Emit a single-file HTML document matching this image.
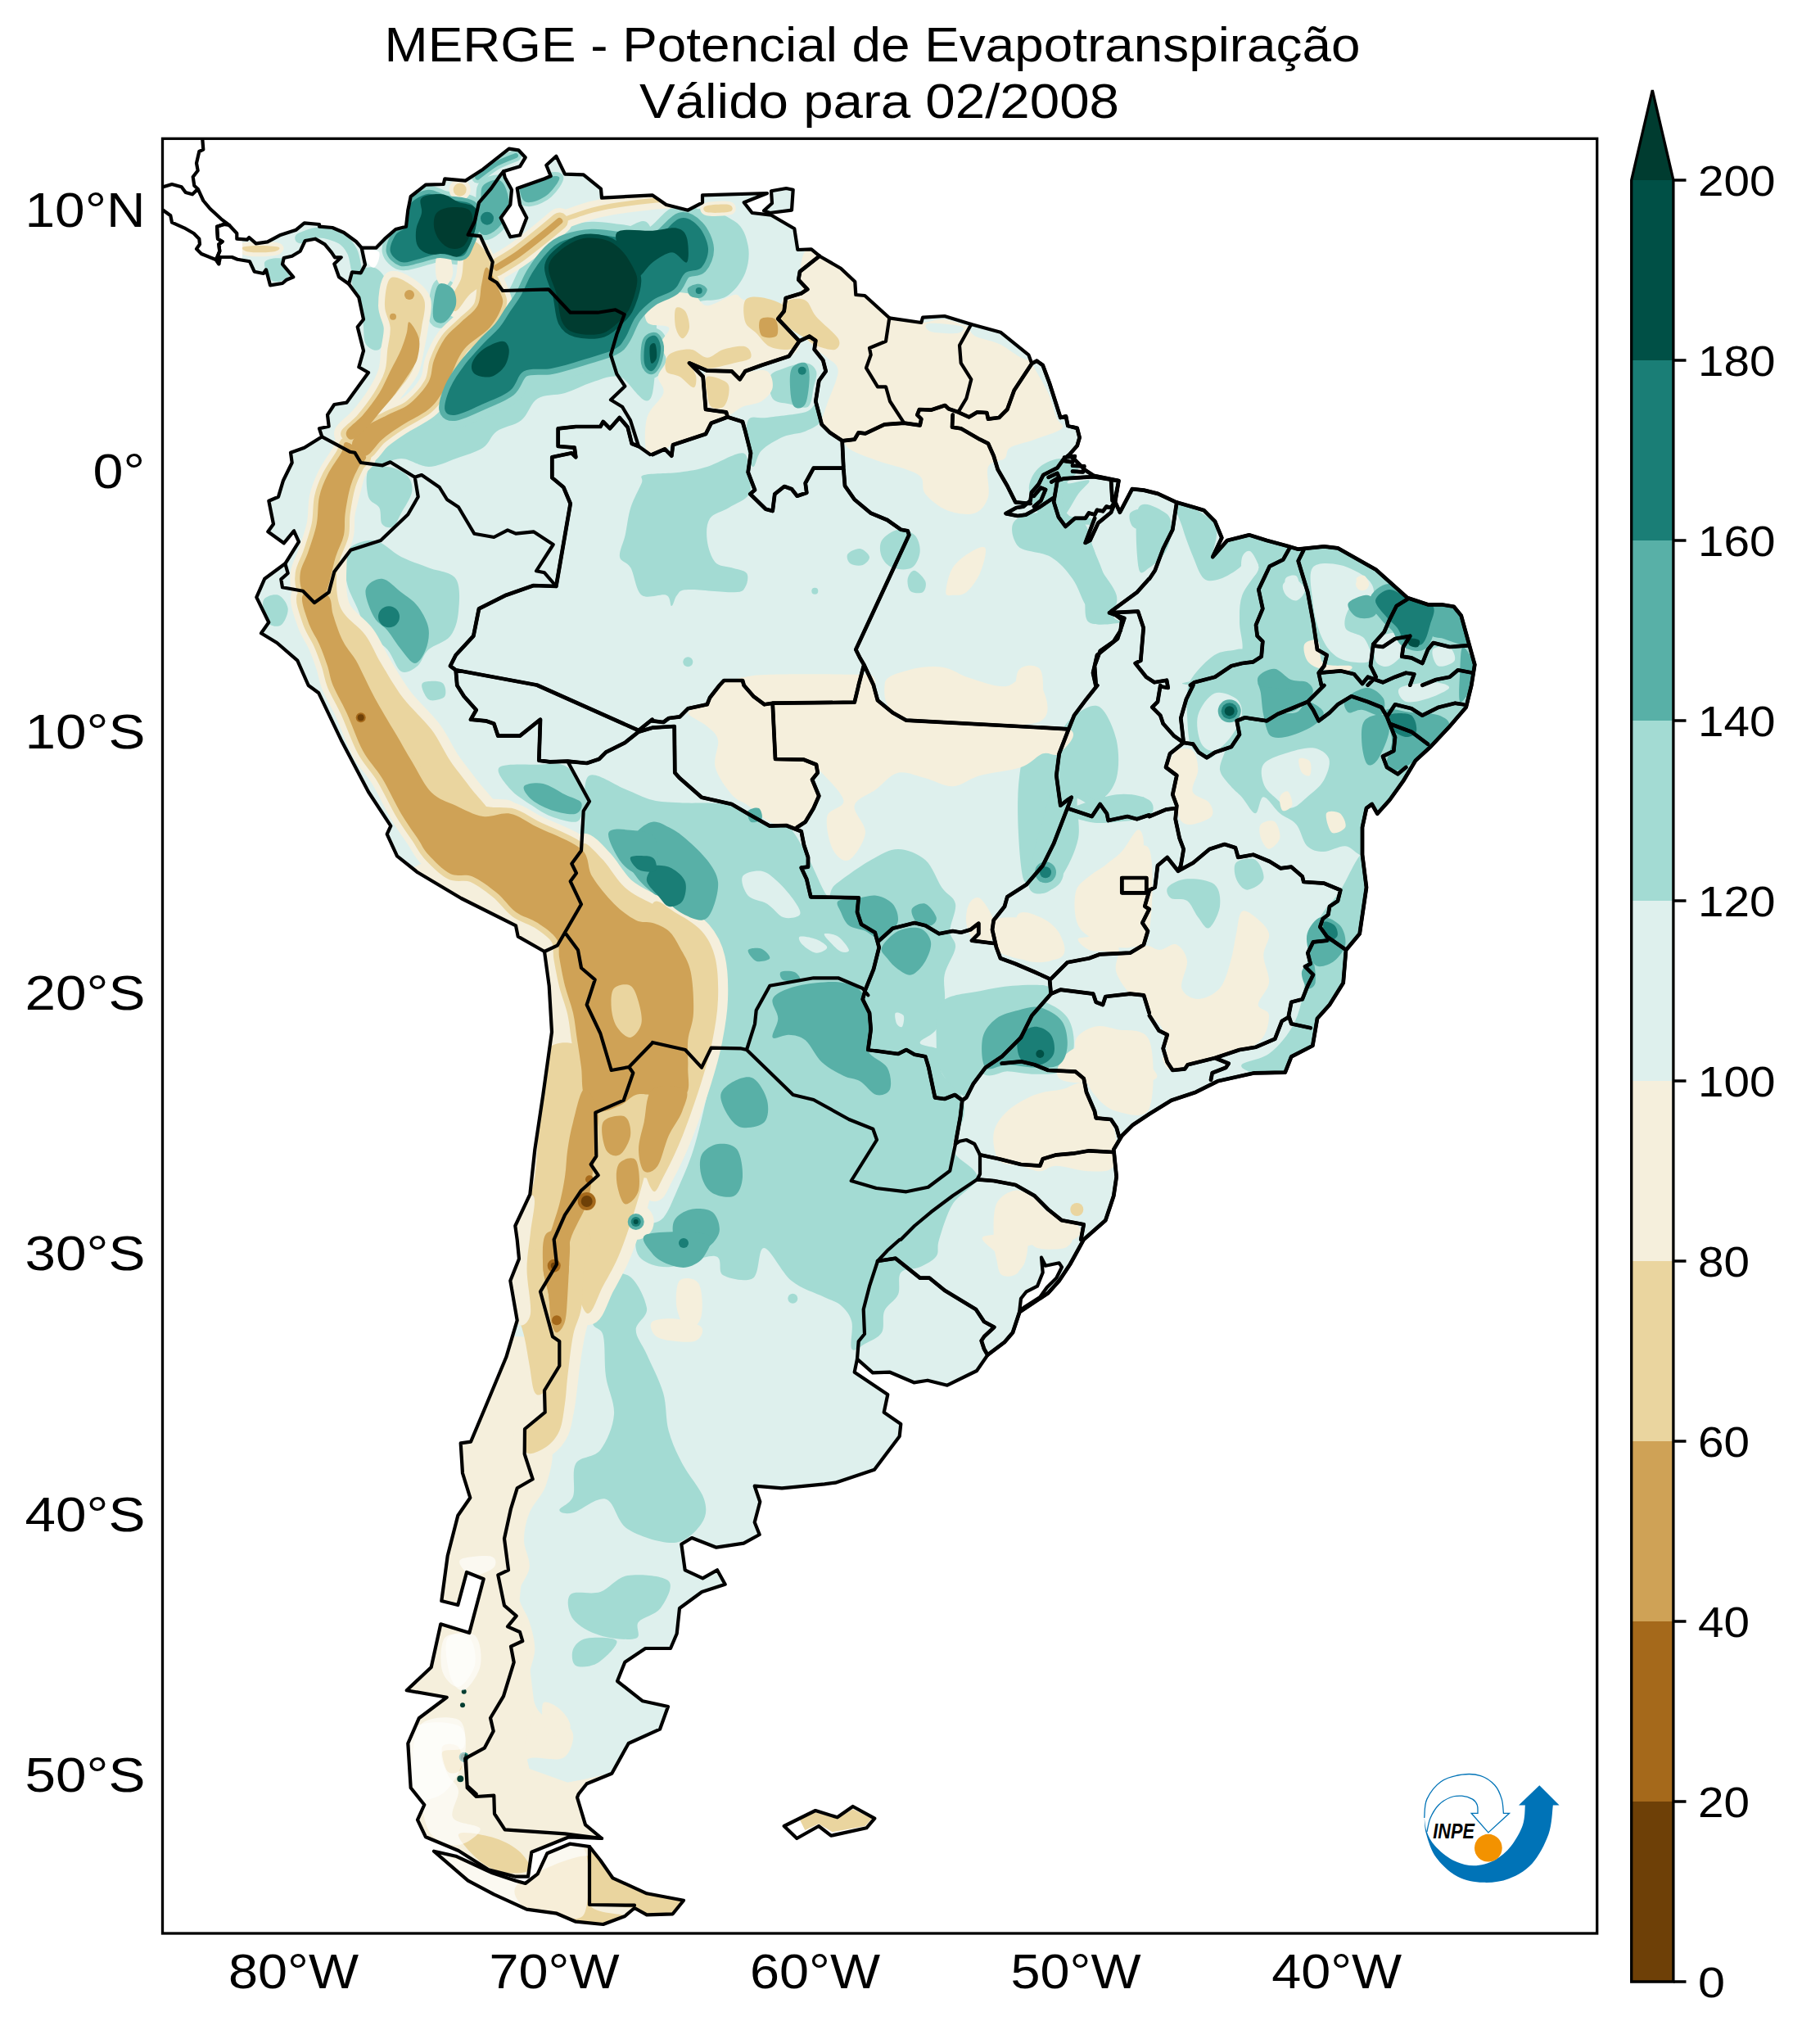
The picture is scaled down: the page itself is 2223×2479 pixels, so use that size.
<!DOCTYPE html><html><head><meta charset="utf-8"><title>MERGE</title><style>html,body{margin:0;padding:0;background:#fff}svg{display:block}text{font-family:"Liberation Sans",sans-serif;fill:#000}</style></head><body>
<svg width="2223" height="2479" viewBox="0 0 2223 2479">
<rect width="2223" height="2479" fill="#fff"/>
<defs>
<clipPath id="land"><path d="M273.3,274.0 L280.0,275.0 L289.3,285.0 L289.3,291.7 L301.7,292.7 L304.3,290.0 L312.7,297.3 L326.7,295.3 L341.7,287.3 L361.7,280.7 L371.7,272.3 L390.0,274.0 L390.0,276.7 L406.0,278.0 L420.0,284.0 L435.0,295.0 L441.7,302.7 L459.3,302.7 L470.0,291.7 L483.3,280.0 L496.0,276.7 L498.3,256.7 L501.7,240.0 L520.0,225.7 L541.7,225.0 L543.3,218.3 L568.3,220.7 L590.0,206.7 L621.7,181.7 L633.3,183.3 L641.7,192.3 L635.0,203.3 L615.0,209.3 L616.7,216.7 L625.0,231.7 L623.3,250.0 L611.7,266.0 L623.3,289.3 L635.0,287.3 L643.3,266.0 L635.0,250.0 L631.7,230.0 L665.0,218.3 L672.7,215.0 L667.3,201.7 L679.3,190.7 L690.0,212.7 L712.7,213.3 L734.0,230.7 L735.0,241.7 L796.7,238.3 L813.7,250.0 L840.3,256.7 L858.0,247.3 L858.0,238.3 L937.0,236.0 L908.7,247.3 L918.7,260.0 L942.0,262.7 L970.3,279.3 L974.3,305.0 L991.0,304.3 L1001.0,312.7 L1027.0,327.7 L1044.3,344.0 L1045.3,360.0 L1056.3,361.0 L1086.3,388.3 L1125.3,394.0 L1127.0,387.7 L1153.7,386.0 L1186.3,396.0 L1222.0,405.7 L1256.3,433.3 L1260.3,444.0 L1266.3,440.7 L1273.7,446.0 L1282.0,468.3 L1295.3,510.0 L1302.0,508.3 L1304.3,520.0 L1315.7,522.9 L1318.6,534.3 L1315.7,544.3 L1305.7,555.7 L1314.3,562.9 L1325.7,574.3 L1335.7,580.7 L1366.4,587.1 L1362.1,612.9 L1367.9,625.7 L1382.9,597.1 L1397.1,598.6 L1414.3,602.9 L1435.7,612.9 L1460.0,620.0 L1470.7,623.3 L1484.0,636.7 L1492.3,656.7 L1481.3,680.0 L1499.0,660.0 L1525.7,653.3 L1547.3,660.0 L1572.3,666.7 L1585.7,670.7 L1617.3,667.3 L1634.0,669.3 L1680.7,695.7 L1719.0,730.0 L1744.0,738.3 L1760.7,738.3 L1775.7,740.7 L1784.7,751.7 L1801.3,811.7 L1797.3,836.7 L1790.7,863.7 L1770.7,887.0 L1747.3,912.0 L1729.0,928.7 L1714.0,953.7 L1697.3,977.0 L1682.3,993.7 L1675.7,982.0 L1669.0,987.0 L1664.0,1010.3 L1664.0,1043.7 L1669.0,1083.7 L1660.7,1140.3 L1644.0,1160.3 L1640.7,1200.3 L1624.0,1227.0 L1609.0,1243.7 L1603.3,1277.0 L1577.3,1290.3 L1569.7,1309.7 L1532.3,1310.3 L1487.3,1320.3 L1460.7,1333.7 L1430.7,1343.7 L1404.0,1360.3 L1383.7,1373.7 L1370.3,1387.0 L1360.3,1403.7 L1363.7,1437.0 L1360.3,1460.3 L1357.0,1470.3 L1350.3,1490.3 L1323.7,1513.7 L1307.0,1544.0 L1293.7,1564.0 L1280.3,1579.0 L1245.3,1602.3 L1237.0,1627.3 L1227.0,1639.0 L1206.3,1654.7 L1193.0,1674.0 L1157.0,1691.7 L1133.0,1685.7 L1116.3,1688.3 L1087.0,1675.7 L1066.0,1676.3 L1047.0,1659.7 L1043.7,1675.7 L1084.3,1703.0 L1079.7,1724.7 L1100.3,1739.0 L1098.7,1754.0 L1068.0,1794.7 L1020.3,1810.7 L1007.0,1812.3 L955.0,1817.3 L921.7,1814.7 L928.3,1834.0 L921.7,1859.0 L927.7,1874.0 L908.3,1884.7 L875.0,1889.7 L845.0,1878.0 L832.3,1885.7 L836.7,1917.3 L858.3,1927.3 L876.0,1917.3 L885.7,1934.7 L857.3,1944.0 L830.0,1964.0 L826.7,1995.0 L819.0,2013.0 L788.3,2013.0 L763.3,2029.7 L754.0,2053.0 L785.0,2077.3 L816.0,2084.0 L806.0,2111.7 L767.7,2129.0 L747.3,2165.7 L716.7,2178.3 L706.7,2190.7 L705.0,2195.0 L715.0,2228.3 L735.0,2245.0 L695.0,2243.3 L649.3,2261.7 L645.0,2291.7 L630.0,2291.7 L596.7,2283.3 L560.0,2260.0 L520.0,2243.3 L510.0,2222.3 L518.3,2204.0 L501.7,2183.3 L498.3,2129.0 L511.7,2098.3 L545.7,2072.7 L496.7,2064.3 L526.7,2036.0 L538.3,1983.3 L573.3,1994.0 L590.7,1928.3 L570.0,1920.0 L559.3,1960.0 L539.3,1955.0 L546.7,1900.0 L559.3,1850.7 L574.3,1829.0 L565.0,1799.0 L562.7,1762.3 L575.0,1760.7 L593.3,1717.3 L618.3,1657.3 L631.7,1612.3 L623.3,1564.0 L634.0,1537.3 L631.7,1514.0 L629.3,1497.0 L647.3,1458.7 L653.3,1403.7 L663.3,1337.0 L674.0,1260.3 L670.7,1203.7 L665.0,1162.0 L632.7,1143.7 L630.0,1130.3 L563.3,1097.0 L510.0,1065.3 L485.0,1045.3 L472.7,1018.7 L477.3,1008.7 L450.0,967.0 L416.7,903.7 L389.3,846.3 L376.7,837.0 L363.3,806.7 L338.3,785.0 L319.0,773.3 L328.3,760.0 L313.3,729.3 L323.3,706.7 L348.3,688.3 L365.0,661.7 L359.0,648.3 L346.7,663.3 L327.3,649.3 L334.0,640.0 L328.3,611.7 L340.0,606.7 L346.0,586.7 L356.7,565.0 L355.0,552.7 L371.7,546.7 L393.3,533.3 L390.0,523.3 L401.7,520.7 L400.0,506.7 L408.3,494.0 L423.3,491.7 L450.0,455.0 L438.3,448.3 L444.0,428.3 L436.7,399.3 L444.0,390.0 L438.3,363.3 L426.0,346.7 L414.0,338.3 L408.3,322.3 L416.7,314.3 L409.0,314.3 L405.0,308.3 L396.7,298.3 L385.0,291.7 L372.7,294.0 L366.7,306.7 L356.7,312.7 L346.7,315.0 L345.0,322.7 L358.3,338.3 L350.0,341.7 L345.0,346.0 L330.0,348.3 L325.0,329.3 L321.7,334.0 L310.7,331.7 L305.0,319.3 L290.0,316.7 L283.3,314.0 L269.0,314.0 L267.3,322.3 L264.0,317.3 L268.3,306.7 L267.3,298.3 L271.7,295.0 L266.0,291.7 L265.0,276.7Z M942.0,233.3 L960.3,230.0 L968.7,231.7 L967.0,256.7 L940.3,260.0 L933.0,257.3 L943.0,248.3Z M530.0,2260.7 L556.7,2266.7 L600.0,2286.7 L630.0,2296.7 L641.7,2300.0 L656.7,2288.3 L668.3,2263.3 L696.0,2251.7 L720.0,2255.0 L733.3,2271.7 L748.3,2293.3 L790.0,2312.3 L835.0,2320.7 L821.7,2337.3 L790.0,2338.3 L775.0,2330.0 L763.3,2340.0 L736.7,2350.0 L703.3,2346.7 L680.0,2336.7 L643.3,2331.7 L603.3,2313.3 L571.7,2296.7Z M957.7,2230.0 L996.0,2211.0 L1022.7,2219.3 L1041.7,2206.0 L1068.3,2220.7 L1058.3,2232.3 L1015.0,2241.7 L1000.0,2230.0 L973.3,2245.0Z" clip-rule="nonzero"/></clipPath>
<clipPath id="data"><rect x="296" y="169.3" width="1654.7" height="2191.7"/></clipPath>
<clipPath id="frame"><rect x="198.5" y="169.3" width="1752.2" height="2191.7"/></clipPath>
</defs>
<g clip-path="url(#data)"><g clip-path="url(#land)">
<rect x="198.5" y="169.3" width="1752.2" height="2191.7" fill="#def0ed"/>
<path d="M450.0,560.0 C455.6,552.2 475.0,535.0 490.0,523.3 C505.0,511.6 528.9,500.6 540.0,490.0 C551.1,479.4 548.4,472.8 556.7,460.0 C565.0,447.2 578.9,427.8 590.0,413.3 C601.1,398.9 613.3,387.7 623.3,373.3 C633.3,358.9 638.9,341.1 650.0,326.7 C661.1,312.3 672.2,294.5 690.0,286.7 C707.8,278.9 738.9,280.0 756.7,280.0 C774.5,280.0 790.3,253.4 797.0,286.7 C803.7,320.0 803.7,451.1 797.0,480.0 C790.3,508.9 769.0,462.2 756.7,460.0 C744.4,457.8 734.4,463.4 723.3,466.7 C712.2,470.0 701.1,476.7 690.0,480.0 C678.9,483.3 665.6,481.1 656.7,486.7 C647.8,492.2 645.0,506.6 636.7,513.3 C628.4,520.0 614.5,521.1 606.7,526.7 C598.9,532.3 598.3,541.2 590.0,546.7 C581.7,552.2 567.8,556.1 556.7,560.0 C545.6,563.9 534.4,570.0 523.3,570.0 C512.2,570.0 501.1,560.0 490.0,560.0 C478.9,560.0 463.4,570.0 456.7,570.0 C450.0,570.0 444.4,567.8 450.0,560.0Z" fill="#a3dbd3"/>
<path d="M650.0,333.3 C655.5,324.4 663.3,313.4 670.0,306.7 C676.7,300.0 681.1,296.6 690.0,293.3 C698.9,290.0 712.2,287.2 723.3,286.7 C734.4,286.1 744.4,288.9 756.7,290.0 C769.0,291.1 784.7,297.2 797.0,293.3 C809.3,289.4 820.9,269.5 830.3,266.7 C839.7,263.9 847.5,270.6 853.3,276.7 C859.1,282.8 864.4,295.0 865.0,303.3 C865.6,311.6 861.4,321.7 856.7,326.7 C852.0,331.7 842.5,328.9 837.0,333.3 C831.5,337.7 830.4,347.7 823.7,353.3 C817.0,358.9 804.8,361.1 797.0,366.7 C789.2,372.3 782.3,378.9 776.7,386.7 C771.1,394.5 767.8,406.6 763.3,413.3 C758.8,420.0 758.9,422.2 750.0,426.7 C741.1,431.1 722.8,436.1 710.0,440.0 C697.2,443.9 685.0,447.8 673.3,450.0 C661.6,452.2 648.3,448.9 640.0,453.3 C631.7,457.8 631.6,470.0 623.3,476.7 C615.0,483.4 601.1,488.3 590.0,493.3 C578.9,498.3 564.5,505.6 556.7,506.7 C548.9,507.8 544.4,505.6 543.3,500.0 C542.2,494.4 546.1,482.2 550.0,473.3 C553.9,464.4 560.0,455.6 566.7,446.7 C573.4,437.8 582.8,427.8 590.0,420.0 C597.2,412.2 604.5,406.7 610.0,400.0 C615.5,393.3 618.8,386.7 623.3,380.0 C627.8,373.3 632.2,367.8 636.7,360.0 C641.2,352.2 644.5,342.2 650.0,333.3Z" fill="#a3dbd3" stroke="#a3dbd3" stroke-width="32" stroke-linejoin="round"/>
<path d="M650.0,333.3 C655.5,324.4 663.3,313.4 670.0,306.7 C676.7,300.0 681.1,296.6 690.0,293.3 C698.9,290.0 712.2,287.2 723.3,286.7 C734.4,286.1 744.4,288.9 756.7,290.0 C769.0,291.1 784.7,297.2 797.0,293.3 C809.3,289.4 820.9,269.5 830.3,266.7 C839.7,263.9 847.5,270.6 853.3,276.7 C859.1,282.8 864.4,295.0 865.0,303.3 C865.6,311.6 861.4,321.7 856.7,326.7 C852.0,331.7 842.5,328.9 837.0,333.3 C831.5,337.7 830.4,347.7 823.7,353.3 C817.0,358.9 804.8,361.1 797.0,366.7 C789.2,372.3 782.3,378.9 776.7,386.7 C771.1,394.5 767.8,406.6 763.3,413.3 C758.8,420.0 758.9,422.2 750.0,426.7 C741.1,431.1 722.8,436.1 710.0,440.0 C697.2,443.9 685.0,447.8 673.3,450.0 C661.6,452.2 648.3,448.9 640.0,453.3 C631.7,457.8 631.6,470.0 623.3,476.7 C615.0,483.4 601.1,488.3 590.0,493.3 C578.9,498.3 564.5,505.6 556.7,506.7 C548.9,507.8 544.4,505.6 543.3,500.0 C542.2,494.4 546.1,482.2 550.0,473.3 C553.9,464.4 560.0,455.6 566.7,446.7 C573.4,437.8 582.8,427.8 590.0,420.0 C597.2,412.2 604.5,406.7 610.0,400.0 C615.5,393.3 618.8,386.7 623.3,380.0 C627.8,373.3 632.2,367.8 636.7,360.0 C641.2,352.2 644.5,342.2 650.0,333.3Z" fill="#a3dbd3"/>
<path d="M503.3,246.7 C507.2,242.8 516.6,237.3 523.3,236.7 C530.0,236.1 534.4,241.1 543.3,243.3 C552.2,245.5 570.3,245.0 576.7,250.0 C583.1,255.0 582.3,265.0 581.7,273.3 C581.1,281.6 576.4,293.3 573.3,300.0 C570.2,306.7 569.4,311.6 563.3,313.3 C557.2,315.0 545.6,309.4 536.7,310.0 C527.8,310.6 517.8,315.0 510.0,316.7 C502.2,318.4 495.6,321.7 490.0,320.0 C484.4,318.3 477.8,312.2 476.7,306.7 C475.6,301.1 480.0,291.7 483.3,286.7 C486.6,281.7 493.9,281.1 496.7,276.7 C499.5,272.2 498.9,265.0 500.0,260.0 C501.1,255.0 499.4,250.6 503.3,246.7Z" fill="#a3dbd3" stroke="#a3dbd3" stroke-width="20" stroke-linejoin="round"/>
<path d="M503.3,246.7 C507.2,242.8 516.6,237.3 523.3,236.7 C530.0,236.1 534.4,241.1 543.3,243.3 C552.2,245.5 570.3,245.0 576.7,250.0 C583.1,255.0 582.3,265.0 581.7,273.3 C581.1,281.6 576.4,293.3 573.3,300.0 C570.2,306.7 569.4,311.6 563.3,313.3 C557.2,315.0 545.6,309.4 536.7,310.0 C527.8,310.6 517.8,315.0 510.0,316.7 C502.2,318.4 495.6,321.7 490.0,320.0 C484.4,318.3 477.8,312.2 476.7,306.7 C475.6,301.1 480.0,291.7 483.3,286.7 C486.6,281.7 493.9,281.1 496.7,276.7 C499.5,272.2 498.9,265.0 500.0,260.0 C501.1,255.0 499.4,250.6 503.3,246.7Z" fill="#a3dbd3"/>
<path d="M590.0,226.7 C593.9,222.2 605.0,218.3 610.0,220.0 C615.0,221.7 618.3,230.0 620.0,236.7 C621.7,243.4 622.2,252.8 620.0,260.0 C617.8,267.2 611.7,275.6 606.7,280.0 C601.7,284.4 594.5,288.4 590.0,286.7 C585.5,285.0 580.5,276.7 580.0,270.0 C579.5,263.3 585.0,253.9 586.7,246.7 C588.4,239.5 586.1,231.1 590.0,226.7Z" fill="#a3dbd3" stroke="#a3dbd3" stroke-width="12" stroke-linejoin="round"/>
<path d="M590.0,226.7 C593.9,222.2 605.0,218.3 610.0,220.0 C615.0,221.7 618.3,230.0 620.0,236.7 C621.7,243.4 622.2,252.8 620.0,260.0 C617.8,267.2 611.7,275.6 606.7,280.0 C601.7,284.4 594.5,288.4 590.0,286.7 C585.5,285.0 580.5,276.7 580.0,270.0 C579.5,263.3 585.0,253.9 586.7,246.7 C588.4,239.5 586.1,231.1 590.0,226.7Z" fill="#a3dbd3"/>
<path d="M583.3,216.7 C587.2,213.9 598.9,204.4 606.7,200.0 C614.5,195.6 626.1,191.7 630.0,190.0" fill="none" stroke="#a3dbd3" stroke-width="14" stroke-linejoin="round" stroke-linecap="round"/>
<path d="M636.7,223.3 C640.9,218.9 655.5,217.8 663.3,216.7 C671.1,215.6 682.2,213.4 683.3,216.7 C684.4,220.0 675.5,231.7 670.0,236.7 C664.5,241.7 655.3,245.6 650.0,246.7 C644.7,247.8 640.5,247.2 638.3,243.3 C636.1,239.4 632.5,227.7 636.7,223.3Z" fill="#a3dbd3" stroke="#a3dbd3" stroke-width="10" stroke-linejoin="round"/>
<path d="M636.7,223.3 C640.9,218.9 655.5,217.8 663.3,216.7 C671.1,215.6 682.2,213.4 683.3,216.7 C684.4,220.0 675.5,231.7 670.0,236.7 C664.5,241.7 655.3,245.6 650.0,246.7 C644.7,247.8 640.5,247.2 638.3,243.3 C636.1,239.4 632.5,227.7 636.7,223.3Z" fill="#a3dbd3"/>
<path d="M536.7,346.7 C540.6,344.5 550.0,348.9 553.3,353.3 C556.6,357.7 558.4,366.6 556.7,373.3 C555.0,380.0 547.8,390.5 543.3,393.3 C538.8,396.1 532.2,394.4 530.0,390.0 C527.8,385.6 528.9,373.9 530.0,366.7 C531.1,359.5 532.8,348.9 536.7,346.7Z" fill="#a3dbd3" stroke="#a3dbd3" stroke-width="12" stroke-linejoin="round"/>
<path d="M536.7,346.7 C540.6,344.5 550.0,348.9 553.3,353.3 C556.6,357.7 558.4,366.6 556.7,373.3 C555.0,380.0 547.8,390.5 543.3,393.3 C538.8,396.1 532.2,394.4 530.0,390.0 C527.8,385.6 528.9,373.9 530.0,366.7 C531.1,359.5 532.8,348.9 536.7,346.7Z" fill="#a3dbd3"/>
<path d="M430.0,336.7 C433.3,330.0 449.5,325.0 456.7,326.7 C463.9,328.4 471.6,338.9 473.3,346.7 C475.0,354.5 466.7,364.4 466.7,373.3 C466.7,382.2 473.9,391.1 473.3,400.0 C472.7,408.9 467.7,423.4 463.3,426.7 C458.9,430.0 450.0,425.6 446.7,420.0 C443.4,414.4 445.0,402.2 443.3,393.3 C441.6,384.4 438.9,376.1 436.7,366.7 C434.5,357.3 426.7,343.4 430.0,336.7Z" fill="#a3dbd3"/>
<path d="M366.7,290.7 C370.6,289.6 381.7,283.8 390.0,284.0 C398.3,284.2 410.0,287.9 416.7,291.7 C423.4,295.5 426.9,300.9 430.0,306.7 C433.1,312.5 434.2,323.4 435.0,326.7" fill="none" stroke="#a3dbd3" stroke-width="13" stroke-linejoin="round" stroke-linecap="round"/>
<path d="M323.3,320.0 C325.5,315.6 341.7,313.9 346.7,316.7 C351.7,319.5 355.5,332.3 353.3,336.7 C351.1,341.1 338.3,346.1 333.3,343.3 C328.3,340.5 321.1,324.4 323.3,320.0Z" fill="#a3dbd3"/>
<path d="M450.0,573.3 C453.9,567.2 465.5,568.9 473.3,570.0 C481.1,571.1 491.7,575.0 496.7,580.0 C501.7,585.0 504.4,592.2 503.3,600.0 C502.2,607.8 493.9,619.5 490.0,626.7 C486.1,633.9 483.9,641.1 480.0,643.3 C476.1,645.5 469.5,643.9 466.7,640.0 C463.9,636.1 466.1,625.5 463.3,620.0 C460.5,614.5 452.2,614.5 450.0,606.7 C447.8,598.9 446.1,579.4 450.0,573.3Z" fill="#a3dbd3"/>
<path d="M423.3,673.3 C428.9,665.0 445.6,658.9 456.7,660.0 C467.8,661.1 478.9,674.5 490.0,680.0 C501.1,685.5 512.2,688.8 523.3,693.3 C534.4,697.8 550.6,697.8 556.7,706.7 C562.8,715.6 561.1,735.0 560.0,746.7 C558.9,758.4 556.1,768.9 550.0,776.7 C543.9,784.5 530.0,787.2 523.3,793.3 C516.6,799.4 515.5,808.8 510.0,813.3 C504.4,817.8 496.1,823.3 490.0,820.0 C483.9,816.7 480.0,801.1 473.3,793.3 C466.6,785.5 456.1,781.6 450.0,773.3 C443.9,765.0 441.1,753.8 436.7,743.3 C432.2,732.8 425.5,721.7 423.3,710.0 C421.1,698.3 417.7,681.6 423.3,673.3Z" fill="#a3dbd3"/>
<path d="M321.7,733.3 C323.9,727.8 335.0,725.0 340.0,726.7 C345.0,728.4 351.1,737.2 351.7,743.3 C352.2,749.4 347.5,760.5 343.3,763.3 C339.1,766.1 330.3,765.0 326.7,760.0 C323.1,755.0 319.5,738.8 321.7,733.3Z" fill="#a3dbd3"/>
<path d="M787.0,580.0 C794.8,577.8 817.5,578.4 830.3,576.7 C843.1,575.0 850.9,573.9 863.7,570.0 C876.5,566.1 898.7,552.2 907.0,553.3 C915.3,554.4 912.3,568.4 913.7,576.7 C915.1,585.0 919.2,596.1 915.3,603.3 C911.4,610.5 898.3,615.0 890.3,620.0 C882.2,625.0 871.4,626.6 867.0,633.3 C862.6,640.0 862.6,651.1 863.7,660.0 C864.8,668.9 868.7,681.2 873.7,686.7 C878.7,692.2 887.3,691.1 893.7,693.3 C900.1,695.5 909.2,696.1 912.0,700.0 C914.8,703.9 912.8,712.8 910.3,716.7 C907.8,720.6 908.7,722.8 897.0,723.3 C885.3,723.8 852.0,719.4 840.3,720.0 C828.6,720.6 830.3,723.4 827.0,726.7 C823.7,730.0 822.5,740.0 820.3,740.0 C818.1,740.0 819.8,728.9 813.7,726.7 C807.6,724.5 790.9,732.3 783.7,726.7 C776.5,721.1 774.8,701.1 770.3,693.3 C765.8,685.5 758.1,686.7 757.0,680.0 C755.9,673.3 761.5,663.3 763.7,653.3 C765.9,643.3 767.0,630.5 770.3,620.0 C773.6,609.5 780.9,596.7 783.7,590.0 C786.5,583.3 779.2,582.2 787.0,580.0Z" fill="#a3dbd3"/>
<path d="M940.3,460.0 C942.5,453.9 949.8,452.8 957.0,450.0 C964.2,447.2 977.0,442.8 983.7,443.3 C990.4,443.9 995.3,448.3 997.0,453.3 C998.7,458.3 995.4,466.1 993.7,473.3 C992.0,480.5 992.0,493.4 987.0,496.7 C982.0,500.0 970.9,495.0 963.7,493.3 C956.5,491.6 947.6,492.2 943.7,486.7 C939.8,481.1 938.1,466.1 940.3,460.0Z" fill="#a3dbd3"/>
<path d="M913.7,513.3 C917.6,506.1 925.3,511.7 937.0,510.0 C948.7,508.3 973.7,506.1 983.7,503.3 C993.7,500.5 993.7,491.6 997.0,493.3 C1000.3,495.0 1005.9,507.7 1003.7,513.3 C1001.5,518.9 991.5,523.4 983.7,526.7 C975.9,530.0 965.9,529.4 957.0,533.3 C948.1,537.2 936.4,543.9 930.3,550.0 C924.2,556.1 923.1,569.5 920.3,570.0 C917.5,570.5 914.8,562.8 913.7,553.3 C912.6,543.8 909.8,520.5 913.7,513.3Z" fill="#a3dbd3"/>
<path d="M1077.0,660.0 C1080.3,654.5 1090.3,647.8 1097.0,646.7 C1103.7,645.6 1112.5,648.9 1117.0,653.3 C1121.5,657.7 1124.2,666.6 1123.7,673.3 C1123.2,680.0 1119.3,690.0 1113.7,693.3 C1108.1,696.6 1096.4,695.5 1090.3,693.3 C1084.2,691.1 1079.2,685.5 1077.0,680.0 C1074.8,674.5 1073.7,665.5 1077.0,660.0Z" fill="#a3dbd3"/>
<path d="M1035.3,676.7 C1037.2,673.7 1045.8,669.5 1050.3,670.0 C1054.8,670.5 1061.4,676.7 1062.0,680.0 C1062.6,683.3 1057.6,688.6 1053.7,690.0 C1049.8,691.4 1041.8,690.5 1038.7,688.3 C1035.6,686.1 1033.4,679.8 1035.3,676.7Z" fill="#a3dbd3"/>
<path d="M1108.7,706.7 C1109.5,702.5 1113.4,696.2 1117.0,696.7 C1120.6,697.2 1128.6,705.6 1130.3,710.0 C1132.0,714.4 1130.0,721.3 1127.0,723.3 C1124.0,725.2 1115.0,724.5 1112.0,721.7 C1109.0,718.9 1107.9,710.9 1108.7,706.7Z" fill="#a3dbd3"/>
<path d="M1243.7,633.3 C1245.9,626.6 1268.1,625.6 1277.0,626.7 C1285.9,627.8 1288.1,634.5 1297.0,640.0 C1305.9,645.5 1322.5,651.1 1330.3,660.0 C1338.1,668.9 1338.1,682.2 1343.7,693.3 C1349.3,704.4 1360.9,716.7 1363.7,726.7 C1366.5,736.7 1359.2,747.8 1360.3,753.3 C1361.4,758.8 1375.3,758.9 1370.3,760.0 C1365.3,761.1 1338.1,765.5 1330.3,760.0 C1322.5,754.5 1327.6,736.7 1323.7,726.7 C1319.8,716.7 1312.6,707.8 1307.0,700.0 C1301.4,692.2 1297.5,685.5 1290.3,680.0 C1283.1,674.5 1271.5,674.5 1263.7,666.7 C1255.9,658.9 1241.5,640.0 1243.7,633.3Z" fill="#a3dbd3"/>
<path d="M1257.0,593.3 C1258.1,585.0 1263.6,575.5 1270.3,570.0 C1277.0,564.5 1289.2,559.5 1297.0,560.0 C1304.8,560.5 1315.9,568.3 1317.0,573.3 C1318.1,578.3 1301.5,587.8 1303.7,590.0 C1305.9,592.2 1328.1,584.5 1330.3,586.7 C1332.5,588.9 1322.5,595.5 1317.0,603.3 C1311.5,611.1 1303.7,628.3 1297.0,633.3 C1290.3,638.3 1282.5,635.5 1277.0,633.3 C1271.5,631.1 1267.0,626.7 1263.7,620.0 C1260.4,613.3 1255.9,601.6 1257.0,593.3Z" fill="#a3dbd3"/>
<path d="M1297.0,590.0 C1296.5,593.3 1292.6,602.8 1293.7,610.0 C1294.8,617.2 1297.6,628.8 1303.7,633.3 C1309.8,637.8 1325.9,636.1 1330.3,636.7" fill="none" stroke="#a3dbd3" stroke-width="8" stroke-linejoin="round" stroke-linecap="round"/>
<path d="M1380.3,626.7 C1382.5,623.1 1392.5,620.6 1397.0,621.7 C1401.5,622.8 1406.5,629.1 1407.0,633.3 C1407.5,637.5 1404.2,645.0 1400.3,646.7 C1396.4,648.4 1387.0,646.6 1383.7,643.3 C1380.4,640.0 1378.1,630.3 1380.3,626.7Z" fill="#a3dbd3"/>
<path d="M847.0,260.0 C858.1,245.0 885.9,263.3 897.0,270.0 C908.1,276.7 911.5,289.4 913.7,300.0 C915.9,310.6 914.2,323.3 910.3,333.3 C906.4,343.3 898.1,354.4 890.3,360.0 C882.5,365.6 873.7,366.7 863.7,366.7 C853.7,366.7 833.1,377.8 830.3,360.0 C827.5,342.2 835.9,275.0 847.0,260.0Z" fill="#a3dbd3"/>
<circle cx="840.3" cy="808.3" r="6" fill="#a3dbd3"/>
<circle cx="995.3" cy="721.7" r="4" fill="#a3dbd3"/>
<path d="M1437.3,613.3 C1444.0,612.8 1476.7,628.9 1484.0,640.0 C1491.3,651.1 1478.5,676.7 1481.3,680.0 C1484.1,683.3 1493.3,664.5 1500.7,660.0 C1508.1,655.5 1513.8,652.2 1525.7,653.3 C1537.6,654.4 1554.2,664.0 1572.3,666.7 C1590.3,669.4 1615.9,664.5 1634.0,669.3 C1652.1,674.1 1666.5,685.6 1680.7,695.7 C1694.9,705.8 1703.2,722.5 1719.0,730.0 C1734.8,737.5 1764.8,737.1 1775.7,740.7 C1786.7,744.3 1780.4,739.9 1784.7,751.7 C1789.0,763.5 1799.2,797.5 1801.3,811.7 C1803.4,825.9 1853.5,832.5 1797.3,836.7 C1741.1,840.9 1516.2,838.4 1464.0,836.7 C1411.8,835.0 1477.3,830.6 1484.0,826.7 C1490.7,822.8 1498.5,818.9 1504.0,813.3 C1509.5,807.7 1515.6,802.2 1517.3,793.3 C1519.0,784.4 1514.0,771.1 1514.0,760.0 C1514.0,748.9 1513.4,737.8 1517.3,726.7 C1521.2,715.6 1536.2,701.1 1537.3,693.3 C1538.4,685.5 1527.9,680.0 1524.0,680.0 C1520.1,680.0 1519.5,688.8 1514.0,693.3 C1508.5,697.8 1497.9,704.5 1490.7,706.7 C1483.5,708.9 1476.3,711.2 1470.7,706.7 C1465.1,702.2 1461.8,690.6 1457.3,680.0 C1452.8,669.4 1447.3,654.4 1444.0,643.3 C1440.7,632.2 1430.6,613.8 1437.3,613.3Z" fill="#a3dbd3"/>
<path d="M1390.7,620.0 C1396.2,608.9 1417.3,622.2 1424.0,626.7 C1430.7,631.2 1430.7,638.9 1430.7,646.7 C1430.7,654.5 1428.5,665.5 1424.0,673.3 C1419.5,681.1 1409.5,690.0 1404.0,693.3 C1398.5,696.6 1392.9,705.5 1390.7,693.3 C1388.5,681.1 1385.2,631.1 1390.7,620.0Z" fill="#a3dbd3"/>
<path d="M1456.7,826.7 C1462.2,818.9 1474.4,805.6 1483.3,800.0 C1492.2,794.4 1501.1,795.5 1510.0,793.3 C1518.9,791.1 1531.7,795.6 1536.7,786.7 C1541.7,777.8 1537.8,755.6 1540.0,740.0 C1542.2,724.4 1544.5,705.0 1550.0,693.3 C1555.5,681.6 1562.2,674.2 1573.3,670.0 C1584.4,665.8 1598.9,663.8 1616.7,668.3 C1634.5,672.8 1663.1,686.4 1680.0,696.7 C1696.9,707.0 1701.0,720.6 1718.3,730.0 C1735.6,739.4 1770.3,739.5 1784.0,753.3 C1797.7,767.1 1799.7,794.4 1800.7,812.7 C1801.7,831.0 1799.0,846.8 1790.0,863.3 C1781.0,879.8 1759.5,896.7 1746.7,911.7 C1733.9,926.7 1724.1,939.7 1713.3,953.3 C1702.5,966.9 1690.0,983.8 1681.7,993.3 C1673.4,1002.8 1666.4,1001.7 1663.3,1010.0 C1660.2,1018.3 1666.6,1039.4 1663.3,1043.3 C1660.0,1047.2 1651.1,1033.8 1643.3,1033.3 C1635.5,1032.8 1624.5,1040.0 1616.7,1040.0 C1608.9,1040.0 1602.3,1038.8 1596.7,1033.3 C1591.1,1027.8 1588.9,1013.4 1583.3,1006.7 C1577.7,1000.0 1570.0,998.9 1563.3,993.3 C1556.6,987.7 1548.3,973.3 1543.3,973.3 C1538.3,973.3 1537.7,993.3 1533.3,993.3 C1528.9,993.3 1521.7,978.8 1516.7,973.3 C1511.7,967.8 1507.8,965.5 1503.3,960.0 C1498.8,954.5 1491.1,947.8 1490.0,940.0 C1488.9,932.2 1498.9,915.5 1496.7,913.3 C1494.5,911.1 1482.3,925.6 1476.7,926.7 C1471.1,927.8 1467.2,923.3 1463.3,920.0 C1459.4,916.7 1455.5,914.5 1453.3,906.7 C1451.1,898.9 1450.5,883.3 1450.0,873.3 C1449.5,863.3 1448.9,854.5 1450.0,846.7 C1451.1,838.9 1451.2,834.5 1456.7,826.7Z" fill="#a3dbd3"/>
<path d="M1296.7,893.3 C1303.1,878.3 1322.2,868.9 1330.0,866.7 C1337.8,864.5 1342.2,873.3 1343.3,880.0 C1344.4,886.7 1335.6,897.8 1336.7,906.7 C1337.8,915.6 1345.6,927.8 1350.0,933.3 C1354.4,938.8 1363.3,933.3 1363.3,940.0 C1363.3,946.7 1348.9,965.5 1350.0,973.3 C1351.1,981.1 1362.2,986.7 1370.0,986.7 C1377.8,986.7 1393.4,972.2 1396.7,973.3 C1400.0,974.4 1396.1,988.8 1390.0,993.3 C1383.9,997.8 1368.9,1001.1 1360.0,1000.0 C1351.1,998.9 1345.0,991.2 1336.7,986.7 C1328.4,982.2 1316.7,973.3 1310.0,973.3 C1303.3,973.3 1299.8,989.5 1296.7,986.7 C1293.7,983.9 1291.7,972.3 1291.7,956.7 C1291.7,941.1 1290.3,908.3 1296.7,893.3Z" fill="#a3dbd3"/>
<path d="M1243.3,633.3 C1255.5,627.7 1301.1,626.6 1316.7,633.3 C1332.3,640.0 1331.2,661.1 1336.7,673.3 C1342.2,685.5 1346.1,695.6 1350.0,706.7 C1353.9,717.8 1361.1,732.2 1360.0,740.0 C1358.9,747.8 1348.8,753.3 1343.3,753.3 C1337.8,753.3 1332.2,747.8 1326.7,740.0 C1321.2,732.2 1317.2,716.7 1310.0,706.7 C1302.8,696.7 1294.4,686.7 1283.3,680.0 C1272.2,673.3 1250.0,674.5 1243.3,666.7 C1236.6,658.9 1231.1,638.9 1243.3,633.3Z" fill="#a3dbd3"/>
<path d="M1256.7,906.7 C1265.0,895.6 1287.8,895.6 1293.3,906.7 C1298.8,917.8 1290.0,960.0 1290.0,973.3 C1290.0,986.6 1294.4,977.8 1293.3,986.7 C1292.2,995.6 1287.2,1014.5 1283.3,1026.7 C1279.4,1038.9 1275.5,1052.2 1270.0,1060.0 C1264.5,1067.8 1254.5,1087.8 1250.0,1073.3 C1245.5,1058.8 1242.2,1001.1 1243.3,973.3 C1244.4,945.5 1248.4,917.8 1256.7,906.7Z" fill="#a3dbd3"/>
<path d="M1426.7,1083.3 C1430.0,1079.4 1440.6,1073.8 1450.0,1073.3 C1459.4,1072.8 1476.6,1074.4 1483.3,1080.0 C1490.0,1085.6 1491.1,1097.8 1490.0,1106.7 C1488.9,1115.6 1481.2,1131.1 1476.7,1133.3 C1472.2,1135.5 1467.8,1125.5 1463.3,1120.0 C1458.8,1114.5 1455.5,1103.9 1450.0,1100.0 C1444.5,1096.1 1433.9,1099.5 1430.0,1096.7 C1426.1,1093.9 1423.4,1087.2 1426.7,1083.3Z" fill="#a3dbd3"/>
<path d="M1510.0,1053.3 C1513.9,1049.4 1527.8,1046.7 1533.3,1050.0 C1538.8,1053.3 1545.0,1067.2 1543.3,1073.3 C1541.6,1079.4 1528.8,1086.7 1523.3,1086.7 C1517.8,1086.7 1512.2,1078.9 1510.0,1073.3 C1507.8,1067.7 1506.1,1057.2 1510.0,1053.3Z" fill="#a3dbd3"/>
<path d="M1636.7,1088.3 C1644.5,1076.6 1658.0,1044.1 1663.3,1043.3 C1668.6,1042.5 1668.8,1067.2 1668.3,1083.3 C1667.8,1099.4 1664.2,1127.2 1660.0,1140.0 C1655.8,1152.8 1646.6,1150.0 1643.3,1160.0 C1640.0,1170.0 1643.3,1188.9 1640.0,1200.0 C1636.7,1211.1 1628.6,1219.5 1623.3,1226.7 C1618.0,1233.9 1611.7,1235.0 1608.3,1243.3 C1604.9,1251.6 1608.0,1268.9 1602.7,1276.7 C1597.4,1284.5 1582.3,1284.6 1576.7,1290.0 C1571.1,1295.4 1576.5,1306.0 1569.0,1309.3 C1561.5,1312.6 1540.4,1311.5 1531.7,1310.0 C1523.0,1308.5 1513.7,1303.9 1516.7,1300.0 C1519.8,1296.1 1540.0,1293.9 1550.0,1286.7 C1560.0,1279.5 1570.0,1267.5 1576.7,1256.7 C1583.4,1245.9 1586.7,1235.6 1590.0,1221.7 C1593.3,1207.8 1594.5,1186.9 1596.7,1173.3 C1598.9,1159.7 1600.0,1150.0 1603.3,1140.0 C1606.6,1130.0 1611.1,1121.9 1616.7,1113.3 C1622.3,1104.7 1628.9,1100.0 1636.7,1088.3Z" fill="#a3dbd3"/>
<circle cx="776.7" cy="1492.0" r="14" fill="#a3dbd3"/>
<path d="M610.0,937.0 C615.6,932.0 642.8,933.7 656.7,933.7 C670.6,933.7 682.8,929.5 693.3,937.0 C703.8,944.5 716.8,969.8 720.0,978.7 C723.2,987.6 715.5,986.1 712.7,990.3 C709.9,994.5 709.9,1002.6 703.3,1003.7 C696.7,1004.8 682.2,1000.3 673.3,997.0 C664.4,993.7 658.3,989.2 650.0,983.7 C641.7,978.2 630.0,971.5 623.3,963.7 C616.6,955.9 604.4,942.0 610.0,937.0Z" fill="#a3dbd3"/>
<path d="M516.7,833.7 C520.3,831.5 535.6,830.9 540.0,833.7 C544.4,836.5 545.5,846.7 543.3,850.3 C541.1,853.9 530.9,855.8 526.7,855.3 C522.5,854.8 520.0,850.6 518.3,847.0 C516.6,843.4 513.1,835.9 516.7,833.7Z" fill="#a3dbd3"/>
<path d="M720.0,947.0 C728.4,942.6 750.9,958.7 763.7,963.7 C776.5,968.7 785.9,974.2 797.0,977.0 C808.1,979.8 814.2,979.2 830.3,980.3 C846.4,981.4 875.4,979.0 893.7,983.7 C912.0,988.4 928.6,1004.3 940.3,1008.7 C952.0,1013.1 955.9,1003.9 963.7,1010.3 C971.5,1016.7 979.2,1033.1 987.0,1047.0 C994.8,1060.9 1004.8,1088.2 1010.3,1093.7 C1015.8,1099.2 1011.4,1087.5 1020.3,1080.3 C1029.2,1073.1 1050.9,1057.5 1063.7,1050.3 C1076.5,1043.1 1085.9,1037.0 1097.0,1037.0 C1108.1,1037.0 1121.4,1042.5 1130.3,1050.3 C1139.2,1058.1 1144.2,1074.8 1150.3,1083.7 C1156.4,1092.6 1165.3,1094.8 1167.0,1103.7 C1168.7,1112.6 1160.3,1128.1 1160.3,1137.0 C1160.3,1145.9 1168.1,1148.1 1167.0,1157.0 C1165.9,1165.9 1155.9,1179.2 1153.7,1190.3 C1151.5,1201.4 1155.4,1212.6 1153.7,1223.7 C1152.0,1234.8 1148.7,1248.7 1143.7,1257.0 C1138.7,1265.3 1122.6,1269.2 1123.7,1273.7 C1124.8,1278.2 1145.9,1277.6 1150.3,1283.7 C1154.7,1289.8 1146.4,1301.4 1150.3,1310.3 C1154.2,1319.2 1169.2,1328.1 1173.7,1337.0 C1178.2,1345.9 1178.7,1352.6 1177.0,1363.7 C1175.3,1374.8 1160.9,1391.5 1163.7,1403.7 C1166.5,1415.9 1193.7,1425.9 1193.7,1437.0 C1193.7,1448.1 1171.5,1457.5 1163.7,1470.3 C1155.9,1483.1 1150.3,1503.4 1147.0,1514.0 C1143.7,1524.6 1147.6,1528.5 1143.7,1534.0 C1139.8,1539.5 1130.9,1544.0 1123.7,1547.3 C1116.5,1550.6 1104.8,1548.4 1100.3,1554.0 C1095.8,1559.6 1100.3,1572.9 1097.0,1580.7 C1093.7,1588.5 1083.6,1592.9 1080.3,1600.7 C1077.0,1608.5 1080.9,1620.6 1077.0,1627.3 C1073.1,1634.0 1063.1,1637.4 1057.0,1640.7 C1050.9,1644.0 1043.1,1651.8 1040.3,1647.3 C1037.5,1642.8 1042.5,1622.9 1040.3,1614.0 C1038.1,1605.1 1032.6,1599.0 1027.0,1594.0 C1021.4,1589.0 1016.8,1589.0 1006.7,1584.0 C996.7,1579.0 978.9,1574.0 966.7,1564.0 C954.5,1554.0 941.1,1524.5 933.3,1524.0 C925.5,1523.5 928.3,1555.2 920.0,1560.7 C911.7,1566.2 891.1,1561.8 883.3,1557.3 C875.5,1552.8 884.4,1535.7 873.3,1534.0 C862.2,1532.3 831.7,1546.8 816.7,1547.3 C801.7,1547.8 790.0,1542.8 783.3,1537.3 C776.6,1531.8 775.5,1520.7 776.7,1514.0 C777.9,1507.3 784.7,1501.5 790.3,1497.0 C795.9,1492.5 804.2,1494.2 810.3,1487.0 C816.4,1479.8 820.9,1467.6 827.0,1453.7 C833.1,1439.8 840.9,1423.2 847.0,1403.7 C853.1,1384.2 858.7,1359.2 863.7,1337.0 C868.7,1314.8 874.2,1292.5 877.0,1270.3 C879.8,1248.1 880.8,1223.1 880.3,1203.7 C879.8,1184.3 879.2,1167.0 873.7,1153.7 C868.2,1140.4 856.5,1130.9 847.0,1123.7 C837.5,1116.5 825.3,1113.6 817.0,1110.3 C808.7,1107.0 806.0,1109.2 797.0,1103.7 C788.0,1098.2 773.3,1087.0 763.3,1077.0 C753.2,1067.0 745.6,1052.6 736.7,1043.7 C727.8,1034.8 713.9,1032.6 710.0,1023.7 C706.1,1014.8 711.6,1003.1 713.3,990.3 C715.0,977.5 711.6,951.4 720.0,947.0Z" fill="#a3dbd3"/>
<path d="M1200.3,1267.0 C1202.5,1257.0 1209.8,1249.2 1217.0,1243.7 C1224.2,1238.2 1234.8,1235.9 1243.7,1233.7 C1252.6,1231.5 1261.4,1228.1 1270.3,1230.3 C1279.2,1232.5 1291.4,1239.2 1297.0,1247.0 C1302.6,1254.8 1304.2,1268.1 1303.7,1277.0 C1303.2,1285.9 1300.4,1295.8 1293.7,1300.3 C1287.0,1304.8 1274.3,1303.7 1263.7,1303.7 C1253.1,1303.7 1240.3,1300.3 1230.3,1300.3 C1220.3,1300.3 1208.7,1309.2 1203.7,1303.7 C1198.7,1298.2 1198.1,1277.0 1200.3,1267.0Z" fill="#a3dbd3" stroke="#a3dbd3" stroke-width="16" stroke-linejoin="round"/>
<path d="M1200.3,1267.0 C1202.5,1257.0 1209.8,1249.2 1217.0,1243.7 C1224.2,1238.2 1234.8,1235.9 1243.7,1233.7 C1252.6,1231.5 1261.4,1228.1 1270.3,1230.3 C1279.2,1232.5 1291.4,1239.2 1297.0,1247.0 C1302.6,1254.8 1304.2,1268.1 1303.7,1277.0 C1303.2,1285.9 1300.4,1295.8 1293.7,1300.3 C1287.0,1304.8 1274.3,1303.7 1263.7,1303.7 C1253.1,1303.7 1240.3,1300.3 1230.3,1300.3 C1220.3,1300.3 1208.7,1309.2 1203.7,1303.7 C1198.7,1298.2 1198.1,1277.0 1200.3,1267.0Z" fill="#a3dbd3"/>
<circle cx="1277.0" cy="1065.3" r="22" fill="#a3dbd3"/>
<path d="M1297.0,893.7 C1301.5,882.6 1309.2,875.3 1317.0,870.3 C1324.8,865.3 1335.9,858.1 1343.7,863.7 C1351.5,869.3 1360.4,889.3 1363.7,903.7 C1367.0,918.1 1367.0,938.1 1363.7,950.3 C1360.4,962.5 1351.5,973.7 1343.7,977.0 C1335.9,980.3 1321.5,962.5 1317.0,970.3 C1312.5,978.1 1320.3,1007.0 1317.0,1023.7 C1313.7,1040.4 1303.7,1059.2 1297.0,1070.3 C1290.3,1081.4 1283.7,1088.1 1277.0,1090.3 C1270.3,1092.5 1259.2,1092.6 1257.0,1083.7 C1254.8,1074.8 1260.4,1052.6 1263.7,1037.0 C1267.0,1021.4 1272.6,1007.0 1277.0,990.3 C1281.4,973.6 1287.0,953.1 1290.3,937.0 C1293.6,920.9 1292.5,904.8 1297.0,893.7Z" fill="#a3dbd3"/>
<path d="M1303.7,990.3 C1298.1,995.9 1320.3,1001.5 1330.3,1003.7 C1340.3,1005.9 1351.5,1004.8 1363.7,1003.7 C1375.9,1002.6 1397.0,1001.5 1403.7,997.0 C1410.4,992.5 1410.4,981.5 1403.7,977.0 C1397.0,972.5 1380.4,968.1 1363.7,970.3 C1347.0,972.5 1309.3,984.7 1303.7,990.3Z" fill="#a3dbd3"/>
<path d="M1150.3,1223.7 C1159.2,1213.7 1182.5,1213.6 1197.0,1210.3 C1211.5,1207.0 1223.7,1204.8 1237.0,1203.7 C1250.3,1202.6 1269.2,1202.0 1277.0,1203.7 C1284.8,1205.4 1286.5,1207.6 1283.7,1213.7 C1280.9,1219.8 1266.4,1231.4 1260.3,1240.3 C1254.2,1249.2 1253.1,1258.7 1247.0,1267.0 C1240.9,1275.3 1230.9,1284.2 1223.7,1290.3 C1216.5,1296.4 1209.5,1298.1 1203.7,1303.7 C1197.9,1309.3 1192.6,1317.6 1188.7,1323.7 C1184.8,1329.8 1186.7,1342.5 1180.3,1340.3 C1173.9,1338.1 1156.4,1322.0 1150.3,1310.3 C1144.2,1298.6 1143.7,1284.7 1143.7,1270.3 C1143.7,1255.9 1141.4,1233.7 1150.3,1223.7Z" fill="#a3dbd3"/>
<path d="M723.3,1564.0 C730.5,1554.5 755.6,1551.8 766.7,1557.3 C777.8,1562.8 788.3,1586.2 790.0,1597.3 C791.7,1608.4 776.7,1614.5 776.7,1624.0 C776.7,1633.5 784.5,1641.2 790.0,1654.0 C795.5,1666.8 805.5,1685.2 810.0,1700.7 C814.5,1716.2 812.8,1732.9 816.7,1747.3 C820.6,1761.7 826.1,1773.4 833.3,1787.3 C840.5,1801.2 856.1,1818.5 860.0,1830.7 C863.9,1842.9 862.8,1851.8 856.7,1860.7 C850.6,1869.6 838.3,1882.9 823.3,1884.0 C808.3,1885.1 780.6,1876.2 766.7,1867.3 C752.8,1858.4 751.1,1834.0 740.0,1830.7 C728.9,1827.4 709.5,1845.1 700.0,1847.3 C690.5,1849.5 683.3,1847.3 683.3,1844.0 C683.3,1840.7 696.7,1836.8 700.0,1827.3 C703.3,1817.8 697.8,1796.7 703.3,1787.3 C708.8,1777.9 725.5,1780.7 733.3,1770.7 C741.1,1760.7 748.9,1742.3 750.0,1727.3 C751.1,1712.3 742.2,1696.8 740.0,1680.7 C737.8,1664.6 739.5,1641.8 736.7,1630.7 C733.9,1619.6 725.5,1625.1 723.3,1614.0 C721.1,1602.9 716.1,1573.5 723.3,1564.0Z" fill="#a3dbd3"/>
<path d="M696.7,1947.3 C702.2,1941.8 721.6,1947.9 733.3,1944.0 C745.0,1940.1 752.8,1926.2 766.7,1924.0 C780.6,1921.8 810.0,1924.0 816.7,1930.7 C823.4,1937.4 812.8,1955.7 806.7,1964.0 C800.6,1972.3 785.0,1974.6 780.0,1980.7 C775.0,1986.8 784.5,1997.9 776.7,2000.7 C768.9,2003.5 746.1,2001.2 733.3,1997.3 C720.5,1993.4 706.1,1985.6 700.0,1977.3 C693.9,1969.0 691.2,1952.8 696.7,1947.3Z" fill="#a3dbd3"/>
<path d="M700.0,2014.0 C702.2,2008.5 707.8,2002.4 716.7,2000.7 C725.6,1999.0 751.1,1999.0 753.3,2004.0 C755.5,2009.0 738.3,2025.7 730.0,2030.7 C721.7,2035.7 708.3,2036.8 703.3,2034.0 C698.3,2031.2 697.8,2019.5 700.0,2014.0Z" fill="#a3dbd3"/>
<circle cx="968.3" cy="1585.7" r="6" fill="#a3dbd3"/>
<path d="M788.7,416.7 C790.9,411.1 797.2,408.9 800.3,410.0 C803.3,411.1 806.4,417.8 807.0,423.3 C807.6,428.9 805.7,438.3 803.7,443.3 C801.8,448.3 798.1,453.3 795.3,453.3 C792.5,453.3 788.1,449.4 787.0,443.3 C785.9,437.2 786.5,422.2 788.7,416.7Z" fill="#a3dbd3" stroke="#a3dbd3" stroke-width="18" stroke-linejoin="round"/>
<path d="M788.7,416.7 C790.9,411.1 797.2,408.9 800.3,410.0 C803.3,411.1 806.4,417.8 807.0,423.3 C807.6,428.9 805.7,438.3 803.7,443.3 C801.8,448.3 798.1,453.3 795.3,453.3 C792.5,453.3 788.1,449.4 787.0,443.3 C785.9,437.2 786.5,422.2 788.7,416.7Z" fill="#a3dbd3"/>
<path d="M953.3,2203.3 L1073.3,2203.3 L1073.3,2250.0 L953.3,2250.0Z" fill="#ffffff"/>
<path d="M1603.3,693.3 C1608.9,686.1 1625.6,687.8 1636.7,690.0 C1647.8,692.2 1663.3,700.6 1670.0,706.7 C1676.7,712.8 1680.0,721.2 1676.7,726.7 C1673.4,732.2 1655.6,733.3 1650.0,740.0 C1644.4,746.7 1640.5,760.0 1643.3,766.7 C1646.1,773.4 1661.7,773.3 1666.7,780.0 C1671.7,786.7 1677.2,802.2 1673.3,806.7 C1669.4,811.2 1651.6,808.9 1643.3,806.7 C1635.0,804.5 1628.8,800.0 1623.3,793.3 C1617.8,786.6 1613.3,776.7 1610.0,766.7 C1606.7,756.7 1604.4,745.5 1603.3,733.3 C1602.2,721.1 1597.7,700.5 1603.3,693.3Z" fill="#def0ed"/>
<path d="M1543.3,933.3 C1547.8,927.2 1560.0,923.3 1570.0,920.0 C1580.0,916.7 1594.4,912.2 1603.3,913.3 C1612.2,914.4 1621.1,920.0 1623.3,926.7 C1625.5,933.4 1621.1,945.5 1616.7,953.3 C1612.3,961.1 1603.4,967.7 1596.7,973.3 C1590.0,978.9 1583.4,986.7 1576.7,986.7 C1570.0,986.7 1562.3,978.3 1556.7,973.3 C1551.1,968.3 1545.5,963.4 1543.3,956.7 C1541.1,950.0 1538.8,939.4 1543.3,933.3Z" fill="#def0ed"/>
<path d="M1463.3,873.3 C1466.1,863.3 1475.5,850.0 1483.3,846.7 C1491.1,843.4 1504.4,848.9 1510.0,853.3 C1515.6,857.7 1517.8,865.5 1516.7,873.3 C1515.6,881.1 1508.9,892.8 1503.3,900.0 C1497.7,907.2 1489.4,915.6 1483.3,916.7 C1477.2,917.8 1470.0,913.9 1466.7,906.7 C1463.4,899.5 1460.5,883.3 1463.3,873.3Z" fill="#def0ed"/>
<path d="M1570.0,706.7 C1571.7,703.4 1580.5,701.1 1583.3,703.3 C1586.1,705.5 1588.4,716.7 1586.7,720.0 C1585.0,723.3 1576.1,725.5 1573.3,723.3 C1570.5,721.1 1568.3,710.0 1570.0,706.7Z" fill="#def0ed"/>
<path d="M1683.3,780.0 C1688.3,774.4 1704.4,771.1 1710.0,773.3 C1715.6,775.5 1718.9,786.6 1716.7,793.3 C1714.5,800.0 1702.8,811.1 1696.7,813.3 C1690.6,815.5 1682.2,812.2 1680.0,806.7 C1677.8,801.2 1678.3,785.6 1683.3,780.0Z" fill="#def0ed"/>
<path d="M1750.0,793.3 C1752.2,789.4 1765.5,787.8 1770.0,790.0 C1774.5,792.2 1778.9,802.8 1776.7,806.7 C1774.5,810.6 1761.2,815.5 1756.7,813.3 C1752.2,811.1 1747.8,797.2 1750.0,793.3Z" fill="#def0ed"/>
<path d="M1710.0,840.0 C1715.5,836.1 1740.0,833.3 1750.0,833.3 C1760.0,833.3 1771.1,836.7 1770.0,840.0 C1768.9,843.3 1752.2,850.5 1743.3,853.3 C1734.4,856.1 1722.2,858.9 1716.7,856.7 C1711.2,854.5 1704.5,843.9 1710.0,840.0Z" fill="#def0ed"/>
<path d="M1567.3,713.3 C1569.0,710.0 1576.2,705.6 1580.7,706.7 C1585.2,707.8 1593.5,715.6 1594.0,720.0 C1594.5,724.4 1587.9,732.2 1584.0,733.3 C1580.1,734.4 1573.5,730.0 1570.7,726.7 C1567.9,723.4 1565.6,716.6 1567.3,713.3Z" fill="#def0ed"/>
<path d="M1517.3,680.0 C1519.0,675.5 1524.0,671.1 1527.3,673.3 C1530.6,675.5 1537.3,687.7 1537.3,693.3 C1537.3,698.9 1530.6,705.6 1527.3,706.7 C1524.0,707.8 1519.0,704.5 1517.3,700.0 C1515.6,695.5 1515.6,684.5 1517.3,680.0Z" fill="#def0ed"/>
<circle cx="776.7" cy="1492.0" r="18" fill="#def0ed"/>
<path d="M907.0,1070.3 C909.8,1065.3 923.1,1062.6 930.3,1063.7 C937.5,1064.8 943.6,1070.9 950.3,1077.0 C957.0,1083.1 965.8,1093.6 970.3,1100.3 C974.8,1107.0 979.2,1113.7 977.0,1117.0 C974.8,1120.3 963.7,1122.5 957.0,1120.3 C950.3,1118.1 944.2,1108.1 937.0,1103.7 C929.8,1099.3 918.7,1099.3 913.7,1093.7 C908.7,1088.1 904.2,1075.3 907.0,1070.3Z" fill="#def0ed"/>
<path d="M977.0,1143.7 C979.8,1142.6 991.5,1144.8 997.0,1147.0 C1002.5,1149.2 1010.3,1154.2 1010.3,1157.0 C1010.3,1159.8 1002.0,1164.2 997.0,1163.7 C992.0,1163.2 983.6,1157.0 980.3,1153.7 C977.0,1150.4 974.2,1144.8 977.0,1143.7Z" fill="#def0ed"/>
<path d="M1007.0,1140.3 C1008.7,1139.2 1018.7,1140.4 1023.7,1143.7 C1028.7,1147.0 1036.5,1157.2 1037.0,1160.3 C1037.5,1163.3 1030.9,1163.7 1027.0,1162.0 C1023.1,1160.3 1017.0,1153.9 1013.7,1150.3 C1010.4,1146.7 1005.3,1141.4 1007.0,1140.3Z" fill="#def0ed"/>
<path d="M1093.7,1237.0 C1095.1,1235.3 1102.3,1237.5 1103.7,1240.3 C1105.1,1243.1 1103.4,1252.0 1102.0,1253.7 C1100.6,1255.4 1096.7,1253.1 1095.3,1250.3 C1093.9,1247.5 1092.3,1238.7 1093.7,1237.0Z" fill="#def0ed"/>
<circle cx="633.3" cy="1687.3" r="12" fill="#def0ed"/>
<circle cx="611.7" cy="1744.0" r="10" fill="#def0ed"/>
<path d="M595.0,326.7 C598.7,328.4 607.7,348.9 610.7,356.7 C613.8,364.5 615.4,366.1 613.3,373.3 C611.2,380.5 606.1,391.1 598.3,400.0 C590.5,408.9 574.8,416.7 566.7,426.7 C558.7,436.7 554.5,451.1 550.0,460.0 C545.5,468.9 544.5,473.3 540.0,480.0 C535.5,486.7 531.6,493.3 523.3,500.0 C515.0,506.7 499.4,513.9 490.0,520.0 C480.6,526.1 473.9,530.6 466.7,536.7 C459.5,542.8 452.8,555.6 446.7,556.7 C440.6,557.8 430.6,548.9 430.0,543.3 C429.4,537.7 436.1,529.4 443.3,523.3 C450.5,517.2 463.9,511.7 473.3,506.7 C482.8,501.7 491.7,500.0 500.0,493.3 C508.3,486.6 518.3,475.6 523.3,466.7 C528.3,457.8 526.7,448.9 530.0,440.0 C533.3,431.1 537.8,421.1 543.3,413.3 C548.8,405.5 556.6,400.0 563.3,393.3 C570.0,386.6 579.1,381.1 583.3,373.3 C587.5,365.5 586.3,354.5 588.3,346.7 C590.2,338.9 591.3,325.0 595.0,326.7Z" fill="#f5efdc" stroke="#f5efdc" stroke-width="22" stroke-linejoin="round"/>
<path d="M595.0,326.7 C598.7,328.4 607.7,348.9 610.7,356.7 C613.8,364.5 615.4,366.1 613.3,373.3 C611.2,380.5 606.1,391.1 598.3,400.0 C590.5,408.9 574.8,416.7 566.7,426.7 C558.7,436.7 554.5,451.1 550.0,460.0 C545.5,468.9 544.5,473.3 540.0,480.0 C535.5,486.7 531.6,493.3 523.3,500.0 C515.0,506.7 499.4,513.9 490.0,520.0 C480.6,526.1 473.9,530.6 466.7,536.7 C459.5,542.8 452.8,555.6 446.7,556.7 C440.6,557.8 430.6,548.9 430.0,543.3 C429.4,537.7 436.1,529.4 443.3,523.3 C450.5,517.2 463.9,511.7 473.3,506.7 C482.8,501.7 491.7,500.0 500.0,493.3 C508.3,486.6 518.3,475.6 523.3,466.7 C528.3,457.8 526.7,448.9 530.0,440.0 C533.3,431.1 537.8,421.1 543.3,413.3 C548.8,405.5 556.6,400.0 563.3,393.3 C570.0,386.6 579.1,381.1 583.3,373.3 C587.5,365.5 586.3,354.5 588.3,346.7 C590.2,338.9 591.3,325.0 595.0,326.7Z" fill="#f5efdc"/>
<path d="M573.3,293.3 C577.2,291.6 585.5,297.7 590.0,303.3 C594.5,308.9 600.0,319.5 600.0,326.7 C600.0,333.9 594.5,341.1 590.0,346.7 C585.5,352.2 578.8,354.4 573.3,360.0 C567.8,365.6 560.6,378.9 556.7,380.0 C552.8,381.1 548.9,373.4 550.0,366.7 C551.1,360.0 560.5,348.9 563.3,340.0 C566.1,331.1 565.0,321.1 566.7,313.3 C568.4,305.5 569.4,295.0 573.3,293.3Z" fill="#f5efdc" stroke="#f5efdc" stroke-width="14" stroke-linejoin="round"/>
<path d="M573.3,293.3 C577.2,291.6 585.5,297.7 590.0,303.3 C594.5,308.9 600.0,319.5 600.0,326.7 C600.0,333.9 594.5,341.1 590.0,346.7 C585.5,352.2 578.8,354.4 573.3,360.0 C567.8,365.6 560.6,378.9 556.7,380.0 C552.8,381.1 548.9,373.4 550.0,366.7 C551.1,360.0 560.5,348.9 563.3,340.0 C566.1,331.1 565.0,321.1 566.7,313.3 C568.4,305.5 569.4,295.0 573.3,293.3Z" fill="#f5efdc"/>
<path d="M606.7,326.7 C611.1,323.9 623.9,316.7 633.3,310.0 C642.7,303.3 655.0,293.4 663.3,286.7 C671.6,280.0 680.0,272.8 683.3,270.0" fill="none" stroke="#f5efdc" stroke-width="32" stroke-linejoin="round" stroke-linecap="round"/>
<path d="M683.3,270.0 C690.0,267.8 711.1,260.0 723.3,256.7 C735.5,253.4 744.5,251.9 756.7,250.0 C768.9,248.1 785.6,246.1 796.7,245.0 C807.8,243.9 818.9,243.6 823.3,243.3" fill="none" stroke="#f5efdc" stroke-width="22" stroke-linejoin="round" stroke-linecap="round"/>
<path d="M476.7,340.0 C481.7,335.6 493.1,342.2 500.0,346.7 C506.9,351.1 515.8,357.8 518.3,366.7 C520.8,375.6 516.4,390.0 515.0,400.0 C513.6,410.0 511.9,417.8 510.0,426.7 C508.1,435.6 507.2,445.0 503.3,453.3 C499.4,461.6 492.8,468.9 486.7,476.7 C480.6,484.5 473.4,492.8 466.7,500.0 C460.0,507.2 453.9,513.9 446.7,520.0 C439.5,526.1 428.3,535.6 423.3,536.7 C418.3,537.8 414.5,531.7 416.7,526.7 C418.9,521.7 430.0,514.5 436.7,506.7 C443.4,498.9 451.1,488.9 456.7,480.0 C462.2,471.1 467.2,462.2 470.0,453.3 C472.8,444.4 472.2,435.6 473.3,426.7 C474.4,417.8 477.2,408.9 476.7,400.0 C476.1,391.1 470.0,383.3 470.0,373.3 C470.0,363.3 471.7,344.4 476.7,340.0Z" fill="#f5efdc" stroke="#f5efdc" stroke-width="16" stroke-linejoin="round"/>
<path d="M476.7,340.0 C481.7,335.6 493.1,342.2 500.0,346.7 C506.9,351.1 515.8,357.8 518.3,366.7 C520.8,375.6 516.4,390.0 515.0,400.0 C513.6,410.0 511.9,417.8 510.0,426.7 C508.1,435.6 507.2,445.0 503.3,453.3 C499.4,461.6 492.8,468.9 486.7,476.7 C480.6,484.5 473.4,492.8 466.7,500.0 C460.0,507.2 453.9,513.9 446.7,520.0 C439.5,526.1 428.3,535.6 423.3,536.7 C418.3,537.8 414.5,531.7 416.7,526.7 C418.9,521.7 430.0,514.5 436.7,506.7 C443.4,498.9 451.1,488.9 456.7,480.0 C462.2,471.1 467.2,462.2 470.0,453.3 C472.8,444.4 472.2,435.6 473.3,426.7 C474.4,417.8 477.2,408.9 476.7,400.0 C476.1,391.1 470.0,383.3 470.0,373.3 C470.0,363.3 471.7,344.4 476.7,340.0Z" fill="#f5efdc"/>
<path d="M423.3,540.0 C428.3,540.6 444.2,551.7 446.7,556.7 C449.2,561.7 441.4,563.9 438.3,570.0 C435.2,576.1 431.1,583.8 428.3,593.3 C425.5,602.8 423.1,616.7 421.7,626.7 C420.3,636.7 421.9,644.4 420.0,653.3 C418.1,662.2 412.8,671.1 410.0,680.0 C407.2,688.9 405.5,698.9 403.3,706.7 C401.1,714.5 399.5,722.3 396.7,726.7 C393.9,731.1 391.1,733.9 386.7,733.3 C382.2,732.7 373.3,728.8 370.0,723.3 C366.7,717.8 365.6,708.3 366.7,700.0 C367.8,691.7 373.4,683.3 376.7,673.3 C380.0,663.3 384.5,651.1 386.7,640.0 C388.9,628.9 387.8,616.7 390.0,606.7 C392.2,596.7 395.6,588.9 400.0,580.0 C404.4,571.1 412.8,560.0 416.7,553.3 C420.6,546.6 418.3,539.4 423.3,540.0Z" fill="#f5efdc" stroke="#f5efdc" stroke-width="24" stroke-linejoin="round"/>
<path d="M423.3,540.0 C428.3,540.6 444.2,551.7 446.7,556.7 C449.2,561.7 441.4,563.9 438.3,570.0 C435.2,576.1 431.1,583.8 428.3,593.3 C425.5,602.8 423.1,616.7 421.7,626.7 C420.3,636.7 421.9,644.4 420.0,653.3 C418.1,662.2 412.8,671.1 410.0,680.0 C407.2,688.9 405.5,698.9 403.3,706.7 C401.1,714.5 399.5,722.3 396.7,726.7 C393.9,731.1 391.1,733.9 386.7,733.3 C382.2,732.7 373.3,728.8 370.0,723.3 C366.7,717.8 365.6,708.3 366.7,700.0 C367.8,691.7 373.4,683.3 376.7,673.3 C380.0,663.3 384.5,651.1 386.7,640.0 C388.9,628.9 387.8,616.7 390.0,606.7 C392.2,596.7 395.6,588.9 400.0,580.0 C404.4,571.1 412.8,560.0 416.7,553.3 C420.6,546.6 418.3,539.4 423.3,540.0Z" fill="#f5efdc"/>
<circle cx="561.7" cy="231.7" r="13" fill="#f5efdc"/>
<path d="M296.7,301.7 C299.5,300.6 309.5,300.0 316.7,300.0 C323.9,300.0 336.7,300.6 340.0,301.7 C343.3,302.8 340.6,305.6 336.7,306.7 C332.8,307.8 322.8,308.3 316.7,308.3 C310.6,308.3 303.3,307.8 300.0,306.7 C296.7,305.6 293.9,302.8 296.7,301.7Z" fill="#f5efdc" stroke="#f5efdc" stroke-width="10" stroke-linejoin="round"/>
<path d="M296.7,301.7 C299.5,300.6 309.5,300.0 316.7,300.0 C323.9,300.0 336.7,300.6 340.0,301.7 C343.3,302.8 340.6,305.6 336.7,306.7 C332.8,307.8 322.8,308.3 316.7,308.3 C310.6,308.3 303.3,307.8 300.0,306.7 C296.7,305.6 293.9,302.8 296.7,301.7Z" fill="#f5efdc"/>
<path d="M533.3,313.3 C535.5,307.8 543.4,303.4 546.7,306.7 C550.0,310.0 553.9,326.1 553.3,333.3 C552.7,340.5 546.6,348.9 543.3,350.0 C540.0,351.1 535.0,346.1 533.3,340.0 C531.6,333.9 531.1,318.9 533.3,313.3Z" fill="#f5efdc"/>
<path d="M983.7,306.7 C987.7,303.3 993.8,309.2 1001.0,312.7 C1008.2,316.2 1019.8,322.5 1027.0,327.7 C1034.2,332.9 1039.4,338.4 1044.3,344.0 C1049.2,349.6 1049.3,353.6 1056.3,361.0 C1063.3,368.4 1074.8,382.8 1086.3,388.3 C1097.8,393.8 1114.1,393.7 1125.3,394.0 C1136.5,394.3 1143.5,389.0 1153.7,390.0 C1163.9,391.0 1174.9,396.7 1186.3,400.0 C1197.7,403.3 1210.3,403.9 1222.0,410.0 C1233.7,416.1 1249.3,430.0 1256.3,436.7 C1263.2,443.4 1259.7,442.8 1263.7,450.0 C1267.7,457.2 1275.9,470.0 1280.3,480.0 C1284.7,490.0 1287.5,502.8 1290.3,510.0 C1293.1,517.2 1301.4,518.8 1297.0,523.3 C1292.6,527.8 1274.2,532.8 1263.7,536.7 C1253.2,540.6 1239.8,542.8 1233.7,546.7 C1227.6,550.6 1231.5,556.1 1227.0,560.0 C1222.5,563.9 1210.3,562.2 1207.0,570.0 C1203.7,577.8 1209.8,597.2 1207.0,606.7 C1204.2,616.2 1198.6,623.9 1190.3,626.7 C1182.0,629.5 1167.0,627.2 1157.0,623.3 C1147.0,619.4 1135.6,610.0 1130.3,603.3 C1125.0,596.6 1129.2,588.3 1125.3,583.3 C1121.4,578.3 1115.6,576.6 1107.0,573.3 C1098.4,570.0 1084.8,567.2 1073.7,563.3 C1062.6,559.4 1047.5,553.9 1040.3,550.0 C1033.1,546.1 1034.7,543.9 1030.3,540.0 C1025.9,536.1 1018.1,530.6 1013.7,526.7 C1009.3,522.8 1004.3,522.3 1003.7,516.7 C1003.1,511.1 1007.0,503.9 1010.3,493.3 C1013.6,482.7 1023.7,462.7 1023.7,453.3 C1023.7,443.9 1014.8,441.1 1010.3,436.7 C1005.8,432.3 1001.4,430.6 997.0,426.7 C992.6,422.8 990.4,418.9 983.7,413.3 C977.0,407.7 962.0,400.0 957.0,393.3 C952.0,386.6 953.2,378.3 953.7,373.3 C954.2,368.3 956.1,365.8 960.3,363.3 C964.5,360.8 975.9,363.3 978.7,358.3 C981.5,353.3 976.2,341.9 977.0,333.3 C977.8,324.7 979.7,310.1 983.7,306.7Z" fill="#f5efdc"/>
<path d="M790.3,360.0 C794.8,353.9 807.5,356.7 817.0,356.7 C826.5,356.7 839.2,357.2 847.0,360.0 C854.8,362.8 855.4,373.3 863.7,373.3 C872.0,373.3 889.2,361.1 897.0,360.0 C904.8,358.9 900.8,364.5 910.3,366.7 C919.8,368.9 945.9,368.9 953.7,373.3 C961.5,377.7 953.1,386.1 957.0,393.3 C960.9,400.5 975.9,409.5 977.0,416.7 C978.1,423.9 971.5,431.7 963.7,436.7 C955.9,441.7 939.2,443.6 930.3,446.7 C921.4,449.8 914.7,451.9 910.3,455.0 C905.9,458.1 906.5,465.0 903.7,465.0 C900.9,465.0 900.4,456.8 893.7,455.0 C887.0,453.2 872.0,455.7 863.7,454.0 C855.4,452.3 844.5,444.0 843.7,445.0 C842.9,446.0 855.7,450.8 858.7,460.0 C861.8,469.2 857.0,492.8 862.0,500.0 C867.0,507.2 884.2,501.6 888.7,503.3 C893.2,505.0 892.0,507.8 888.7,510.0 C885.4,512.2 873.2,513.4 868.7,516.7 C864.2,520.0 869.8,525.6 862.0,530.0 C854.2,534.4 830.6,540.0 822.0,543.3 C813.4,546.6 815.6,548.3 810.3,550.0 C805.0,551.7 793.6,560.0 790.3,553.3 C787.0,546.6 787.0,522.2 790.3,510.0 C793.6,497.8 808.1,488.3 810.3,480.0 C812.5,471.7 803.1,466.7 803.7,460.0 C804.3,453.3 813.2,446.7 813.7,440.0 C814.2,433.3 806.5,426.7 807.0,420.0 C807.5,413.3 819.8,404.4 817.0,400.0 C814.2,395.6 794.8,400.0 790.3,393.3 C785.8,386.6 785.8,366.1 790.3,360.0Z" fill="#f5efdc"/>
<path d="M860.3,456.7 C865.6,449.2 886.5,453.6 893.7,455.0 C900.9,456.4 900.7,465.0 903.7,465.0 C906.8,465.0 906.5,456.9 912.0,455.0 C917.5,453.1 931.7,450.2 937.0,453.3 C942.3,456.4 944.8,467.2 943.7,473.3 C942.6,479.4 936.4,486.1 930.3,490.0 C924.2,493.9 913.9,493.9 907.0,496.7 C900.1,499.5 896.2,506.1 888.7,506.7 C881.2,507.2 866.7,508.3 862.0,500.0 C857.3,491.7 855.0,464.2 860.3,456.7Z" fill="#f5efdc"/>
<path d="M862.0,251.7 C866.4,250.1 885.3,248.9 890.3,250.0 C895.3,251.1 896.4,256.8 892.0,258.3 C887.6,259.9 868.7,260.4 863.7,259.3 C858.7,258.2 857.6,253.2 862.0,251.7Z" fill="#f5efdc" stroke="#f5efdc" stroke-width="8" stroke-linejoin="round"/>
<path d="M862.0,251.7 C866.4,250.1 885.3,248.9 890.3,250.0 C895.3,251.1 896.4,256.8 892.0,258.3 C887.6,259.9 868.7,260.4 863.7,259.3 C858.7,258.2 857.6,253.2 862.0,251.7Z" fill="#f5efdc"/>
<path d="M1155.3,723.3 C1155.3,717.7 1158.4,701.6 1163.7,693.3 C1169.0,685.0 1180.3,677.2 1187.0,673.3 C1193.7,669.4 1202.0,665.5 1203.7,670.0 C1205.4,674.5 1200.9,691.1 1197.0,700.0 C1193.1,708.9 1185.8,718.8 1180.3,723.3 C1174.8,727.8 1167.9,726.7 1163.7,726.7 C1159.5,726.7 1155.3,728.9 1155.3,723.3Z" fill="#f5efdc"/>
<path d="M1593.3,786.7 C1595.5,782.8 1606.1,779.4 1610.0,783.3 C1613.9,787.2 1610.0,805.0 1616.7,810.0 C1623.4,815.0 1645.6,811.6 1650.0,813.3 C1654.4,815.0 1649.4,819.4 1643.3,820.0 C1637.2,820.6 1621.1,818.9 1613.3,816.7 C1605.5,814.5 1600.0,811.7 1596.7,806.7 C1593.4,801.7 1591.1,790.6 1593.3,786.7Z" fill="#f5efdc"/>
<path d="M1656.7,706.7 C1657.5,703.9 1664.2,701.9 1666.7,703.3 C1669.2,704.7 1672.5,712.2 1671.7,715.0 C1670.9,717.8 1664.2,721.4 1661.7,720.0 C1659.2,718.6 1655.9,709.5 1656.7,706.7Z" fill="#f5efdc"/>
<path d="M1586.7,926.7 C1588.4,924.5 1597.8,926.7 1600.0,930.0 C1602.2,933.3 1601.7,944.5 1600.0,946.7 C1598.3,948.9 1592.2,946.6 1590.0,943.3 C1587.8,940.0 1585.0,928.9 1586.7,926.7Z" fill="#f5efdc"/>
<path d="M1540.0,1006.7 C1542.8,1003.4 1552.8,1000.5 1556.7,1003.3 C1560.6,1006.1 1564.4,1017.7 1563.3,1023.3 C1562.2,1028.9 1553.9,1036.7 1550.0,1036.7 C1546.1,1036.7 1541.7,1028.3 1540.0,1023.3 C1538.3,1018.3 1537.2,1010.0 1540.0,1006.7Z" fill="#f5efdc"/>
<path d="M1620.0,993.3 C1621.7,989.4 1632.8,990.5 1636.7,993.3 C1640.6,996.1 1645.0,1006.1 1643.3,1010.0 C1641.6,1013.9 1630.6,1019.5 1626.7,1016.7 C1622.8,1013.9 1618.3,997.2 1620.0,993.3Z" fill="#f5efdc"/>
<path d="M1563.3,973.3 C1564.4,969.4 1570.8,965.0 1573.3,966.7 C1575.8,968.4 1579.4,979.4 1578.3,983.3 C1577.2,987.2 1569.2,991.7 1566.7,990.0 C1564.2,988.3 1562.2,977.2 1563.3,973.3Z" fill="#f5efdc"/>
<path d="M1363.3,1133.3 C1367.2,1124.4 1384.4,1114.5 1390.0,1106.7 C1395.6,1098.9 1398.9,1092.3 1396.7,1086.7 C1394.5,1081.1 1381.2,1072.8 1376.7,1073.3 C1372.2,1073.8 1374.5,1084.4 1370.0,1090.0 C1365.5,1095.6 1355.5,1098.4 1350.0,1106.7 C1344.5,1115.0 1342.2,1133.3 1336.7,1140.0 C1331.2,1146.7 1317.8,1143.4 1316.7,1146.7 C1315.6,1150.0 1324.5,1157.5 1330.0,1160.0 C1335.5,1162.5 1341.7,1160.9 1350.0,1161.7 C1358.3,1162.5 1371.7,1166.1 1380.0,1165.0 C1388.3,1163.9 1393.9,1155.8 1400.0,1155.0 C1406.1,1154.2 1410.6,1160.3 1416.7,1160.0 C1422.8,1159.7 1431.2,1151.1 1436.7,1153.3 C1442.2,1155.5 1448.9,1164.4 1450.0,1173.3 C1451.1,1182.2 1441.1,1198.9 1443.3,1206.7 C1445.5,1214.5 1455.5,1220.0 1463.3,1220.0 C1471.1,1220.0 1483.3,1214.5 1490.0,1206.7 C1496.7,1198.9 1500.0,1184.4 1503.3,1173.3 C1506.6,1162.2 1507.8,1150.0 1510.0,1140.0 C1512.2,1130.0 1512.8,1116.6 1516.7,1113.3 C1520.6,1110.0 1527.8,1115.5 1533.3,1120.0 C1538.8,1124.5 1548.3,1132.2 1550.0,1140.0 C1551.7,1147.8 1543.3,1156.7 1543.3,1166.7 C1543.3,1176.7 1551.1,1190.0 1550.0,1200.0 C1548.9,1210.0 1536.7,1220.0 1536.7,1226.7 C1536.7,1233.4 1550.0,1232.2 1550.0,1240.0 C1550.0,1247.8 1547.8,1264.7 1536.7,1273.3 C1525.6,1281.9 1497.2,1287.2 1483.3,1291.7 C1469.4,1296.2 1462.2,1297.5 1453.3,1300.0 C1444.4,1302.5 1435.5,1307.8 1430.0,1306.7 C1424.5,1305.6 1420.8,1297.2 1420.0,1293.3 C1419.2,1289.4 1425.0,1289.4 1425.0,1283.3 C1425.0,1277.2 1423.0,1263.9 1420.0,1256.7 C1417.0,1249.5 1410.6,1246.7 1406.7,1240.0 C1402.8,1233.3 1400.9,1220.9 1396.7,1216.7 C1392.5,1212.5 1387.3,1220.0 1381.7,1215.0 C1376.1,1210.0 1365.8,1195.9 1363.3,1186.7 C1360.8,1177.5 1366.7,1168.9 1366.7,1160.0 C1366.7,1151.1 1359.4,1142.2 1363.3,1133.3Z" fill="#f5efdc"/>
<path d="M1436.7,916.7 C1441.7,913.1 1452.3,912.8 1456.7,916.7 C1461.1,920.6 1463.3,931.7 1463.3,940.0 C1463.3,948.3 1454.5,960.0 1456.7,966.7 C1458.9,973.4 1472.8,975.0 1476.7,980.0 C1480.6,985.0 1483.3,992.2 1480.0,996.7 C1476.7,1001.2 1462.8,1005.6 1456.7,1006.7 C1450.6,1007.8 1446.6,1006.6 1443.3,1003.3 C1440.0,1000.0 1438.6,991.7 1436.7,986.7 C1434.8,981.7 1431.7,979.7 1431.7,973.3 C1431.7,966.9 1437.5,954.1 1436.7,948.3 C1435.9,942.5 1426.7,943.6 1426.7,938.3 C1426.7,933.0 1431.7,920.3 1436.7,916.7Z" fill="#f5efdc"/>
<path d="M1316.7,1086.7 C1320.0,1078.4 1341.1,1064.5 1350.0,1056.7 C1358.9,1048.9 1363.3,1047.2 1370.0,1040.0 C1376.7,1032.8 1385.5,1014.4 1390.0,1013.3 C1394.5,1012.2 1397.8,1024.4 1396.7,1033.3 C1395.6,1042.2 1387.8,1060.0 1383.3,1066.7 C1378.8,1073.4 1375.5,1070.5 1370.0,1073.3 C1364.5,1076.1 1356.7,1077.7 1350.0,1083.3 C1343.3,1088.9 1335.5,1106.1 1330.0,1106.7 C1324.5,1107.3 1313.4,1095.0 1316.7,1086.7Z" fill="#f5efdc"/>
<path d="M1243.3,1116.7 C1248.9,1109.5 1267.8,1118.3 1276.7,1123.3 C1285.6,1128.3 1295.6,1138.4 1296.7,1146.7 C1297.8,1155.0 1292.2,1170.0 1283.3,1173.3 C1274.4,1176.6 1250.0,1176.1 1243.3,1166.7 C1236.6,1157.3 1237.7,1123.9 1243.3,1116.7Z" fill="#f5efdc"/>
<path d="M1243.3,820.0 C1247.8,810.6 1265.0,811.2 1270.0,816.7 C1275.0,822.2 1274.4,843.9 1273.3,853.3 C1272.2,862.7 1268.3,870.0 1263.3,873.3 C1258.3,876.6 1246.6,882.2 1243.3,873.3 C1240.0,864.4 1238.8,829.4 1243.3,820.0Z" fill="#f5efdc"/>
<path d="M1300.0,1290.0 C1305.5,1282.2 1320.5,1275.0 1333.3,1273.3 C1346.1,1271.6 1364.5,1275.0 1376.7,1280.0 C1388.9,1285.0 1402.3,1296.6 1406.7,1303.3 C1411.1,1310.0 1421.1,1317.2 1403.3,1320.0 C1385.5,1322.8 1317.2,1325.0 1300.0,1320.0 C1282.8,1315.0 1294.5,1297.8 1300.0,1290.0Z" fill="#f5efdc"/>
<circle cx="1664.0" cy="713.3" r="8" fill="#f5efdc"/>
<path d="M370.0,726.7 C366.1,732.2 373.4,750.0 376.7,760.0 C380.0,770.0 386.1,777.8 390.0,786.7 C393.9,795.6 397.2,804.9 400.0,813.3 C402.8,821.7 402.8,827.5 406.7,837.0 C410.6,846.5 417.2,857.0 423.3,870.3 C429.4,883.6 436.1,903.7 443.3,917.0 C450.5,930.3 458.9,937.5 466.7,950.3 C474.5,963.1 482.8,981.5 490.0,993.7 C497.2,1005.9 504.4,1015.4 510.0,1023.7 C515.5,1032.0 516.6,1036.5 523.3,1043.7 C530.0,1050.9 541.1,1062.6 550.0,1067.0 C558.9,1071.4 567.2,1066.4 576.7,1070.3 C586.2,1074.2 597.8,1083.1 606.7,1090.3 C615.6,1097.5 621.7,1107.6 630.0,1113.7 C638.3,1119.8 648.4,1121.5 656.7,1127.0 C665.0,1132.5 675.6,1139.8 680.0,1147.0 C684.4,1154.2 681.6,1160.8 683.3,1170.3 C685.0,1179.8 687.2,1192.6 690.0,1203.7 C692.8,1214.8 697.5,1225.9 700.0,1237.0 C702.5,1248.1 703.3,1259.2 705.0,1270.3 C706.7,1281.4 708.6,1292.6 710.0,1303.7 C711.4,1314.8 710.0,1328.1 713.3,1337.0 C716.6,1345.9 722.8,1354.8 730.0,1357.0 C737.2,1359.2 748.9,1353.6 756.7,1350.3 C764.5,1347.0 770.0,1339.2 776.7,1337.0 C783.4,1334.8 787.0,1337.0 797.0,1337.0 C807.0,1337.0 829.8,1342.5 837.0,1337.0 C844.2,1331.5 839.8,1314.8 840.3,1303.7 C840.8,1292.6 839.2,1281.4 840.3,1270.3 C841.4,1259.2 846.4,1250.9 847.0,1237.0 C847.6,1223.1 846.5,1200.3 843.7,1187.0 C840.9,1173.7 834.8,1165.3 830.3,1157.0 C825.8,1148.7 822.5,1142.0 817.0,1137.0 C811.5,1132.0 803.7,1129.2 797.0,1127.0 C790.3,1124.8 784.5,1127.6 776.7,1123.7 C768.9,1119.8 758.9,1112.6 750.0,1103.7 C741.1,1094.8 730.0,1081.4 723.3,1070.3 C716.6,1059.2 721.1,1047.0 710.0,1037.0 C698.9,1027.0 671.2,1017.5 656.7,1010.3 C642.2,1003.1 634.4,995.9 623.3,993.7 C612.2,991.5 601.1,998.7 590.0,997.0 C578.9,995.3 567.2,988.6 556.7,983.7 C546.2,978.8 535.9,976.6 527.0,967.7 C518.1,958.8 510.4,941.9 503.3,930.3 C496.2,918.7 490.2,907.7 484.7,898.3 C479.1,888.9 474.5,881.4 470.0,873.7 C465.5,866.0 461.6,859.5 457.7,852.3 C453.8,845.1 450.5,838.0 446.7,830.3 C442.9,822.6 438.6,813.0 434.7,806.3 C430.8,799.6 426.5,795.5 423.3,790.3 C420.1,785.1 418.1,782.0 415.3,775.3 C412.5,768.6 409.2,758.3 406.7,750.3 C404.1,742.2 406.1,730.9 400.0,727.0 C393.9,723.1 373.9,721.2 370.0,726.7Z" fill="#f5efdc" stroke="#f5efdc" stroke-width="28" stroke-linejoin="round"/>
<path d="M370.0,726.7 C366.1,732.2 373.4,750.0 376.7,760.0 C380.0,770.0 386.1,777.8 390.0,786.7 C393.9,795.6 397.2,804.9 400.0,813.3 C402.8,821.7 402.8,827.5 406.7,837.0 C410.6,846.5 417.2,857.0 423.3,870.3 C429.4,883.6 436.1,903.7 443.3,917.0 C450.5,930.3 458.9,937.5 466.7,950.3 C474.5,963.1 482.8,981.5 490.0,993.7 C497.2,1005.9 504.4,1015.4 510.0,1023.7 C515.5,1032.0 516.6,1036.5 523.3,1043.7 C530.0,1050.9 541.1,1062.6 550.0,1067.0 C558.9,1071.4 567.2,1066.4 576.7,1070.3 C586.2,1074.2 597.8,1083.1 606.7,1090.3 C615.6,1097.5 621.7,1107.6 630.0,1113.7 C638.3,1119.8 648.4,1121.5 656.7,1127.0 C665.0,1132.5 675.6,1139.8 680.0,1147.0 C684.4,1154.2 681.6,1160.8 683.3,1170.3 C685.0,1179.8 687.2,1192.6 690.0,1203.7 C692.8,1214.8 697.5,1225.9 700.0,1237.0 C702.5,1248.1 703.3,1259.2 705.0,1270.3 C706.7,1281.4 708.6,1292.6 710.0,1303.7 C711.4,1314.8 710.0,1328.1 713.3,1337.0 C716.6,1345.9 722.8,1354.8 730.0,1357.0 C737.2,1359.2 748.9,1353.6 756.7,1350.3 C764.5,1347.0 770.0,1339.2 776.7,1337.0 C783.4,1334.8 787.0,1337.0 797.0,1337.0 C807.0,1337.0 829.8,1342.5 837.0,1337.0 C844.2,1331.5 839.8,1314.8 840.3,1303.7 C840.8,1292.6 839.2,1281.4 840.3,1270.3 C841.4,1259.2 846.4,1250.9 847.0,1237.0 C847.6,1223.1 846.5,1200.3 843.7,1187.0 C840.9,1173.7 834.8,1165.3 830.3,1157.0 C825.8,1148.7 822.5,1142.0 817.0,1137.0 C811.5,1132.0 803.7,1129.2 797.0,1127.0 C790.3,1124.8 784.5,1127.6 776.7,1123.7 C768.9,1119.8 758.9,1112.6 750.0,1103.7 C741.1,1094.8 730.0,1081.4 723.3,1070.3 C716.6,1059.2 721.1,1047.0 710.0,1037.0 C698.9,1027.0 671.2,1017.5 656.7,1010.3 C642.2,1003.1 634.4,995.9 623.3,993.7 C612.2,991.5 601.1,998.7 590.0,997.0 C578.9,995.3 567.2,988.6 556.7,983.7 C546.2,978.8 535.9,976.6 527.0,967.7 C518.1,958.8 510.4,941.9 503.3,930.3 C496.2,918.7 490.2,907.7 484.7,898.3 C479.1,888.9 474.5,881.4 470.0,873.7 C465.5,866.0 461.6,859.5 457.7,852.3 C453.8,845.1 450.5,838.0 446.7,830.3 C442.9,822.6 438.6,813.0 434.7,806.3 C430.8,799.6 426.5,795.5 423.3,790.3 C420.1,785.1 418.1,782.0 415.3,775.3 C412.5,768.6 409.2,758.3 406.7,750.3 C404.1,742.2 406.1,730.9 400.0,727.0 C393.9,723.1 373.9,721.2 370.0,726.7Z" fill="#f5efdc"/>
<path d="M713.3,1330.3 C708.3,1332.5 703.3,1358.1 700.0,1370.3 C696.7,1382.5 695.0,1392.6 693.3,1403.7 C691.6,1414.8 691.7,1425.9 690.0,1437.0 C688.3,1448.1 686.6,1457.5 683.3,1470.3 C680.0,1483.1 673.3,1501.2 670.0,1514.0 C666.7,1526.8 663.3,1536.2 663.3,1547.3 C663.3,1558.4 668.3,1569.6 670.0,1580.7 C671.7,1591.8 671.6,1606.2 673.3,1614.0 C675.0,1621.8 677.2,1627.3 680.0,1627.3 C682.8,1627.3 687.8,1621.8 690.0,1614.0 C692.2,1606.2 692.5,1591.8 693.3,1580.7 C694.1,1569.6 694.4,1558.4 695.0,1547.3 C695.6,1536.2 693.1,1526.8 696.7,1514.0 C700.3,1501.2 712.3,1483.1 716.7,1470.3 C721.1,1457.5 721.6,1448.1 723.3,1437.0 C725.0,1425.9 725.6,1417.0 726.7,1403.7 C727.8,1390.4 732.2,1369.2 730.0,1357.0 C727.8,1344.8 718.3,1328.1 713.3,1330.3Z" fill="#f5efdc" stroke="#f5efdc" stroke-width="28" stroke-linejoin="round"/>
<path d="M713.3,1330.3 C708.3,1332.5 703.3,1358.1 700.0,1370.3 C696.7,1382.5 695.0,1392.6 693.3,1403.7 C691.6,1414.8 691.7,1425.9 690.0,1437.0 C688.3,1448.1 686.6,1457.5 683.3,1470.3 C680.0,1483.1 673.3,1501.2 670.0,1514.0 C666.7,1526.8 663.3,1536.2 663.3,1547.3 C663.3,1558.4 668.3,1569.6 670.0,1580.7 C671.7,1591.8 671.6,1606.2 673.3,1614.0 C675.0,1621.8 677.2,1627.3 680.0,1627.3 C682.8,1627.3 687.8,1621.8 690.0,1614.0 C692.2,1606.2 692.5,1591.8 693.3,1580.7 C694.1,1569.6 694.4,1558.4 695.0,1547.3 C695.6,1536.2 693.1,1526.8 696.7,1514.0 C700.3,1501.2 712.3,1483.1 716.7,1470.3 C721.1,1457.5 721.6,1448.1 723.3,1437.0 C725.0,1425.9 725.6,1417.0 726.7,1403.7 C727.8,1390.4 732.2,1369.2 730.0,1357.0 C727.8,1344.8 718.3,1328.1 713.3,1330.3Z" fill="#f5efdc"/>
<path d="M797.0,1330.3 C805.4,1323.6 831.0,1325.8 837.0,1330.3 C843.0,1334.8 836.7,1347.5 833.3,1357.0 C829.9,1366.5 821.7,1375.9 816.7,1387.0 C811.7,1398.1 808.3,1416.5 803.3,1423.7 C798.3,1430.9 790.6,1433.6 786.7,1430.3 C782.8,1427.0 780.0,1413.7 780.0,1403.7 C780.0,1393.7 783.9,1382.5 786.7,1370.3 C789.5,1358.1 788.6,1337.0 797.0,1330.3Z" fill="#f5efdc" stroke="#f5efdc" stroke-width="28" stroke-linejoin="round"/>
<path d="M797.0,1330.3 C805.4,1323.6 831.0,1325.8 837.0,1330.3 C843.0,1334.8 836.7,1347.5 833.3,1357.0 C829.9,1366.5 821.7,1375.9 816.7,1387.0 C811.7,1398.1 808.3,1416.5 803.3,1423.7 C798.3,1430.9 790.6,1433.6 786.7,1430.3 C782.8,1427.0 780.0,1413.7 780.0,1403.7 C780.0,1393.7 783.9,1382.5 786.7,1370.3 C789.5,1358.1 788.6,1337.0 797.0,1330.3Z" fill="#f5efdc"/>
<path d="M723.3,1350.3 C735.0,1338.1 785.3,1321.4 797.0,1330.3 C808.7,1339.2 796.1,1381.8 793.3,1403.7 C790.5,1425.7 785.9,1441.3 780.0,1462.0 C774.1,1482.7 765.2,1510.0 758.0,1528.0 C750.8,1546.0 743.6,1557.7 736.7,1570.3 C729.8,1582.9 723.4,1607.5 716.7,1603.7 C710.0,1599.9 700.0,1562.2 696.7,1547.3 C693.4,1532.3 693.4,1526.8 696.7,1514.0 C700.0,1501.2 711.7,1488.7 716.7,1470.3 C721.7,1451.9 725.6,1423.7 726.7,1403.7 C727.8,1383.7 711.6,1362.5 723.3,1350.3Z" fill="#f5efdc" stroke="#f5efdc" stroke-width="28" stroke-linejoin="round"/>
<path d="M723.3,1350.3 C735.0,1338.1 785.3,1321.4 797.0,1330.3 C808.7,1339.2 796.1,1381.8 793.3,1403.7 C790.5,1425.7 785.9,1441.3 780.0,1462.0 C774.1,1482.7 765.2,1510.0 758.0,1528.0 C750.8,1546.0 743.6,1557.7 736.7,1570.3 C729.8,1582.9 723.4,1607.5 716.7,1603.7 C710.0,1599.9 700.0,1562.2 696.7,1547.3 C693.4,1532.3 693.4,1526.8 696.7,1514.0 C700.0,1501.2 711.7,1488.7 716.7,1470.3 C721.7,1451.9 725.6,1423.7 726.7,1403.7 C727.8,1383.7 711.6,1362.5 723.3,1350.3Z" fill="#f5efdc"/>
<circle cx="776.7" cy="1492.0" r="22" fill="#f5efdc"/>
<path d="M840.3,870.3 C840.3,865.8 857.3,865.8 863.7,860.3 C870.1,854.8 871.2,842.5 878.7,837.0 C886.2,831.5 897.9,829.2 908.7,827.0 C919.5,824.8 921.2,824.2 943.7,823.7 C966.2,823.2 1023.2,823.2 1043.7,823.7 C1064.2,824.2 1062.3,821.7 1067.0,827.0 C1071.7,832.3 1068.1,848.1 1072.0,855.3 C1075.9,862.5 1084.5,866.2 1090.3,870.3 C1096.1,874.4 1089.2,877.5 1107.0,879.7 C1124.8,881.9 1164.0,881.9 1197.0,883.7 C1230.0,885.5 1289.2,884.2 1305.3,890.3 C1321.4,896.4 1299.0,915.3 1293.7,920.3 C1288.4,925.3 1281.5,917.5 1273.7,920.3 C1265.9,923.1 1259.8,932.5 1247.0,937.0 C1234.2,941.5 1210.9,943.1 1197.0,947.0 C1183.1,950.9 1174.8,959.8 1163.7,960.3 C1152.6,960.8 1141.4,953.1 1130.3,950.3 C1119.2,947.5 1107.0,941.5 1097.0,943.7 C1087.0,945.9 1079.2,957.0 1070.3,963.7 C1061.4,970.4 1045.9,974.8 1043.7,983.7 C1041.5,992.6 1058.1,1005.9 1057.0,1017.0 C1055.9,1028.1 1043.7,1047.0 1037.0,1050.3 C1030.3,1053.6 1021.5,1045.9 1017.0,1037.0 C1012.5,1028.1 1008.1,1007.0 1010.3,997.0 C1012.5,987.0 1032.5,987.0 1030.3,977.0 C1028.1,967.0 1002.3,942.5 997.0,937.0 C991.7,931.5 999.5,941.2 998.7,943.7 C997.9,946.2 991.7,947.3 992.0,952.0 C992.3,956.7 1000.0,966.2 1000.3,972.0 C1000.6,977.8 996.5,981.7 993.7,987.0 C990.9,992.3 987.0,999.8 983.7,1003.7 C980.4,1007.6 977.6,1009.6 973.7,1010.3 C969.8,1011.0 965.9,1009.1 960.3,1008.0 C954.7,1006.9 948.1,1007.8 940.3,1003.7 C932.5,999.7 921.5,989.3 913.7,983.7 C905.9,978.1 900.4,978.1 893.7,970.3 C887.0,962.5 876.5,948.1 873.7,937.0 C870.9,925.9 878.7,912.0 877.0,903.7 C875.3,895.4 869.8,892.6 863.7,887.0 C857.6,881.4 840.3,874.8 840.3,870.3Z" fill="#f5efdc"/>
<path d="M1183.7,1103.7 C1186.5,1098.7 1192.0,1093.7 1197.0,1097.0 C1202.0,1100.3 1211.2,1115.4 1213.7,1123.7 C1216.2,1132.0 1215.9,1142.8 1212.0,1147.0 C1208.1,1151.2 1195.6,1152.0 1190.3,1148.7 C1185.0,1145.4 1181.4,1134.5 1180.3,1127.0 C1179.2,1119.5 1180.9,1108.7 1183.7,1103.7Z" fill="#f5efdc"/>
<path d="M1213.7,1127.0 C1215.9,1120.9 1222.0,1120.8 1230.3,1120.3 C1238.6,1119.8 1253.7,1120.9 1263.7,1123.7 C1273.7,1126.5 1284.2,1131.5 1290.3,1137.0 C1296.4,1142.5 1299.7,1151.5 1300.3,1157.0 C1300.9,1162.5 1299.8,1167.5 1293.7,1170.3 C1287.6,1173.1 1274.3,1174.2 1263.7,1173.7 C1253.1,1173.2 1238.1,1169.8 1230.3,1167.0 C1222.5,1164.2 1219.8,1163.7 1217.0,1157.0 C1214.2,1150.3 1211.5,1133.1 1213.7,1127.0Z" fill="#f5efdc"/>
<path d="M1313.7,1090.3 C1315.9,1080.3 1322.0,1077.0 1330.3,1070.3 C1338.6,1063.6 1351.5,1055.8 1363.7,1050.3 C1375.9,1044.8 1397.0,1022.5 1403.7,1037.0 C1410.4,1051.5 1407.6,1117.0 1403.7,1137.0 C1399.8,1157.0 1390.3,1154.8 1380.3,1157.0 C1370.3,1159.2 1354.2,1154.8 1343.7,1150.3 C1333.2,1145.8 1322.0,1140.3 1317.0,1130.3 C1312.0,1120.3 1311.5,1100.3 1313.7,1090.3Z" fill="#f5efdc"/>
<path d="M1313.7,1270.3 C1316.5,1262.0 1328.7,1255.9 1337.0,1253.7 C1345.3,1251.5 1352.6,1254.2 1363.7,1257.0 C1374.8,1259.8 1397.0,1254.2 1403.7,1270.3 C1410.4,1286.4 1410.4,1339.2 1403.7,1353.7 C1397.0,1368.2 1374.8,1359.8 1363.7,1357.0 C1352.6,1354.2 1344.2,1345.9 1337.0,1337.0 C1329.8,1328.1 1324.2,1314.8 1320.3,1303.7 C1316.4,1292.6 1310.9,1278.6 1313.7,1270.3Z" fill="#f5efdc"/>
<path d="M1213.7,1383.7 C1215.4,1373.7 1222.0,1364.8 1230.3,1357.0 C1238.6,1349.2 1252.6,1341.5 1263.7,1337.0 C1274.8,1332.5 1287.0,1332.5 1297.0,1330.3 C1307.0,1328.1 1317.0,1319.2 1323.7,1323.7 C1330.4,1328.2 1330.9,1348.1 1337.0,1357.0 C1343.1,1365.9 1356.4,1365.9 1360.3,1377.0 C1364.2,1388.1 1365.3,1414.8 1360.3,1423.7 C1355.3,1432.6 1342.0,1430.3 1330.3,1430.3 C1318.6,1430.3 1300.3,1423.7 1290.3,1423.7 C1280.3,1423.7 1277.5,1430.3 1270.3,1430.3 C1263.1,1430.3 1255.3,1425.9 1247.0,1423.7 C1238.7,1421.5 1225.8,1423.7 1220.3,1417.0 C1214.8,1410.3 1212.0,1393.7 1213.7,1383.7Z" fill="#f5efdc"/>
<path d="M1213.7,1514.0 C1213.7,1502.9 1212.6,1480.3 1217.0,1470.3 C1221.4,1460.2 1232.5,1454.8 1240.3,1453.7 C1248.1,1452.6 1257.0,1459.3 1263.7,1463.7 C1270.4,1468.1 1271.4,1474.8 1280.3,1480.3 C1289.2,1485.8 1312.0,1491.4 1317.0,1497.0 C1322.0,1502.6 1321.4,1509.5 1310.3,1514.0 C1299.2,1518.5 1261.4,1517.1 1250.3,1523.7 C1239.2,1530.3 1248.1,1548.2 1243.7,1553.7 C1239.3,1559.2 1228.2,1559.8 1223.7,1557.0 C1219.2,1554.2 1218.7,1544.2 1217.0,1537.0 C1215.3,1529.8 1213.7,1525.1 1213.7,1514.0Z" fill="#f5efdc"/>
<path d="M586.7,1630.7 C622.8,1631.9 667.2,1631.8 683.3,1638.0 C699.4,1644.2 686.3,1658.0 683.3,1668.0 C680.2,1678.0 667.9,1688.5 665.0,1698.0 C662.1,1707.5 669.7,1716.9 665.7,1724.7 C661.7,1732.5 645.2,1736.5 641.0,1745.0 C636.8,1753.5 639.1,1765.5 640.7,1775.7 C642.3,1785.9 652.2,1799.4 650.7,1806.3 C649.2,1813.2 636.2,1811.3 631.7,1817.3 C627.2,1823.3 626.6,1832.0 624.0,1842.3 C621.4,1852.6 616.5,1866.5 616.0,1879.0 C615.5,1891.5 622.3,1909.9 621.0,1917.3 C619.7,1924.7 609.1,1916.1 608.3,1923.3 C607.5,1930.5 612.3,1952.4 616.0,1960.7 C619.7,1969.0 627.5,1967.9 630.7,1973.3 C633.9,1978.7 635.5,1983.5 635.0,1993.0 C634.5,2002.5 631.0,2017.0 627.7,2030.0 C624.4,2043.0 619.8,2060.0 615.0,2071.3 C610.2,2082.6 601.0,2090.9 599.0,2098.0 C597.0,2105.1 603.9,2107.9 602.7,2114.0 C601.5,2120.1 597.4,2129.1 591.7,2134.7 C586.0,2140.2 571.8,2139.6 568.3,2147.3 C564.8,2155.0 568.5,2169.6 570.7,2180.7 C572.9,2191.8 599.0,2208.4 581.7,2214.0 C564.4,2219.6 485.9,2311.2 466.7,2214.0 C447.5,2116.8 446.7,1727.9 466.7,1630.7 C486.7,1533.5 550.6,1629.5 586.7,1630.7Z" fill="#f5efdc"/>
<path d="M676.7,1507.3 C683.4,1501.2 713.9,1500.6 720.0,1507.3 C726.1,1514.0 715.0,1532.3 713.3,1547.3 C711.6,1562.3 712.2,1583.4 710.0,1597.3 C707.8,1611.2 702.8,1616.8 700.0,1630.7 C697.2,1644.6 695.0,1666.8 693.3,1680.7 C691.6,1694.6 691.7,1702.9 690.0,1714.0 C688.3,1725.1 687.2,1738.4 683.3,1747.3 C679.4,1756.2 673.4,1762.8 666.7,1767.3 C660.0,1771.8 647.6,1777.7 643.3,1774.0 C639.0,1770.3 637.3,1753.2 641.0,1745.0 C644.7,1736.8 661.7,1732.5 665.7,1724.7 C669.7,1716.9 662.1,1707.5 665.0,1698.0 C667.9,1688.5 680.2,1678.0 683.3,1668.0 C686.3,1658.0 684.7,1644.0 683.3,1638.0 C681.9,1632.0 678.9,1642.4 675.0,1632.3 C671.1,1622.2 659.2,1592.0 660.0,1577.3 C660.8,1562.6 677.2,1555.7 680.0,1544.0 C682.8,1532.3 670.0,1513.4 676.7,1507.3Z" fill="#f5efdc" stroke="#f5efdc" stroke-width="24" stroke-linejoin="round"/>
<path d="M676.7,1507.3 C683.4,1501.2 713.9,1500.6 720.0,1507.3 C726.1,1514.0 715.0,1532.3 713.3,1547.3 C711.6,1562.3 712.2,1583.4 710.0,1597.3 C707.8,1611.2 702.8,1616.8 700.0,1630.7 C697.2,1644.6 695.0,1666.8 693.3,1680.7 C691.6,1694.6 691.7,1702.9 690.0,1714.0 C688.3,1725.1 687.2,1738.4 683.3,1747.3 C679.4,1756.2 673.4,1762.8 666.7,1767.3 C660.0,1771.8 647.6,1777.7 643.3,1774.0 C639.0,1770.3 637.3,1753.2 641.0,1745.0 C644.7,1736.8 661.7,1732.5 665.7,1724.7 C669.7,1716.9 662.1,1707.5 665.0,1698.0 C667.9,1688.5 680.2,1678.0 683.3,1668.0 C686.3,1658.0 684.7,1644.0 683.3,1638.0 C681.9,1632.0 678.9,1642.4 675.0,1632.3 C671.1,1622.2 659.2,1592.0 660.0,1577.3 C660.8,1562.6 677.2,1555.7 680.0,1544.0 C682.8,1532.3 670.0,1513.4 676.7,1507.3Z" fill="#f5efdc"/>
<path d="M641.0,1767.3 C646.4,1766.5 669.0,1762.9 673.3,1770.7 C677.6,1778.5 671.1,1801.2 666.7,1814.0 C662.3,1826.8 651.2,1836.2 646.7,1847.3 C642.2,1858.4 640.0,1869.6 640.0,1880.7 C640.0,1891.8 647.8,1902.9 646.7,1914.0 C645.6,1925.1 633.3,1936.2 633.3,1947.3 C633.3,1958.4 643.4,1969.6 646.7,1980.7 C650.0,1991.8 653.3,2002.9 653.3,2014.0 C653.3,2025.1 646.7,2036.2 646.7,2047.3 C646.7,2058.4 650.0,2072.4 653.3,2080.7 C656.6,2089.0 660.0,2092.9 666.7,2097.3 C673.4,2101.7 687.8,2102.9 693.3,2107.3 C698.8,2111.8 701.1,2117.3 700.0,2124.0 C698.9,2130.7 695.6,2143.4 686.7,2147.3 C677.8,2151.2 654.5,2144.5 646.7,2147.3 C638.9,2150.1 636.7,2158.4 640.0,2164.0 C643.3,2169.6 648.8,2180.4 666.7,2180.7 C684.6,2181.0 739.0,2166.1 747.3,2165.7 C755.6,2165.3 723.5,2170.2 716.7,2178.3 C709.9,2186.4 729.2,2208.1 706.7,2214.0 C684.2,2219.9 604.4,2219.6 581.7,2214.0 C559.0,2208.4 572.9,2191.8 570.7,2180.7 C568.5,2169.6 564.8,2155.0 568.3,2147.3 C571.8,2139.6 586.0,2140.2 591.7,2134.7 C597.4,2129.1 601.5,2120.1 602.7,2114.0 C603.9,2107.9 597.0,2105.1 599.0,2098.0 C601.0,2090.9 610.2,2082.6 615.0,2071.3 C619.8,2060.0 626.2,2040.1 627.7,2030.0 C629.2,2019.9 622.2,2015.0 624.0,2010.7 C625.8,2006.4 636.5,2007.0 638.3,2004.0 C640.1,2001.0 638.0,1996.0 635.0,1993.0 C632.0,1990.0 620.7,1989.6 620.0,1986.3 C619.3,1983.0 631.4,1977.6 630.7,1973.3 C630.0,1969.0 619.7,1969.0 616.0,1960.7 C612.3,1952.4 607.5,1930.5 608.3,1923.3 C609.1,1916.1 619.7,1924.7 621.0,1917.3 C622.3,1909.9 615.5,1891.5 616.0,1879.0 C616.5,1866.5 621.4,1852.6 624.0,1842.3 C626.6,1832.0 627.2,1823.3 631.7,1817.3 C636.2,1811.3 649.2,1813.2 650.7,1806.3 C652.2,1799.4 642.3,1782.2 640.7,1775.7 C639.1,1769.2 635.6,1768.1 641.0,1767.3Z" fill="#f5efdc"/>
<path d="M796.7,1614.0 C801.2,1610.7 816.7,1609.6 826.7,1610.7 C836.7,1611.8 852.8,1616.3 856.7,1620.7 C860.6,1625.1 856.1,1634.5 850.0,1637.3 C843.9,1640.1 828.3,1638.4 820.0,1637.3 C811.7,1636.2 803.9,1634.6 800.0,1630.7 C796.1,1626.8 792.2,1617.3 796.7,1614.0Z" fill="#f5efdc"/>
<path d="M830.0,1564.0 C834.4,1559.0 848.8,1560.1 853.3,1567.3 C857.8,1574.5 858.9,1597.8 856.7,1607.3 C854.5,1616.8 845.0,1625.7 840.0,1624.0 C835.0,1622.3 828.4,1607.3 826.7,1597.3 C825.0,1587.3 825.6,1569.0 830.0,1564.0Z" fill="#f5efdc"/>
<path d="M1200.3,1510.7 C1205.3,1506.8 1241.7,1505.7 1250.3,1510.7 C1258.9,1515.7 1254.2,1532.9 1252.0,1540.7 C1249.8,1548.5 1241.7,1555.1 1237.0,1557.3 C1232.3,1559.5 1226.5,1557.9 1223.7,1554.0 C1220.9,1550.1 1224.2,1541.2 1220.3,1534.0 C1216.4,1526.8 1195.3,1514.6 1200.3,1510.7Z" fill="#f5efdc"/>
<path d="M1260.3,1510.7 C1267.0,1508.5 1300.3,1508.5 1307.0,1510.7 C1313.7,1512.9 1307.0,1521.8 1300.3,1524.0 C1293.6,1526.2 1273.7,1526.2 1267.0,1524.0 C1260.3,1521.8 1253.6,1512.9 1260.3,1510.7Z" fill="#f5efdc"/>
<path d="M500.0,1900.0 L640.0,1900.0 L633.3,1966.7 L646.7,2033.3 L653.3,2086.7 L640.0,2133.3 L646.7,2160.0 L693.3,2176.7 L748.3,2166.7 L718.3,2180.0 L705.0,2195.0 L715.0,2228.3 L735.0,2245.0 L735.0,2366.7 L500.0,2366.7Z" fill="#f5efdc"/>
<path d="M663.3,2080.0 C666.1,2075.6 677.7,2082.2 683.3,2086.7 C688.9,2091.1 696.1,2101.1 696.7,2106.7 C697.3,2112.2 691.7,2118.9 686.7,2120.0 C681.7,2121.1 670.6,2120.0 666.7,2113.3 C662.8,2106.6 660.5,2084.4 663.3,2080.0Z" fill="#f5efdc"/>
<path d="M480.0,857.0 C484.4,858.7 502.2,874.8 510.0,887.0 C517.8,899.2 518.9,917.5 526.7,930.3 C534.5,943.1 546.2,954.8 556.7,963.7 C567.2,972.6 579.5,979.8 590.0,983.7 C600.5,987.6 614.5,984.8 620.0,987.0 C625.5,989.2 628.3,994.8 623.3,997.0 C618.3,999.2 601.1,1002.0 590.0,1000.3 C578.9,998.6 565.6,993.1 556.7,987.0 C547.8,980.9 544.5,971.5 536.7,963.7 C528.9,955.9 516.1,948.1 510.0,940.3 C503.9,932.5 504.4,927.5 500.0,917.0 C495.6,906.5 486.6,887.0 483.3,877.0 C480.0,867.0 475.6,855.3 480.0,857.0Z" fill="#f5efdc" stroke="#f5efdc" stroke-width="20" stroke-linejoin="round"/>
<path d="M480.0,857.0 C484.4,858.7 502.2,874.8 510.0,887.0 C517.8,899.2 518.9,917.5 526.7,930.3 C534.5,943.1 546.2,954.8 556.7,963.7 C567.2,972.6 579.5,979.8 590.0,983.7 C600.5,987.6 614.5,984.8 620.0,987.0 C625.5,989.2 628.3,994.8 623.3,997.0 C618.3,999.2 601.1,1002.0 590.0,1000.3 C578.9,998.6 565.6,993.1 556.7,987.0 C547.8,980.9 544.5,971.5 536.7,963.7 C528.9,955.9 516.1,948.1 510.0,940.3 C503.9,932.5 504.4,927.5 500.0,917.0 C495.6,906.5 486.6,887.0 483.3,877.0 C480.0,867.0 475.6,855.3 480.0,857.0Z" fill="#f5efdc"/>
<path d="M713.3,1030.3 C716.1,1027.5 728.4,1041.4 736.7,1050.3 C745.0,1059.2 753.2,1074.8 763.3,1083.7 C773.3,1092.6 787.0,1098.7 797.0,1103.7 C807.0,1108.7 818.9,1108.2 823.3,1113.7 C827.7,1119.2 827.7,1133.7 823.3,1137.0 C818.9,1140.3 805.9,1135.9 797.0,1133.7 C788.1,1131.5 779.0,1129.3 770.0,1123.7 C761.0,1118.1 751.6,1109.8 743.3,1100.3 C735.0,1090.8 725.0,1078.7 720.0,1067.0 C715.0,1055.3 710.5,1033.1 713.3,1030.3Z" fill="#f5efdc" stroke="#f5efdc" stroke-width="24" stroke-linejoin="round"/>
<path d="M713.3,1030.3 C716.1,1027.5 728.4,1041.4 736.7,1050.3 C745.0,1059.2 753.2,1074.8 763.3,1083.7 C773.3,1092.6 787.0,1098.7 797.0,1103.7 C807.0,1108.7 818.9,1108.2 823.3,1113.7 C827.7,1119.2 827.7,1133.7 823.3,1137.0 C818.9,1140.3 805.9,1135.9 797.0,1133.7 C788.1,1131.5 779.0,1129.3 770.0,1123.7 C761.0,1118.1 751.6,1109.8 743.3,1100.3 C735.0,1090.8 725.0,1078.7 720.0,1067.0 C715.0,1055.3 710.5,1033.1 713.3,1030.3Z" fill="#f5efdc"/>
<path d="M663.3,1157.0 C667.2,1149.2 682.2,1138.1 690.0,1157.0 C697.8,1175.9 705.5,1240.3 710.0,1270.3 C714.5,1300.3 717.8,1314.8 716.7,1337.0 C715.6,1359.2 707.8,1374.2 703.3,1403.7 C698.8,1433.2 703.3,1495.6 690.0,1514.0 C676.7,1532.4 630.0,1526.8 623.3,1514.0 C616.6,1501.2 644.4,1466.5 650.0,1437.0 C655.6,1407.5 653.4,1366.5 656.7,1337.0 C660.0,1307.5 668.3,1282.5 670.0,1260.3 C671.7,1238.1 667.8,1220.9 666.7,1203.7 C665.6,1186.5 659.4,1164.8 663.3,1157.0Z" fill="#f5efdc"/>
<path d="M797.0,1103.7 C802.6,1094.3 813.7,1108.2 823.7,1113.7 C833.7,1119.2 848.7,1127.6 857.0,1137.0 C865.3,1146.4 870.4,1156.4 873.7,1170.3 C877.0,1184.2 877.6,1203.6 877.0,1220.3 C876.4,1237.0 873.6,1253.6 870.3,1270.3 C867.0,1287.0 863.1,1300.8 857.0,1320.3 C850.9,1339.8 841.5,1367.5 833.7,1387.0 C825.9,1406.5 816.4,1425.9 810.3,1437.0 C804.2,1448.1 801.4,1459.2 797.0,1453.7 C792.6,1448.2 784.8,1428.7 783.7,1403.7 C782.6,1378.7 789.2,1342.6 790.3,1303.7 C791.4,1264.8 789.2,1203.6 790.3,1170.3 C791.4,1137.0 791.4,1113.1 797.0,1103.7Z" fill="#f5efdc" stroke="#f5efdc" stroke-width="24" stroke-linejoin="round"/>
<path d="M797.0,1103.7 C802.6,1094.3 813.7,1108.2 823.7,1113.7 C833.7,1119.2 848.7,1127.6 857.0,1137.0 C865.3,1146.4 870.4,1156.4 873.7,1170.3 C877.0,1184.2 877.6,1203.6 877.0,1220.3 C876.4,1237.0 873.6,1253.6 870.3,1270.3 C867.0,1287.0 863.1,1300.8 857.0,1320.3 C850.9,1339.8 841.5,1367.5 833.7,1387.0 C825.9,1406.5 816.4,1425.9 810.3,1437.0 C804.2,1448.1 801.4,1459.2 797.0,1453.7 C792.6,1448.2 784.8,1428.7 783.7,1403.7 C782.6,1378.7 789.2,1342.6 790.3,1303.7 C791.4,1264.8 789.2,1203.6 790.3,1170.3 C791.4,1137.0 791.4,1113.1 797.0,1103.7Z" fill="#f5efdc"/>
<path d="M863.3,1330.0 C863.3,1339.2 843.1,1368.4 834.7,1384.9 C826.3,1401.4 820.0,1416.1 812.7,1428.9 C805.4,1441.7 796.3,1449.1 790.8,1461.9 C785.3,1474.7 785.3,1491.2 779.8,1505.8 C774.3,1520.4 765.1,1540.6 757.8,1549.8 C750.5,1559.0 742.4,1549.8 735.8,1560.8 C729.2,1571.8 722.6,1599.2 718.2,1615.7 C713.8,1632.2 712.4,1641.4 709.5,1659.7 C706.6,1678.0 703.6,1714.6 700.7,1725.6 C697.8,1736.6 692.6,1740.2 691.9,1725.6 C691.2,1710.9 692.6,1667.0 696.3,1637.7 C699.9,1608.4 707.2,1571.8 713.8,1549.8 C720.4,1527.8 728.5,1520.4 735.8,1505.8 C743.1,1491.2 750.5,1474.7 757.8,1461.9 C765.1,1449.1 772.5,1441.7 779.8,1428.9 C787.1,1416.1 792.6,1401.4 801.8,1384.9 C810.9,1368.4 824.5,1339.2 834.7,1330.0 C845.0,1320.8 863.3,1320.8 863.3,1330.0Z" fill="#f5efdc"/>
<path d="M633.3,2246.7 L850.0,2246.7 L850.0,2366.7 L633.3,2366.7Z" fill="#f5efdc"/>
<path d="M423.1,560.0 C418.6,569.6 415.4,598.5 411.5,617.7 C407.6,636.9 402.6,658.1 400.0,675.4 C397.4,692.7 394.3,706.1 396.2,721.5 C398.1,736.9 405.7,754.2 411.5,767.7 C417.3,781.2 423.8,788.8 430.8,802.3 C437.9,815.8 445.5,833.1 453.8,848.5 C462.1,863.9 471.8,881.8 480.8,894.6 C489.8,907.4 500.6,913.9 507.7,925.4 C514.8,936.9 517.3,951.4 523.1,963.8 C528.9,976.2 529.5,994.0 542.3,1000.0 C555.1,1006.0 594.9,1006.7 600.0,1000.0 C605.1,993.3 581.4,971.8 573.1,960.0 C564.8,948.2 557.7,940.7 550.0,929.2 C542.3,917.7 536.5,903.6 526.9,890.8 C517.3,878.0 502.6,865.8 492.3,852.3 C482.1,838.8 473.1,822.8 465.4,810.0 C457.7,797.2 454.5,786.9 446.2,775.4 C437.9,763.9 421.2,755.5 415.4,740.8 C409.6,726.0 410.9,704.2 411.5,686.9 C412.1,669.6 415.3,655.5 419.2,636.9 C423.1,618.3 431.4,588.2 434.6,575.4 C437.8,562.6 440.4,562.6 438.5,560.0 C436.6,557.4 427.6,550.4 423.1,560.0Z" fill="#f5efdc" stroke="#f5efdc" stroke-width="24" stroke-linejoin="round"/>
<path d="M423.1,560.0 C418.6,569.6 415.4,598.5 411.5,617.7 C407.6,636.9 402.6,658.1 400.0,675.4 C397.4,692.7 394.3,706.1 396.2,721.5 C398.1,736.9 405.7,754.2 411.5,767.7 C417.3,781.2 423.8,788.8 430.8,802.3 C437.9,815.8 445.5,833.1 453.8,848.5 C462.1,863.9 471.8,881.8 480.8,894.6 C489.8,907.4 500.6,913.9 507.7,925.4 C514.8,936.9 517.3,951.4 523.1,963.8 C528.9,976.2 529.5,994.0 542.3,1000.0 C555.1,1006.0 594.9,1006.7 600.0,1000.0 C605.1,993.3 581.4,971.8 573.1,960.0 C564.8,948.2 557.7,940.7 550.0,929.2 C542.3,917.7 536.5,903.6 526.9,890.8 C517.3,878.0 502.6,865.8 492.3,852.3 C482.1,838.8 473.1,822.8 465.4,810.0 C457.7,797.2 454.5,786.9 446.2,775.4 C437.9,763.9 421.2,755.5 415.4,740.8 C409.6,726.0 410.9,704.2 411.5,686.9 C412.1,669.6 415.3,655.5 419.2,636.9 C423.1,618.3 431.4,588.2 434.6,575.4 C437.8,562.6 440.4,562.6 438.5,560.0 C436.6,557.4 427.6,550.4 423.1,560.0Z" fill="#f5efdc"/>
<path d="M1080.7,834.8 C1081.3,825.0 1099.2,821.4 1110.9,818.0 C1122.6,814.6 1138.8,813.0 1151.1,814.7 C1163.4,816.4 1171.8,824.2 1184.6,828.1 C1197.4,832.0 1215.3,839.3 1228.2,838.2 C1241.1,837.1 1255.0,814.1 1261.7,821.4 C1268.4,828.6 1294.1,872.5 1268.4,881.7 C1242.7,890.9 1138.8,884.5 1107.5,876.7 C1076.2,868.9 1080.1,844.6 1080.7,834.8Z" fill="#f5efdc"/>
<path d="M503.3,1060.3 L563.3,1097.0 L630.0,1130.3 L632.7,1143.7 L665.0,1162.0 L680.7,1154.7 L656.7,1127.0 L630.0,1113.7 L606.7,1090.3 L576.7,1070.3 L550.0,1067.0 L523.3,1050.3Z" fill="#f5efdc"/>
<path d="M595.0,326.7 C598.7,328.4 607.7,348.9 610.7,356.7 C613.8,364.5 615.4,366.1 613.3,373.3 C611.2,380.5 606.1,391.1 598.3,400.0 C590.5,408.9 574.8,416.7 566.7,426.7 C558.7,436.7 554.5,451.1 550.0,460.0 C545.5,468.9 544.5,473.3 540.0,480.0 C535.5,486.7 531.6,493.3 523.3,500.0 C515.0,506.7 499.4,513.9 490.0,520.0 C480.6,526.1 473.9,530.6 466.7,536.7 C459.5,542.8 452.8,555.6 446.7,556.7 C440.6,557.8 430.6,548.9 430.0,543.3 C429.4,537.7 436.1,529.4 443.3,523.3 C450.5,517.2 463.9,511.7 473.3,506.7 C482.8,501.7 491.7,500.0 500.0,493.3 C508.3,486.6 518.3,475.6 523.3,466.7 C528.3,457.8 526.7,448.9 530.0,440.0 C533.3,431.1 537.8,421.1 543.3,413.3 C548.8,405.5 556.6,400.0 563.3,393.3 C570.0,386.6 579.1,381.1 583.3,373.3 C587.5,365.5 586.3,354.5 588.3,346.7 C590.2,338.9 591.3,325.0 595.0,326.7Z" fill="#ead59f" stroke="#ead59f" stroke-width="10" stroke-linejoin="round"/>
<path d="M595.0,326.7 C598.7,328.4 607.7,348.9 610.7,356.7 C613.8,364.5 615.4,366.1 613.3,373.3 C611.2,380.5 606.1,391.1 598.3,400.0 C590.5,408.9 574.8,416.7 566.7,426.7 C558.7,436.7 554.5,451.1 550.0,460.0 C545.5,468.9 544.5,473.3 540.0,480.0 C535.5,486.7 531.6,493.3 523.3,500.0 C515.0,506.7 499.4,513.9 490.0,520.0 C480.6,526.1 473.9,530.6 466.7,536.7 C459.5,542.8 452.8,555.6 446.7,556.7 C440.6,557.8 430.6,548.9 430.0,543.3 C429.4,537.7 436.1,529.4 443.3,523.3 C450.5,517.2 463.9,511.7 473.3,506.7 C482.8,501.7 491.7,500.0 500.0,493.3 C508.3,486.6 518.3,475.6 523.3,466.7 C528.3,457.8 526.7,448.9 530.0,440.0 C533.3,431.1 537.8,421.1 543.3,413.3 C548.8,405.5 556.6,400.0 563.3,393.3 C570.0,386.6 579.1,381.1 583.3,373.3 C587.5,365.5 586.3,354.5 588.3,346.7 C590.2,338.9 591.3,325.0 595.0,326.7Z" fill="#ead59f"/>
<path d="M573.3,293.3 C577.2,291.6 585.5,297.7 590.0,303.3 C594.5,308.9 600.0,319.5 600.0,326.7 C600.0,333.9 594.5,341.1 590.0,346.7 C585.5,352.2 578.8,354.4 573.3,360.0 C567.8,365.6 560.6,378.9 556.7,380.0 C552.8,381.1 548.9,373.4 550.0,366.7 C551.1,360.0 560.5,348.9 563.3,340.0 C566.1,331.1 565.0,321.1 566.7,313.3 C568.4,305.5 569.4,295.0 573.3,293.3Z" fill="#ead59f"/>
<path d="M606.7,326.7 C611.1,323.9 623.9,316.7 633.3,310.0 C642.7,303.3 655.0,293.4 663.3,286.7 C671.6,280.0 680.0,272.8 683.3,270.0" fill="none" stroke="#ead59f" stroke-width="21" stroke-linejoin="round" stroke-linecap="round"/>
<path d="M683.3,270.0 C690.0,267.8 711.1,260.0 723.3,256.7 C735.5,253.4 744.5,251.9 756.7,250.0 C768.9,248.1 785.6,246.1 796.7,245.0 C807.8,243.9 818.9,243.6 823.3,243.3" fill="none" stroke="#ead59f" stroke-width="6" stroke-linejoin="round" stroke-linecap="round"/>
<path d="M476.7,340.0 C481.7,335.6 493.1,342.2 500.0,346.7 C506.9,351.1 515.8,357.8 518.3,366.7 C520.8,375.6 516.4,390.0 515.0,400.0 C513.6,410.0 511.9,417.8 510.0,426.7 C508.1,435.6 507.2,445.0 503.3,453.3 C499.4,461.6 492.8,468.9 486.7,476.7 C480.6,484.5 473.4,492.8 466.7,500.0 C460.0,507.2 453.9,513.9 446.7,520.0 C439.5,526.1 428.3,535.6 423.3,536.7 C418.3,537.8 414.5,531.7 416.7,526.7 C418.9,521.7 430.0,514.5 436.7,506.7 C443.4,498.9 451.1,488.9 456.7,480.0 C462.2,471.1 467.2,462.2 470.0,453.3 C472.8,444.4 472.2,435.6 473.3,426.7 C474.4,417.8 477.2,408.9 476.7,400.0 C476.1,391.1 470.0,383.3 470.0,373.3 C470.0,363.3 471.7,344.4 476.7,340.0Z" fill="#ead59f"/>
<path d="M423.3,540.0 C428.3,540.6 444.2,551.7 446.7,556.7 C449.2,561.7 441.4,563.9 438.3,570.0 C435.2,576.1 431.1,583.8 428.3,593.3 C425.5,602.8 423.1,616.7 421.7,626.7 C420.3,636.7 421.9,644.4 420.0,653.3 C418.1,662.2 412.8,671.1 410.0,680.0 C407.2,688.9 405.5,698.9 403.3,706.7 C401.1,714.5 399.5,722.3 396.7,726.7 C393.9,731.1 391.1,733.9 386.7,733.3 C382.2,732.7 373.3,728.8 370.0,723.3 C366.7,717.8 365.6,708.3 366.7,700.0 C367.8,691.7 373.4,683.3 376.7,673.3 C380.0,663.3 384.5,651.1 386.7,640.0 C388.9,628.9 387.8,616.7 390.0,606.7 C392.2,596.7 395.6,588.9 400.0,580.0 C404.4,571.1 412.8,560.0 416.7,553.3 C420.6,546.6 418.3,539.4 423.3,540.0Z" fill="#ead59f" stroke="#ead59f" stroke-width="12" stroke-linejoin="round"/>
<path d="M423.3,540.0 C428.3,540.6 444.2,551.7 446.7,556.7 C449.2,561.7 441.4,563.9 438.3,570.0 C435.2,576.1 431.1,583.8 428.3,593.3 C425.5,602.8 423.1,616.7 421.7,626.7 C420.3,636.7 421.9,644.4 420.0,653.3 C418.1,662.2 412.8,671.1 410.0,680.0 C407.2,688.9 405.5,698.9 403.3,706.7 C401.1,714.5 399.5,722.3 396.7,726.7 C393.9,731.1 391.1,733.9 386.7,733.3 C382.2,732.7 373.3,728.8 370.0,723.3 C366.7,717.8 365.6,708.3 366.7,700.0 C367.8,691.7 373.4,683.3 376.7,673.3 C380.0,663.3 384.5,651.1 386.7,640.0 C388.9,628.9 387.8,616.7 390.0,606.7 C392.2,596.7 395.6,588.9 400.0,580.0 C404.4,571.1 412.8,560.0 416.7,553.3 C420.6,546.6 418.3,539.4 423.3,540.0Z" fill="#ead59f"/>
<circle cx="561.7" cy="231.7" r="8" fill="#ead59f"/>
<path d="M296.7,301.7 C299.5,300.6 309.5,300.0 316.7,300.0 C323.9,300.0 336.7,300.6 340.0,301.7 C343.3,302.8 340.6,305.6 336.7,306.7 C332.8,307.8 322.8,308.3 316.7,308.3 C310.6,308.3 303.3,307.8 300.0,306.7 C296.7,305.6 293.9,302.8 296.7,301.7Z" fill="#ead59f"/>
<path d="M910.3,366.7 C913.6,361.7 922.5,362.2 930.3,363.3 C938.1,364.4 953.1,368.9 957.0,373.3 C960.9,377.8 950.9,382.8 953.7,390.0 C956.5,397.2 972.0,410.6 973.7,416.7 C975.4,422.8 969.3,425.6 963.7,426.7 C958.1,427.8 947.0,426.6 940.3,423.3 C933.6,420.0 928.7,411.7 923.7,406.7 C918.7,401.7 912.5,400.0 910.3,393.3 C908.1,386.6 907.0,371.7 910.3,366.7Z" fill="#ead59f"/>
<path d="M960.3,368.3 C965.3,364.4 977.6,363.6 983.7,366.7 C989.8,369.8 990.3,378.9 997.0,386.7 C1003.7,394.5 1019.8,406.6 1023.7,413.3 C1027.6,420.0 1024.2,425.0 1020.3,426.7 C1016.4,428.4 1006.4,425.5 1000.3,423.3 C994.2,421.1 989.8,417.2 983.7,413.3 C977.6,409.4 968.7,403.9 963.7,400.0 C958.7,396.1 954.3,395.3 953.7,390.0 C953.1,384.7 955.3,372.2 960.3,368.3Z" fill="#ead59f"/>
<path d="M825.3,376.7 C827.2,373.4 834.2,376.1 837.0,380.0 C839.8,383.9 842.5,394.4 842.0,400.0 C841.5,405.6 836.5,413.3 833.7,413.3 C830.9,413.3 826.7,406.1 825.3,400.0 C823.9,393.9 823.3,380.0 825.3,376.7Z" fill="#ead59f"/>
<path d="M817.0,433.3 C822.0,428.9 835.9,426.1 843.7,426.7 C851.5,427.3 857.0,436.7 863.7,436.7 C870.4,436.7 875.9,428.9 883.7,426.7 C891.5,424.5 904.8,421.6 910.3,423.3 C915.8,425.0 919.2,433.4 917.0,436.7 C914.8,440.0 905.9,441.1 897.0,443.3 C888.1,445.5 872.6,450.0 863.7,450.0 C854.8,450.0 845.9,441.6 843.7,443.3 C841.5,445.0 849.8,455.0 850.3,460.0 C850.8,465.0 850.3,473.3 847.0,473.3 C843.7,473.3 835.8,463.3 830.3,460.0 C824.8,456.7 815.9,457.8 813.7,453.3 C811.5,448.9 812.0,437.7 817.0,433.3Z" fill="#ead59f"/>
<path d="M863.7,460.0 C867.6,457.8 882.6,463.4 887.0,466.7 C891.4,470.0 890.8,475.0 890.3,480.0 C889.8,485.0 887.3,493.9 883.7,496.7 C880.1,499.5 872.0,499.5 868.7,496.7 C865.4,493.9 864.5,486.1 863.7,480.0 C862.9,473.9 859.8,462.2 863.7,460.0Z" fill="#ead59f"/>
<path d="M862.0,251.7 C866.4,250.1 885.3,248.9 890.3,250.0 C895.3,251.1 896.4,256.8 892.0,258.3 C887.6,259.9 868.7,260.4 863.7,259.3 C858.7,258.2 857.6,253.2 862.0,251.7Z" fill="#ead59f"/>
<path d="M370.0,726.7 C366.1,732.2 373.4,750.0 376.7,760.0 C380.0,770.0 386.1,777.8 390.0,786.7 C393.9,795.6 397.2,804.9 400.0,813.3 C402.8,821.7 402.8,827.5 406.7,837.0 C410.6,846.5 417.2,857.0 423.3,870.3 C429.4,883.6 436.1,903.7 443.3,917.0 C450.5,930.3 458.9,937.5 466.7,950.3 C474.5,963.1 482.8,981.5 490.0,993.7 C497.2,1005.9 504.4,1015.4 510.0,1023.7 C515.5,1032.0 516.6,1036.5 523.3,1043.7 C530.0,1050.9 541.1,1062.6 550.0,1067.0 C558.9,1071.4 567.2,1066.4 576.7,1070.3 C586.2,1074.2 597.8,1083.1 606.7,1090.3 C615.6,1097.5 621.7,1107.6 630.0,1113.7 C638.3,1119.8 648.4,1121.5 656.7,1127.0 C665.0,1132.5 675.6,1139.8 680.0,1147.0 C684.4,1154.2 681.6,1160.8 683.3,1170.3 C685.0,1179.8 687.2,1192.6 690.0,1203.7 C692.8,1214.8 697.5,1225.9 700.0,1237.0 C702.5,1248.1 703.3,1259.2 705.0,1270.3 C706.7,1281.4 708.6,1292.6 710.0,1303.7 C711.4,1314.8 710.0,1328.1 713.3,1337.0 C716.6,1345.9 722.8,1354.8 730.0,1357.0 C737.2,1359.2 748.9,1353.6 756.7,1350.3 C764.5,1347.0 770.0,1339.2 776.7,1337.0 C783.4,1334.8 787.0,1337.0 797.0,1337.0 C807.0,1337.0 829.8,1342.5 837.0,1337.0 C844.2,1331.5 839.8,1314.8 840.3,1303.7 C840.8,1292.6 839.2,1281.4 840.3,1270.3 C841.4,1259.2 846.4,1250.9 847.0,1237.0 C847.6,1223.1 846.5,1200.3 843.7,1187.0 C840.9,1173.7 834.8,1165.3 830.3,1157.0 C825.8,1148.7 822.5,1142.0 817.0,1137.0 C811.5,1132.0 803.7,1129.2 797.0,1127.0 C790.3,1124.8 784.5,1127.6 776.7,1123.7 C768.9,1119.8 758.9,1112.6 750.0,1103.7 C741.1,1094.8 730.0,1081.4 723.3,1070.3 C716.6,1059.2 721.1,1047.0 710.0,1037.0 C698.9,1027.0 671.2,1017.5 656.7,1010.3 C642.2,1003.1 634.4,995.9 623.3,993.7 C612.2,991.5 601.1,998.7 590.0,997.0 C578.9,995.3 567.2,988.6 556.7,983.7 C546.2,978.8 535.9,976.6 527.0,967.7 C518.1,958.8 510.4,941.9 503.3,930.3 C496.2,918.7 490.2,907.7 484.7,898.3 C479.1,888.9 474.5,881.4 470.0,873.7 C465.5,866.0 461.6,859.5 457.7,852.3 C453.8,845.1 450.5,838.0 446.7,830.3 C442.9,822.6 438.6,813.0 434.7,806.3 C430.8,799.6 426.5,795.5 423.3,790.3 C420.1,785.1 418.1,782.0 415.3,775.3 C412.5,768.6 409.2,758.3 406.7,750.3 C404.1,742.2 406.1,730.9 400.0,727.0 C393.9,723.1 373.9,721.2 370.0,726.7Z" fill="#ead59f" stroke="#ead59f" stroke-width="14" stroke-linejoin="round"/>
<path d="M370.0,726.7 C366.1,732.2 373.4,750.0 376.7,760.0 C380.0,770.0 386.1,777.8 390.0,786.7 C393.9,795.6 397.2,804.9 400.0,813.3 C402.8,821.7 402.8,827.5 406.7,837.0 C410.6,846.5 417.2,857.0 423.3,870.3 C429.4,883.6 436.1,903.7 443.3,917.0 C450.5,930.3 458.9,937.5 466.7,950.3 C474.5,963.1 482.8,981.5 490.0,993.7 C497.2,1005.9 504.4,1015.4 510.0,1023.7 C515.5,1032.0 516.6,1036.5 523.3,1043.7 C530.0,1050.9 541.1,1062.6 550.0,1067.0 C558.9,1071.4 567.2,1066.4 576.7,1070.3 C586.2,1074.2 597.8,1083.1 606.7,1090.3 C615.6,1097.5 621.7,1107.6 630.0,1113.7 C638.3,1119.8 648.4,1121.5 656.7,1127.0 C665.0,1132.5 675.6,1139.8 680.0,1147.0 C684.4,1154.2 681.6,1160.8 683.3,1170.3 C685.0,1179.8 687.2,1192.6 690.0,1203.7 C692.8,1214.8 697.5,1225.9 700.0,1237.0 C702.5,1248.1 703.3,1259.2 705.0,1270.3 C706.7,1281.4 708.6,1292.6 710.0,1303.7 C711.4,1314.8 710.0,1328.1 713.3,1337.0 C716.6,1345.9 722.8,1354.8 730.0,1357.0 C737.2,1359.2 748.9,1353.6 756.7,1350.3 C764.5,1347.0 770.0,1339.2 776.7,1337.0 C783.4,1334.8 787.0,1337.0 797.0,1337.0 C807.0,1337.0 829.8,1342.5 837.0,1337.0 C844.2,1331.5 839.8,1314.8 840.3,1303.7 C840.8,1292.6 839.2,1281.4 840.3,1270.3 C841.4,1259.2 846.4,1250.9 847.0,1237.0 C847.6,1223.1 846.5,1200.3 843.7,1187.0 C840.9,1173.7 834.8,1165.3 830.3,1157.0 C825.8,1148.7 822.5,1142.0 817.0,1137.0 C811.5,1132.0 803.7,1129.2 797.0,1127.0 C790.3,1124.8 784.5,1127.6 776.7,1123.7 C768.9,1119.8 758.9,1112.6 750.0,1103.7 C741.1,1094.8 730.0,1081.4 723.3,1070.3 C716.6,1059.2 721.1,1047.0 710.0,1037.0 C698.9,1027.0 671.2,1017.5 656.7,1010.3 C642.2,1003.1 634.4,995.9 623.3,993.7 C612.2,991.5 601.1,998.7 590.0,997.0 C578.9,995.3 567.2,988.6 556.7,983.7 C546.2,978.8 535.9,976.6 527.0,967.7 C518.1,958.8 510.4,941.9 503.3,930.3 C496.2,918.7 490.2,907.7 484.7,898.3 C479.1,888.9 474.5,881.4 470.0,873.7 C465.5,866.0 461.6,859.5 457.7,852.3 C453.8,845.1 450.5,838.0 446.7,830.3 C442.9,822.6 438.6,813.0 434.7,806.3 C430.8,799.6 426.5,795.5 423.3,790.3 C420.1,785.1 418.1,782.0 415.3,775.3 C412.5,768.6 409.2,758.3 406.7,750.3 C404.1,742.2 406.1,730.9 400.0,727.0 C393.9,723.1 373.9,721.2 370.0,726.7Z" fill="#ead59f"/>
<path d="M713.3,1330.3 C708.3,1332.5 703.3,1358.1 700.0,1370.3 C696.7,1382.5 695.0,1392.6 693.3,1403.7 C691.6,1414.8 691.7,1425.9 690.0,1437.0 C688.3,1448.1 686.6,1457.5 683.3,1470.3 C680.0,1483.1 673.3,1501.2 670.0,1514.0 C666.7,1526.8 663.3,1536.2 663.3,1547.3 C663.3,1558.4 668.3,1569.6 670.0,1580.7 C671.7,1591.8 671.6,1606.2 673.3,1614.0 C675.0,1621.8 677.2,1627.3 680.0,1627.3 C682.8,1627.3 687.8,1621.8 690.0,1614.0 C692.2,1606.2 692.5,1591.8 693.3,1580.7 C694.1,1569.6 694.4,1558.4 695.0,1547.3 C695.6,1536.2 693.1,1526.8 696.7,1514.0 C700.3,1501.2 712.3,1483.1 716.7,1470.3 C721.1,1457.5 721.6,1448.1 723.3,1437.0 C725.0,1425.9 725.6,1417.0 726.7,1403.7 C727.8,1390.4 732.2,1369.2 730.0,1357.0 C727.8,1344.8 718.3,1328.1 713.3,1330.3Z" fill="#ead59f" stroke="#ead59f" stroke-width="14" stroke-linejoin="round"/>
<path d="M713.3,1330.3 C708.3,1332.5 703.3,1358.1 700.0,1370.3 C696.7,1382.5 695.0,1392.6 693.3,1403.7 C691.6,1414.8 691.7,1425.9 690.0,1437.0 C688.3,1448.1 686.6,1457.5 683.3,1470.3 C680.0,1483.1 673.3,1501.2 670.0,1514.0 C666.7,1526.8 663.3,1536.2 663.3,1547.3 C663.3,1558.4 668.3,1569.6 670.0,1580.7 C671.7,1591.8 671.6,1606.2 673.3,1614.0 C675.0,1621.8 677.2,1627.3 680.0,1627.3 C682.8,1627.3 687.8,1621.8 690.0,1614.0 C692.2,1606.2 692.5,1591.8 693.3,1580.7 C694.1,1569.6 694.4,1558.4 695.0,1547.3 C695.6,1536.2 693.1,1526.8 696.7,1514.0 C700.3,1501.2 712.3,1483.1 716.7,1470.3 C721.1,1457.5 721.6,1448.1 723.3,1437.0 C725.0,1425.9 725.6,1417.0 726.7,1403.7 C727.8,1390.4 732.2,1369.2 730.0,1357.0 C727.8,1344.8 718.3,1328.1 713.3,1330.3Z" fill="#ead59f"/>
<path d="M797.0,1330.3 C805.4,1323.6 831.0,1325.8 837.0,1330.3 C843.0,1334.8 836.7,1347.5 833.3,1357.0 C829.9,1366.5 821.7,1375.9 816.7,1387.0 C811.7,1398.1 808.3,1416.5 803.3,1423.7 C798.3,1430.9 790.6,1433.6 786.7,1430.3 C782.8,1427.0 780.0,1413.7 780.0,1403.7 C780.0,1393.7 783.9,1382.5 786.7,1370.3 C789.5,1358.1 788.6,1337.0 797.0,1330.3Z" fill="#ead59f" stroke="#ead59f" stroke-width="14" stroke-linejoin="round"/>
<path d="M797.0,1330.3 C805.4,1323.6 831.0,1325.8 837.0,1330.3 C843.0,1334.8 836.7,1347.5 833.3,1357.0 C829.9,1366.5 821.7,1375.9 816.7,1387.0 C811.7,1398.1 808.3,1416.5 803.3,1423.7 C798.3,1430.9 790.6,1433.6 786.7,1430.3 C782.8,1427.0 780.0,1413.7 780.0,1403.7 C780.0,1393.7 783.9,1382.5 786.7,1370.3 C789.5,1358.1 788.6,1337.0 797.0,1330.3Z" fill="#ead59f"/>
<path d="M723.3,1350.3 C735.0,1338.1 785.3,1321.4 797.0,1330.3 C808.7,1339.2 796.1,1381.8 793.3,1403.7 C790.5,1425.7 785.9,1441.3 780.0,1462.0 C774.1,1482.7 765.2,1510.0 758.0,1528.0 C750.8,1546.0 743.6,1557.7 736.7,1570.3 C729.8,1582.9 723.4,1607.5 716.7,1603.7 C710.0,1599.9 700.0,1562.2 696.7,1547.3 C693.4,1532.3 693.4,1526.8 696.7,1514.0 C700.0,1501.2 711.7,1488.7 716.7,1470.3 C721.7,1451.9 725.6,1423.7 726.7,1403.7 C727.8,1383.7 711.6,1362.5 723.3,1350.3Z" fill="#ead59f"/>
<circle cx="1315.3" cy="1477.0" r="8" fill="#ead59f"/>
<path d="M613.3,1507.3 C621.6,1497.8 665.6,1501.2 676.7,1507.3 C687.8,1513.4 682.8,1532.3 680.0,1544.0 C677.2,1555.7 660.8,1562.6 660.0,1577.3 C659.2,1592.0 671.1,1622.2 675.0,1632.3 C678.9,1642.4 681.9,1632.0 683.3,1638.0 C684.7,1644.0 686.1,1658.0 683.3,1668.0 C680.5,1678.0 671.7,1692.5 666.7,1698.0 C661.7,1703.5 656.6,1705.8 653.3,1700.7 C650.0,1695.6 648.9,1679.0 646.7,1667.3 C644.5,1655.6 642.8,1642.4 640.0,1630.7 C637.2,1619.0 632.2,1608.4 630.0,1597.3 C627.8,1586.2 629.5,1579.0 626.7,1564.0 C623.9,1549.0 605.0,1516.8 613.3,1507.3Z" fill="#ead59f"/>
<path d="M676.7,1507.3 C683.4,1501.2 713.9,1500.6 720.0,1507.3 C726.1,1514.0 715.0,1532.3 713.3,1547.3 C711.6,1562.3 712.2,1583.4 710.0,1597.3 C707.8,1611.2 702.8,1616.8 700.0,1630.7 C697.2,1644.6 695.0,1666.8 693.3,1680.7 C691.6,1694.6 691.7,1702.9 690.0,1714.0 C688.3,1725.1 687.2,1738.4 683.3,1747.3 C679.4,1756.2 673.4,1762.8 666.7,1767.3 C660.0,1771.8 647.6,1777.7 643.3,1774.0 C639.0,1770.3 637.3,1753.2 641.0,1745.0 C644.7,1736.8 661.7,1732.5 665.7,1724.7 C669.7,1716.9 662.1,1707.5 665.0,1698.0 C667.9,1688.5 680.2,1678.0 683.3,1668.0 C686.3,1658.0 684.7,1644.0 683.3,1638.0 C681.9,1632.0 678.9,1642.4 675.0,1632.3 C671.1,1622.2 659.2,1592.0 660.0,1577.3 C660.8,1562.6 677.2,1555.7 680.0,1544.0 C682.8,1532.3 670.0,1513.4 676.7,1507.3Z" fill="#ead59f"/>
<path d="M720.0,2255.0 L733.3,2271.7 L748.3,2293.3 L790.0,2312.3 L835.0,2320.7 L821.7,2337.3 L790.0,2338.3 L775.0,2330.0 L720.0,2326.0Z" fill="#ead59f"/>
<path d="M633.3,2300.0 C646.1,2289.2 705.5,2262.4 720.0,2266.7 C734.5,2271.0 712.8,2313.8 720.0,2326.0 C727.2,2338.2 760.5,2336.0 763.3,2340.0 C766.1,2344.0 746.7,2348.9 736.7,2350.0 C726.7,2351.1 712.8,2348.9 703.3,2346.7 C693.8,2344.5 690.0,2339.2 680.0,2336.7 C670.0,2334.2 651.1,2337.8 643.3,2331.7 C635.5,2325.6 620.5,2310.8 633.3,2300.0Z" fill="#ead59f"/>
<path d="M560.0,2240.0 C562.2,2235.0 587.8,2240.0 600.0,2243.3 C612.2,2246.6 625.5,2253.3 633.3,2260.0 C641.1,2266.7 649.5,2278.9 646.7,2283.3 C643.9,2287.8 626.7,2288.4 616.7,2286.7 C606.7,2285.0 596.2,2281.1 586.7,2273.3 C577.2,2265.5 557.8,2245.0 560.0,2240.0Z" fill="#ead59f"/>
<path d="M540.0,2133.3 C542.2,2128.3 556.1,2128.9 560.0,2133.3 C563.9,2137.8 565.5,2155.0 563.3,2160.0 C561.1,2165.0 550.6,2167.8 546.7,2163.3 C542.8,2158.9 537.8,2138.3 540.0,2133.3Z" fill="#ead59f"/>
<path d="M976.7,2221.7 L996.0,2213.3 L1022.7,2220.7 L1041.7,2209.3 L1065.0,2220.7 L1056.7,2230.0 L1016.7,2237.3 L1000.0,2227.3 L983.3,2235.0Z" fill="#ead59f"/>
<path d="M480.0,857.0 C484.4,858.7 502.2,874.8 510.0,887.0 C517.8,899.2 518.9,917.5 526.7,930.3 C534.5,943.1 546.2,954.8 556.7,963.7 C567.2,972.6 579.5,979.8 590.0,983.7 C600.5,987.6 614.5,984.8 620.0,987.0 C625.5,989.2 628.3,994.8 623.3,997.0 C618.3,999.2 601.1,1002.0 590.0,1000.3 C578.9,998.6 565.6,993.1 556.7,987.0 C547.8,980.9 544.5,971.5 536.7,963.7 C528.9,955.9 516.1,948.1 510.0,940.3 C503.9,932.5 504.4,927.5 500.0,917.0 C495.6,906.5 486.6,887.0 483.3,877.0 C480.0,867.0 475.6,855.3 480.0,857.0Z" fill="#ead59f"/>
<path d="M713.3,1030.3 C716.1,1027.5 728.4,1041.4 736.7,1050.3 C745.0,1059.2 753.2,1074.8 763.3,1083.7 C773.3,1092.6 787.0,1098.7 797.0,1103.7 C807.0,1108.7 818.9,1108.2 823.3,1113.7 C827.7,1119.2 827.7,1133.7 823.3,1137.0 C818.9,1140.3 805.9,1135.9 797.0,1133.7 C788.1,1131.5 779.0,1129.3 770.0,1123.7 C761.0,1118.1 751.6,1109.8 743.3,1100.3 C735.0,1090.8 725.0,1078.7 720.0,1067.0 C715.0,1055.3 710.5,1033.1 713.3,1030.3Z" fill="#ead59f"/>
<path d="M670.0,1280.3 C678.3,1270.8 702.2,1270.8 710.0,1280.3 C717.8,1289.8 717.8,1316.4 716.7,1337.0 C715.6,1357.6 707.8,1374.2 703.3,1403.7 C698.8,1433.2 701.7,1495.6 690.0,1514.0 C678.3,1532.4 639.4,1526.8 633.3,1514.0 C627.2,1501.2 648.8,1466.5 653.3,1437.0 C657.8,1407.5 657.2,1363.1 660.0,1337.0 C662.8,1310.9 661.7,1289.8 670.0,1280.3Z" fill="#ead59f"/>
<path d="M797.0,1103.7 C802.6,1094.3 813.7,1108.2 823.7,1113.7 C833.7,1119.2 848.7,1127.6 857.0,1137.0 C865.3,1146.4 870.4,1156.4 873.7,1170.3 C877.0,1184.2 877.6,1203.6 877.0,1220.3 C876.4,1237.0 873.6,1253.6 870.3,1270.3 C867.0,1287.0 863.1,1300.8 857.0,1320.3 C850.9,1339.8 841.5,1367.5 833.7,1387.0 C825.9,1406.5 816.4,1425.9 810.3,1437.0 C804.2,1448.1 801.4,1459.2 797.0,1453.7 C792.6,1448.2 784.8,1428.7 783.7,1403.7 C782.6,1378.7 789.2,1342.6 790.3,1303.7 C791.4,1264.8 789.2,1203.6 790.3,1170.3 C791.4,1137.0 791.4,1113.1 797.0,1103.7Z" fill="#ead59f"/>
<path d="M423.1,560.0 C418.6,569.6 415.4,598.5 411.5,617.7 C407.6,636.9 402.6,658.1 400.0,675.4 C397.4,692.7 394.3,706.1 396.2,721.5 C398.1,736.9 405.7,754.2 411.5,767.7 C417.3,781.2 423.8,788.8 430.8,802.3 C437.9,815.8 445.5,833.1 453.8,848.5 C462.1,863.9 471.8,881.8 480.8,894.6 C489.8,907.4 500.6,913.9 507.7,925.4 C514.8,936.9 517.3,951.4 523.1,963.8 C528.9,976.2 529.5,994.0 542.3,1000.0 C555.1,1006.0 594.9,1006.7 600.0,1000.0 C605.1,993.3 581.4,971.8 573.1,960.0 C564.8,948.2 557.7,940.7 550.0,929.2 C542.3,917.7 536.5,903.6 526.9,890.8 C517.3,878.0 502.6,865.8 492.3,852.3 C482.1,838.8 473.1,822.8 465.4,810.0 C457.7,797.2 454.5,786.9 446.2,775.4 C437.9,763.9 421.2,755.5 415.4,740.8 C409.6,726.0 410.9,704.2 411.5,686.9 C412.1,669.6 415.3,655.5 419.2,636.9 C423.1,618.3 431.4,588.2 434.6,575.4 C437.8,562.6 440.4,562.6 438.5,560.0 C436.6,557.4 427.6,550.4 423.1,560.0Z" fill="#ead59f"/>
<path d="M595.0,326.7 C598.7,328.4 607.7,348.9 610.7,356.7 C613.8,364.5 615.4,366.1 613.3,373.3 C611.2,380.5 606.1,391.1 598.3,400.0 C590.5,408.9 574.8,416.7 566.7,426.7 C558.7,436.7 554.5,451.1 550.0,460.0 C545.5,468.9 544.5,473.3 540.0,480.0 C535.5,486.7 531.6,493.3 523.3,500.0 C515.0,506.7 499.4,513.9 490.0,520.0 C480.6,526.1 473.9,530.6 466.7,536.7 C459.5,542.8 452.8,555.6 446.7,556.7 C440.6,557.8 430.6,548.9 430.0,543.3 C429.4,537.7 436.1,529.4 443.3,523.3 C450.5,517.2 463.9,511.7 473.3,506.7 C482.8,501.7 491.7,500.0 500.0,493.3 C508.3,486.6 518.3,475.6 523.3,466.7 C528.3,457.8 526.7,448.9 530.0,440.0 C533.3,431.1 537.8,421.1 543.3,413.3 C548.8,405.5 556.6,400.0 563.3,393.3 C570.0,386.6 579.1,381.1 583.3,373.3 C587.5,365.5 586.3,354.5 588.3,346.7 C590.2,338.9 591.3,325.0 595.0,326.7Z" fill="#cfa256"/>
<path d="M606.7,326.7 C611.1,323.9 623.9,316.7 633.3,310.0 C642.7,303.3 655.0,293.4 663.3,286.7 C671.6,280.0 680.0,272.8 683.3,270.0" fill="none" stroke="#cfa256" stroke-width="8" stroke-linejoin="round" stroke-linecap="round"/>
<path d="M500.0,393.3 C502.5,394.4 510.0,406.1 511.7,413.3 C513.4,420.5 511.7,430.0 510.0,436.7 C508.3,443.4 506.1,446.1 501.7,453.3 C497.2,460.5 489.1,472.2 483.3,480.0 C477.5,487.8 472.2,493.3 466.7,500.0 C461.1,506.7 456.1,513.9 450.0,520.0 C443.9,526.1 434.4,535.6 430.0,536.7 C425.6,537.8 421.1,531.7 423.3,526.7 C425.5,521.7 436.6,514.5 443.3,506.7 C450.0,498.9 457.7,488.9 463.3,480.0 C468.9,471.1 472.2,462.2 476.7,453.3 C481.1,444.4 486.7,434.5 490.0,426.7 C493.3,418.9 495.0,412.3 496.7,406.7 C498.4,401.1 497.5,392.2 500.0,393.3Z" fill="#cfa256"/>
<circle cx="500.0" cy="360.0" r="6" fill="#cfa256"/>
<circle cx="480.0" cy="386.7" r="4" fill="#cfa256"/>
<path d="M423.3,540.0 C428.3,540.6 444.2,551.7 446.7,556.7 C449.2,561.7 441.4,563.9 438.3,570.0 C435.2,576.1 431.1,583.8 428.3,593.3 C425.5,602.8 423.1,616.7 421.7,626.7 C420.3,636.7 421.9,644.4 420.0,653.3 C418.1,662.2 412.8,671.1 410.0,680.0 C407.2,688.9 405.5,698.9 403.3,706.7 C401.1,714.5 399.5,722.3 396.7,726.7 C393.9,731.1 391.1,733.9 386.7,733.3 C382.2,732.7 373.3,728.8 370.0,723.3 C366.7,717.8 365.6,708.3 366.7,700.0 C367.8,691.7 373.4,683.3 376.7,673.3 C380.0,663.3 384.5,651.1 386.7,640.0 C388.9,628.9 387.8,616.7 390.0,606.7 C392.2,596.7 395.6,588.9 400.0,580.0 C404.4,571.1 412.8,560.0 416.7,553.3 C420.6,546.6 418.3,539.4 423.3,540.0Z" fill="#cfa256"/>
<path d="M928.7,390.0 C931.5,386.7 943.7,386.7 947.0,390.0 C950.3,393.3 951.5,406.7 948.7,410.0 C945.9,413.3 933.6,413.3 930.3,410.0 C927.0,406.7 925.9,393.3 928.7,390.0Z" fill="#cfa256"/>
<path d="M370.0,726.7 C366.1,732.2 373.4,750.0 376.7,760.0 C380.0,770.0 386.1,777.8 390.0,786.7 C393.9,795.6 397.2,804.9 400.0,813.3 C402.8,821.7 402.8,827.5 406.7,837.0 C410.6,846.5 417.2,857.0 423.3,870.3 C429.4,883.6 436.1,903.7 443.3,917.0 C450.5,930.3 458.9,937.5 466.7,950.3 C474.5,963.1 482.8,981.5 490.0,993.7 C497.2,1005.9 504.4,1015.4 510.0,1023.7 C515.5,1032.0 516.6,1036.5 523.3,1043.7 C530.0,1050.9 541.1,1062.6 550.0,1067.0 C558.9,1071.4 567.2,1066.4 576.7,1070.3 C586.2,1074.2 597.8,1083.1 606.7,1090.3 C615.6,1097.5 621.7,1107.6 630.0,1113.7 C638.3,1119.8 648.4,1121.5 656.7,1127.0 C665.0,1132.5 675.6,1139.8 680.0,1147.0 C684.4,1154.2 681.6,1160.8 683.3,1170.3 C685.0,1179.8 687.2,1192.6 690.0,1203.7 C692.8,1214.8 697.5,1225.9 700.0,1237.0 C702.5,1248.1 703.3,1259.2 705.0,1270.3 C706.7,1281.4 708.6,1292.6 710.0,1303.7 C711.4,1314.8 710.0,1328.1 713.3,1337.0 C716.6,1345.9 722.8,1354.8 730.0,1357.0 C737.2,1359.2 748.9,1353.6 756.7,1350.3 C764.5,1347.0 770.0,1339.2 776.7,1337.0 C783.4,1334.8 787.0,1337.0 797.0,1337.0 C807.0,1337.0 829.8,1342.5 837.0,1337.0 C844.2,1331.5 839.8,1314.8 840.3,1303.7 C840.8,1292.6 839.2,1281.4 840.3,1270.3 C841.4,1259.2 846.4,1250.9 847.0,1237.0 C847.6,1223.1 846.5,1200.3 843.7,1187.0 C840.9,1173.7 834.8,1165.3 830.3,1157.0 C825.8,1148.7 822.5,1142.0 817.0,1137.0 C811.5,1132.0 803.7,1129.2 797.0,1127.0 C790.3,1124.8 784.5,1127.6 776.7,1123.7 C768.9,1119.8 758.9,1112.6 750.0,1103.7 C741.1,1094.8 730.0,1081.4 723.3,1070.3 C716.6,1059.2 721.1,1047.0 710.0,1037.0 C698.9,1027.0 671.2,1017.5 656.7,1010.3 C642.2,1003.1 634.4,995.9 623.3,993.7 C612.2,991.5 601.1,998.7 590.0,997.0 C578.9,995.3 567.2,988.6 556.7,983.7 C546.2,978.8 535.9,976.6 527.0,967.7 C518.1,958.8 510.4,941.9 503.3,930.3 C496.2,918.7 490.2,907.7 484.7,898.3 C479.1,888.9 474.5,881.4 470.0,873.7 C465.5,866.0 461.6,859.5 457.7,852.3 C453.8,845.1 450.5,838.0 446.7,830.3 C442.9,822.6 438.6,813.0 434.7,806.3 C430.8,799.6 426.5,795.5 423.3,790.3 C420.1,785.1 418.1,782.0 415.3,775.3 C412.5,768.6 409.2,758.3 406.7,750.3 C404.1,742.2 406.1,730.9 400.0,727.0 C393.9,723.1 373.9,721.2 370.0,726.7Z" fill="#cfa256"/>
<path d="M713.3,1330.3 C708.3,1332.5 703.3,1358.1 700.0,1370.3 C696.7,1382.5 695.0,1392.6 693.3,1403.7 C691.6,1414.8 691.7,1425.9 690.0,1437.0 C688.3,1448.1 686.6,1457.5 683.3,1470.3 C680.0,1483.1 673.3,1501.2 670.0,1514.0 C666.7,1526.8 663.3,1536.2 663.3,1547.3 C663.3,1558.4 668.3,1569.6 670.0,1580.7 C671.7,1591.8 671.6,1606.2 673.3,1614.0 C675.0,1621.8 677.2,1627.3 680.0,1627.3 C682.8,1627.3 687.8,1621.8 690.0,1614.0 C692.2,1606.2 692.5,1591.8 693.3,1580.7 C694.1,1569.6 694.4,1558.4 695.0,1547.3 C695.6,1536.2 693.1,1526.8 696.7,1514.0 C700.3,1501.2 712.3,1483.1 716.7,1470.3 C721.1,1457.5 721.6,1448.1 723.3,1437.0 C725.0,1425.9 725.6,1417.0 726.7,1403.7 C727.8,1390.4 732.2,1369.2 730.0,1357.0 C727.8,1344.8 718.3,1328.1 713.3,1330.3Z" fill="#cfa256"/>
<path d="M797.0,1330.3 C805.4,1323.6 831.0,1325.8 837.0,1330.3 C843.0,1334.8 836.7,1347.5 833.3,1357.0 C829.9,1366.5 821.7,1375.9 816.7,1387.0 C811.7,1398.1 808.3,1416.5 803.3,1423.7 C798.3,1430.9 790.6,1433.6 786.7,1430.3 C782.8,1427.0 780.0,1413.7 780.0,1403.7 C780.0,1393.7 783.9,1382.5 786.7,1370.3 C789.5,1358.1 788.6,1337.0 797.0,1330.3Z" fill="#cfa256"/>
<path d="M736.7,1370.3 C740.6,1363.6 757.8,1360.9 763.3,1363.7 C768.8,1366.5 771.1,1379.2 770.0,1387.0 C768.9,1394.8 761.7,1407.5 756.7,1410.3 C751.7,1413.1 743.3,1410.4 740.0,1403.7 C736.7,1397.0 732.8,1377.0 736.7,1370.3Z" fill="#cfa256"/>
<path d="M756.7,1420.3 C760.6,1415.8 772.8,1411.4 776.7,1417.0 C780.6,1422.6 782.2,1444.8 780.0,1453.7 C777.8,1462.6 767.8,1472.0 763.3,1470.3 C758.8,1468.6 754.4,1452.0 753.3,1443.7 C752.2,1435.4 752.8,1424.8 756.7,1420.3Z" fill="#cfa256"/>
<path d="M666.7,1507.3 C671.7,1500.6 688.6,1500.6 693.3,1507.3 C698.0,1514.0 695.5,1535.1 695.0,1547.3 C694.5,1559.5 691.4,1569.6 690.0,1580.7 C688.6,1591.8 688.4,1606.2 686.7,1614.0 C685.0,1621.8 682.2,1627.3 680.0,1627.3 C677.8,1627.3 675.0,1621.8 673.3,1614.0 C671.6,1606.2 671.7,1591.8 670.0,1580.7 C668.3,1569.6 663.8,1559.5 663.3,1547.3 C662.8,1535.1 661.7,1514.0 666.7,1507.3Z" fill="#cfa256"/>
<path d="M750.0,1207.0 C753.9,1202.6 765.0,1200.9 770.0,1203.7 C775.0,1206.5 777.8,1215.9 780.0,1223.7 C782.2,1231.5 785.0,1243.1 783.3,1250.3 C781.6,1257.5 775.0,1266.4 770.0,1267.0 C765.0,1267.6 757.2,1259.8 753.3,1253.7 C749.4,1247.6 747.2,1238.1 746.7,1230.3 C746.2,1222.5 746.1,1211.4 750.0,1207.0Z" fill="#ead59f"/>
<path d="M632.5,1466.3 C636.4,1460.5 649.7,1455.3 652.3,1461.9 C654.9,1468.5 649.4,1491.2 647.9,1505.8 C646.4,1520.4 643.5,1533.3 643.5,1549.8 C643.5,1566.3 649.7,1593.7 647.9,1604.7 C646.1,1615.7 636.5,1622.7 632.5,1615.7 C628.5,1608.8 623.3,1576.2 623.7,1563.0 C624.1,1549.8 633.8,1547.6 634.7,1536.6 C635.6,1525.6 629.6,1508.7 629.2,1497.0 C628.8,1485.3 628.6,1472.1 632.5,1466.3Z" fill="#f5efdc"/>
<circle cx="440.7" cy="876.3" r="6" fill="#a5691b"/>
<circle cx="720.0" cy="1440.3" r="5" fill="#a5691b"/>
<circle cx="716.7" cy="1467.0" r="11" fill="#a5691b"/>
<circle cx="676.7" cy="1545.7" r="8" fill="#a5691b"/>
<circle cx="680.0" cy="1612.3" r="6" fill="#a5691b"/>
<circle cx="440.7" cy="876.3" r="4" fill="#6e4007"/>
<circle cx="716.7" cy="1467.0" r="7" fill="#6e4007"/>
<circle cx="676.7" cy="1545.7" r="4" fill="#6e4007"/>
<path d="M1187.0,398.3 C1192.6,398.0 1212.0,401.9 1223.7,408.3 C1235.4,414.7 1253.1,432.0 1257.0,436.7 C1260.9,441.4 1253.1,439.5 1247.0,436.7 C1240.9,433.9 1229.8,424.4 1220.3,420.0 C1210.8,415.6 1195.8,413.6 1190.3,410.0 C1184.8,406.4 1181.4,398.6 1187.0,398.3Z" fill="#def0ed"/>
<path d="M1133.7,395.0 C1139.8,393.9 1167.6,396.4 1173.7,398.3 C1179.8,400.2 1176.4,405.6 1170.3,406.7 C1164.2,407.8 1143.1,406.9 1137.0,405.0 C1130.9,403.1 1127.6,396.1 1133.7,395.0Z" fill="#def0ed"/>
<path d="M650.0,333.3 C655.5,324.4 663.3,313.4 670.0,306.7 C676.7,300.0 681.1,296.6 690.0,293.3 C698.9,290.0 712.2,287.2 723.3,286.7 C734.4,286.1 744.4,288.9 756.7,290.0 C769.0,291.1 784.7,297.2 797.0,293.3 C809.3,289.4 820.9,269.5 830.3,266.7 C839.7,263.9 847.5,270.6 853.3,276.7 C859.1,282.8 864.4,295.0 865.0,303.3 C865.6,311.6 861.4,321.7 856.7,326.7 C852.0,331.7 842.5,328.9 837.0,333.3 C831.5,337.7 830.4,347.7 823.7,353.3 C817.0,358.9 804.8,361.1 797.0,366.7 C789.2,372.3 782.3,378.9 776.7,386.7 C771.1,394.5 767.8,406.6 763.3,413.3 C758.8,420.0 758.9,422.2 750.0,426.7 C741.1,431.1 722.8,436.1 710.0,440.0 C697.2,443.9 685.0,447.8 673.3,450.0 C661.6,452.2 648.3,448.9 640.0,453.3 C631.7,457.8 631.6,470.0 623.3,476.7 C615.0,483.4 601.1,488.3 590.0,493.3 C578.9,498.3 564.5,505.6 556.7,506.7 C548.9,507.8 544.4,505.6 543.3,500.0 C542.2,494.4 546.1,482.2 550.0,473.3 C553.9,464.4 560.0,455.6 566.7,446.7 C573.4,437.8 582.8,427.8 590.0,420.0 C597.2,412.2 604.5,406.7 610.0,400.0 C615.5,393.3 618.8,386.7 623.3,380.0 C627.8,373.3 632.2,367.8 636.7,360.0 C641.2,352.2 644.5,342.2 650.0,333.3Z" fill="#58b0a7" stroke="#58b0a7" stroke-width="14" stroke-linejoin="round"/>
<path d="M650.0,333.3 C655.5,324.4 663.3,313.4 670.0,306.7 C676.7,300.0 681.1,296.6 690.0,293.3 C698.9,290.0 712.2,287.2 723.3,286.7 C734.4,286.1 744.4,288.9 756.7,290.0 C769.0,291.1 784.7,297.2 797.0,293.3 C809.3,289.4 820.9,269.5 830.3,266.7 C839.7,263.9 847.5,270.6 853.3,276.7 C859.1,282.8 864.4,295.0 865.0,303.3 C865.6,311.6 861.4,321.7 856.7,326.7 C852.0,331.7 842.5,328.9 837.0,333.3 C831.5,337.7 830.4,347.7 823.7,353.3 C817.0,358.9 804.8,361.1 797.0,366.7 C789.2,372.3 782.3,378.9 776.7,386.7 C771.1,394.5 767.8,406.6 763.3,413.3 C758.8,420.0 758.9,422.2 750.0,426.7 C741.1,431.1 722.8,436.1 710.0,440.0 C697.2,443.9 685.0,447.8 673.3,450.0 C661.6,452.2 648.3,448.9 640.0,453.3 C631.7,457.8 631.6,470.0 623.3,476.7 C615.0,483.4 601.1,488.3 590.0,493.3 C578.9,498.3 564.5,505.6 556.7,506.7 C548.9,507.8 544.4,505.6 543.3,500.0 C542.2,494.4 546.1,482.2 550.0,473.3 C553.9,464.4 560.0,455.6 566.7,446.7 C573.4,437.8 582.8,427.8 590.0,420.0 C597.2,412.2 604.5,406.7 610.0,400.0 C615.5,393.3 618.8,386.7 623.3,380.0 C627.8,373.3 632.2,367.8 636.7,360.0 C641.2,352.2 644.5,342.2 650.0,333.3Z" fill="#58b0a7"/>
<path d="M503.3,246.7 C507.2,242.8 516.6,237.3 523.3,236.7 C530.0,236.1 534.4,241.1 543.3,243.3 C552.2,245.5 570.3,245.0 576.7,250.0 C583.1,255.0 582.3,265.0 581.7,273.3 C581.1,281.6 576.4,293.3 573.3,300.0 C570.2,306.7 569.4,311.6 563.3,313.3 C557.2,315.0 545.6,309.4 536.7,310.0 C527.8,310.6 517.8,315.0 510.0,316.7 C502.2,318.4 495.6,321.7 490.0,320.0 C484.4,318.3 477.8,312.2 476.7,306.7 C475.6,301.1 480.0,291.7 483.3,286.7 C486.6,281.7 493.9,281.1 496.7,276.7 C499.5,272.2 498.9,265.0 500.0,260.0 C501.1,255.0 499.4,250.6 503.3,246.7Z" fill="#58b0a7" stroke="#58b0a7" stroke-width="10" stroke-linejoin="round"/>
<path d="M503.3,246.7 C507.2,242.8 516.6,237.3 523.3,236.7 C530.0,236.1 534.4,241.1 543.3,243.3 C552.2,245.5 570.3,245.0 576.7,250.0 C583.1,255.0 582.3,265.0 581.7,273.3 C581.1,281.6 576.4,293.3 573.3,300.0 C570.2,306.7 569.4,311.6 563.3,313.3 C557.2,315.0 545.6,309.4 536.7,310.0 C527.8,310.6 517.8,315.0 510.0,316.7 C502.2,318.4 495.6,321.7 490.0,320.0 C484.4,318.3 477.8,312.2 476.7,306.7 C475.6,301.1 480.0,291.7 483.3,286.7 C486.6,281.7 493.9,281.1 496.7,276.7 C499.5,272.2 498.9,265.0 500.0,260.0 C501.1,255.0 499.4,250.6 503.3,246.7Z" fill="#58b0a7"/>
<path d="M590.0,226.7 C593.9,222.2 605.0,218.3 610.0,220.0 C615.0,221.7 618.3,230.0 620.0,236.7 C621.7,243.4 622.2,252.8 620.0,260.0 C617.8,267.2 611.7,275.6 606.7,280.0 C601.7,284.4 594.5,288.4 590.0,286.7 C585.5,285.0 580.5,276.7 580.0,270.0 C579.5,263.3 585.0,253.9 586.7,246.7 C588.4,239.5 586.1,231.1 590.0,226.7Z" fill="#58b0a7"/>
<path d="M583.3,216.7 C587.2,213.9 598.9,204.4 606.7,200.0 C614.5,195.6 626.1,191.7 630.0,190.0" fill="none" stroke="#58b0a7" stroke-width="6" stroke-linejoin="round" stroke-linecap="round"/>
<path d="M636.7,223.3 C640.9,218.9 655.5,217.8 663.3,216.7 C671.1,215.6 682.2,213.4 683.3,216.7 C684.4,220.0 675.5,231.7 670.0,236.7 C664.5,241.7 655.3,245.6 650.0,246.7 C644.7,247.8 640.5,247.2 638.3,243.3 C636.1,239.4 632.5,227.7 636.7,223.3Z" fill="#58b0a7"/>
<path d="M536.7,346.7 C540.6,344.5 550.0,348.9 553.3,353.3 C556.6,357.7 558.4,366.6 556.7,373.3 C555.0,380.0 547.8,390.5 543.3,393.3 C538.8,396.1 532.2,394.4 530.0,390.0 C527.8,385.6 528.9,373.9 530.0,366.7 C531.1,359.5 532.8,348.9 536.7,346.7Z" fill="#58b0a7"/>
<path d="M446.7,720.0 C448.4,712.2 459.5,706.2 466.7,706.7 C473.9,707.2 482.8,717.8 490.0,723.3 C497.2,728.8 504.4,732.8 510.0,740.0 C515.5,747.2 521.6,757.8 523.3,766.7 C525.0,775.6 522.8,786.1 520.0,793.3 C517.2,800.5 511.7,810.0 506.7,810.0 C501.7,810.0 495.6,800.0 490.0,793.3 C484.4,786.6 478.9,776.7 473.3,770.0 C467.8,763.3 461.1,761.6 456.7,753.3 C452.3,745.0 445.0,727.8 446.7,720.0Z" fill="#58b0a7"/>
<path d="M967.0,450.0 C970.1,444.4 980.1,441.6 983.7,443.3 C987.3,445.0 988.7,451.7 988.7,460.0 C988.7,468.3 986.8,487.2 983.7,493.3 C980.6,499.4 973.4,499.5 970.3,496.7 C967.2,493.9 965.8,484.5 965.3,476.7 C964.8,468.9 963.9,455.6 967.0,450.0Z" fill="#58b0a7"/>
<path d="M840.3,351.7 C842.0,349.2 849.8,346.4 853.7,346.7 C857.6,347.0 863.2,350.5 863.7,353.3 C864.2,356.1 860.3,361.9 857.0,363.3 C853.7,364.7 846.5,363.6 843.7,361.7 C840.9,359.8 838.6,354.2 840.3,351.7Z" fill="#58b0a7"/>
<path d="M1536.7,826.7 C1539.5,821.7 1550.0,816.2 1556.7,816.7 C1563.4,817.2 1570.0,827.2 1576.7,830.0 C1583.4,832.8 1592.3,830.5 1596.7,833.3 C1601.1,836.1 1605.5,841.1 1603.3,846.7 C1601.1,852.3 1590.0,862.3 1583.3,866.7 C1576.6,871.1 1568.8,868.9 1563.3,873.3 C1557.8,877.7 1553.3,893.3 1550.0,893.3 C1546.7,893.3 1545.0,881.1 1543.3,873.3 C1541.6,865.5 1541.1,854.5 1540.0,846.7 C1538.9,838.9 1533.9,831.7 1536.7,826.7Z" fill="#58b0a7"/>
<path d="M1550.0,873.3 C1555.5,868.8 1575.5,872.8 1583.3,870.0 C1591.1,867.2 1591.1,856.7 1596.7,856.7 C1602.3,856.7 1615.6,865.0 1616.7,870.0 C1617.8,875.0 1611.1,881.7 1603.3,886.7 C1595.5,891.7 1578.9,898.3 1570.0,900.0 C1561.1,901.7 1553.3,901.2 1550.0,896.7 C1546.7,892.2 1544.5,877.8 1550.0,873.3Z" fill="#58b0a7"/>
<path d="M1643.3,853.3 C1647.2,848.3 1662.2,840.0 1670.0,840.0 C1677.8,840.0 1687.2,847.8 1690.0,853.3 C1692.8,858.8 1691.2,871.1 1686.7,873.3 C1682.2,875.5 1670.0,867.2 1663.3,866.7 C1656.6,866.2 1650.0,872.2 1646.7,870.0 C1643.4,867.8 1639.4,858.3 1643.3,853.3Z" fill="#58b0a7"/>
<path d="M1666.7,880.0 C1671.2,874.4 1685.0,871.1 1690.0,873.3 C1695.0,875.5 1697.8,884.4 1696.7,893.3 C1695.6,902.2 1687.8,920.0 1683.3,926.7 C1678.8,933.4 1673.3,936.6 1670.0,933.3 C1666.7,930.0 1663.8,915.6 1663.3,906.7 C1662.8,897.8 1662.2,885.6 1666.7,880.0Z" fill="#58b0a7"/>
<path d="M1693.3,866.7 C1697.7,863.9 1712.7,868.9 1723.3,870.0 C1733.9,871.1 1748.9,870.5 1756.7,873.3 C1764.5,876.1 1771.7,880.3 1770.0,886.7 C1768.3,893.1 1753.7,904.8 1746.7,911.7 C1739.8,918.6 1734.4,923.6 1728.3,928.3 C1722.2,933.0 1715.8,938.6 1710.0,940.0 C1704.2,941.4 1695.0,942.2 1693.3,936.7 C1691.6,931.2 1699.4,915.0 1700.0,906.7 C1700.6,898.4 1697.8,893.4 1696.7,886.7 C1695.6,880.0 1688.9,869.5 1693.3,866.7Z" fill="#58b0a7"/>
<path d="M1680.0,733.3 C1680.6,727.8 1690.0,720.5 1696.7,720.0 C1703.4,719.5 1711.1,726.7 1720.0,730.0 C1728.9,733.3 1745.5,734.5 1750.0,740.0 C1754.5,745.5 1748.9,755.5 1746.7,763.3 C1744.5,771.1 1741.7,783.4 1736.7,786.7 C1731.7,790.0 1721.7,786.6 1716.7,783.3 C1711.7,780.0 1710.6,771.7 1706.7,766.7 C1702.8,761.7 1697.8,758.9 1693.3,753.3 C1688.8,747.7 1679.4,738.8 1680.0,733.3Z" fill="#58b0a7" stroke="#58b0a7" stroke-width="14" stroke-linejoin="round"/>
<path d="M1680.0,733.3 C1680.6,727.8 1690.0,720.5 1696.7,720.0 C1703.4,719.5 1711.1,726.7 1720.0,730.0 C1728.9,733.3 1745.5,734.5 1750.0,740.0 C1754.5,745.5 1748.9,755.5 1746.7,763.3 C1744.5,771.1 1741.7,783.4 1736.7,786.7 C1731.7,790.0 1721.7,786.6 1716.7,783.3 C1711.7,780.0 1710.6,771.7 1706.7,766.7 C1702.8,761.7 1697.8,758.9 1693.3,753.3 C1688.8,747.7 1679.4,738.8 1680.0,733.3Z" fill="#58b0a7"/>
<path d="M1750.0,740.0 C1756.1,735.6 1775.5,738.9 1783.3,746.7 C1791.1,754.5 1796.7,780.0 1796.7,786.7 C1796.7,793.4 1788.9,787.8 1783.3,786.7 C1777.7,785.6 1769.4,782.2 1763.3,780.0 C1757.2,777.8 1748.9,780.0 1746.7,773.3 C1744.5,766.6 1743.9,744.4 1750.0,740.0Z" fill="#58b0a7"/>
<path d="M1786.7,790.0 C1789.6,788.8 1799.0,804.4 1800.7,812.7 C1802.4,821.0 1799.6,832.7 1796.7,840.0 C1793.8,847.3 1785.5,860.0 1783.3,856.7 C1781.1,853.4 1782.7,831.1 1783.3,820.0 C1783.9,808.9 1783.8,791.2 1786.7,790.0Z" fill="#58b0a7"/>
<path d="M1646.7,736.7 C1648.9,732.3 1663.9,726.2 1670.0,726.7 C1676.1,727.2 1682.2,735.6 1683.3,740.0 C1684.4,744.4 1681.1,751.1 1676.7,753.3 C1672.3,755.5 1661.7,756.1 1656.7,753.3 C1651.7,750.5 1644.5,741.1 1646.7,736.7Z" fill="#58b0a7"/>
<circle cx="1501.7" cy="868.3" r="14" fill="#58b0a7"/>
<path d="M1596.7,1140.0 C1598.9,1132.2 1606.6,1121.7 1613.3,1120.0 C1620.0,1118.3 1631.7,1124.5 1636.7,1130.0 C1641.7,1135.5 1644.4,1146.1 1643.3,1153.3 C1642.2,1160.5 1635.5,1168.8 1630.0,1173.3 C1624.5,1177.8 1615.0,1181.1 1610.0,1180.0 C1605.0,1178.9 1602.2,1173.4 1600.0,1166.7 C1597.8,1160.0 1594.5,1147.8 1596.7,1140.0Z" fill="#58b0a7"/>
<path d="M1590.0,1186.7 C1591.1,1181.1 1600.5,1171.1 1603.3,1173.3 C1606.1,1175.5 1607.8,1194.4 1606.7,1200.0 C1605.6,1205.6 1599.5,1208.9 1596.7,1206.7 C1593.9,1204.5 1588.9,1192.3 1590.0,1186.7Z" fill="#58b0a7"/>
<path d="M1537.3,836.7 C1533.4,833.1 1548.4,819.4 1554.0,818.3 C1559.6,817.2 1566.8,826.4 1570.7,830.0 C1574.6,833.6 1582.9,838.9 1577.3,840.0 C1571.7,841.1 1541.2,840.3 1537.3,836.7Z" fill="#58b0a7"/>
<circle cx="776.7" cy="1492.0" r="10" fill="#58b0a7"/>
<path d="M640.0,960.3 C642.2,957.0 655.0,955.3 663.3,957.0 C671.6,958.7 682.2,966.4 690.0,970.3 C697.8,974.2 707.8,976.4 710.0,980.3 C712.2,984.2 708.8,992.0 703.3,993.7 C697.8,995.4 685.6,993.1 676.7,990.3 C667.8,987.5 656.1,982.0 650.0,977.0 C643.9,972.0 637.8,963.6 640.0,960.3Z" fill="#58b0a7"/>
<path d="M797.0,1003.7 C803.7,1002.6 810.3,1007.0 817.0,1010.3 C823.7,1013.6 829.2,1017.0 837.0,1023.7 C844.8,1030.4 857.0,1041.4 863.7,1050.3 C870.4,1059.2 875.9,1067.0 877.0,1077.0 C878.1,1087.0 873.6,1102.5 870.3,1110.3 C867.0,1118.1 863.7,1123.1 857.0,1123.7 C850.3,1124.3 838.1,1118.2 830.3,1113.7 C822.5,1109.2 815.8,1100.9 810.3,1097.0 C804.8,1093.1 802.5,1094.8 797.0,1090.3 C791.5,1085.8 782.5,1078.1 777.0,1070.3 C771.5,1062.5 763.7,1052.6 763.7,1043.7 C763.7,1034.8 771.5,1023.7 777.0,1017.0 C782.5,1010.3 790.3,1004.8 797.0,1003.7Z" fill="#58b0a7"/>
<path d="M743.3,1017.0 C745.5,1010.9 760.5,1012.6 770.0,1013.7 C779.5,1014.8 795.0,1014.3 800.0,1023.7 C805.0,1033.1 803.9,1063.1 800.0,1070.3 C796.1,1077.5 783.9,1070.3 776.7,1067.0 C769.5,1063.7 762.3,1058.6 756.7,1050.3 C751.1,1042.0 741.1,1023.1 743.3,1017.0Z" fill="#58b0a7"/>
<path d="M1023.7,1100.3 C1027.0,1097.5 1039.2,1098.1 1047.0,1097.0 C1054.8,1095.9 1063.1,1092.6 1070.3,1093.7 C1077.5,1094.8 1085.8,1098.7 1090.3,1103.7 C1094.8,1108.7 1097.5,1117.6 1097.0,1123.7 C1096.5,1129.8 1090.9,1136.4 1087.0,1140.3 C1083.1,1144.2 1078.7,1147.5 1073.7,1147.0 C1068.7,1146.5 1063.1,1139.8 1057.0,1137.0 C1050.9,1134.2 1042.0,1134.2 1037.0,1130.3 C1032.0,1126.4 1029.2,1118.7 1027.0,1113.7 C1024.8,1108.7 1020.4,1103.1 1023.7,1100.3Z" fill="#58b0a7"/>
<path d="M1113.7,1110.3 C1115.4,1106.4 1125.3,1102.0 1130.3,1103.7 C1135.3,1105.4 1142.6,1115.9 1143.7,1120.3 C1144.8,1124.7 1140.9,1129.2 1137.0,1130.3 C1133.1,1131.4 1124.2,1130.3 1120.3,1127.0 C1116.4,1123.7 1112.0,1114.2 1113.7,1110.3Z" fill="#58b0a7"/>
<path d="M1077.0,1157.0 C1079.2,1151.5 1089.2,1140.9 1097.0,1137.0 C1104.8,1133.1 1117.0,1131.5 1123.7,1133.7 C1130.4,1135.9 1135.9,1143.6 1137.0,1150.3 C1138.1,1157.0 1134.2,1167.0 1130.3,1173.7 C1126.4,1180.4 1119.2,1188.6 1113.7,1190.3 C1108.2,1192.0 1102.0,1187.0 1097.0,1183.7 C1092.0,1180.4 1087.0,1174.8 1083.7,1170.3 C1080.4,1165.8 1074.8,1162.5 1077.0,1157.0Z" fill="#58b0a7"/>
<path d="M943.7,1220.3 C945.9,1214.2 954.8,1210.3 963.7,1207.0 C972.6,1203.7 985.9,1201.4 997.0,1200.3 C1008.1,1199.2 1020.8,1198.1 1030.3,1200.3 C1039.8,1202.5 1048.1,1204.2 1053.7,1213.7 C1059.3,1223.2 1062.6,1245.3 1063.7,1257.0 C1064.8,1268.7 1057.0,1275.9 1060.3,1283.7 C1063.6,1291.5 1079.2,1295.9 1083.7,1303.7 C1088.2,1311.5 1089.2,1324.8 1087.0,1330.3 C1084.8,1335.8 1076.4,1338.7 1070.3,1337.0 C1064.2,1335.3 1057.0,1324.2 1050.3,1320.3 C1043.6,1316.4 1038.1,1317.6 1030.3,1313.7 C1022.5,1309.8 1011.5,1304.2 1003.7,1297.0 C995.9,1289.8 990.4,1275.8 983.7,1270.3 C977.0,1264.8 970.4,1264.2 963.7,1263.7 C957.0,1263.2 945.9,1270.3 943.7,1267.0 C941.5,1263.7 950.3,1251.5 950.3,1243.7 C950.3,1235.9 941.5,1226.4 943.7,1220.3Z" fill="#58b0a7"/>
<path d="M880.3,1337.0 C881.4,1329.8 890.3,1323.6 897.0,1320.3 C903.7,1317.0 913.6,1313.1 920.3,1317.0 C927.0,1320.9 934.8,1334.8 937.0,1343.7 C939.2,1352.6 938.7,1364.8 933.7,1370.3 C928.7,1375.8 914.2,1378.1 907.0,1377.0 C899.8,1375.9 894.8,1370.4 890.3,1363.7 C885.8,1357.0 879.2,1344.2 880.3,1337.0Z" fill="#58b0a7"/>
<path d="M857.0,1410.3 C860.3,1403.6 869.8,1398.1 877.0,1397.0 C884.2,1395.9 895.3,1397.0 900.3,1403.7 C905.3,1410.4 907.5,1427.6 907.0,1437.0 C906.5,1446.4 903.1,1457.0 897.0,1460.3 C890.9,1463.6 877.0,1460.9 870.3,1457.0 C863.6,1453.1 859.2,1444.8 857.0,1437.0 C854.8,1429.2 853.7,1417.0 857.0,1410.3Z" fill="#58b0a7"/>
<path d="M823.7,1490.3 C827.0,1484.1 835.9,1478.7 843.7,1477.0 C851.5,1475.3 864.5,1475.8 870.3,1480.3 C876.1,1484.8 879.8,1496.5 878.7,1503.7 C877.6,1510.9 870.7,1519.3 863.7,1523.7 C856.8,1528.1 843.7,1531.9 837.0,1530.3 C830.3,1528.7 825.9,1520.7 823.7,1514.0 C821.5,1507.3 820.4,1496.5 823.7,1490.3Z" fill="#58b0a7"/>
<path d="M913.7,1160.3 C914.8,1157.8 925.9,1157.0 930.3,1158.7 C934.7,1160.4 941.4,1167.8 940.3,1170.3 C939.2,1172.8 928.1,1175.4 923.7,1173.7 C919.3,1172.0 912.6,1162.8 913.7,1160.3Z" fill="#58b0a7"/>
<path d="M953.7,1187.0 C955.9,1185.3 966.4,1185.3 970.3,1187.0 C974.2,1188.7 979.2,1195.3 977.0,1197.0 C974.8,1198.7 960.9,1198.7 957.0,1197.0 C953.1,1195.3 951.5,1188.7 953.7,1187.0Z" fill="#58b0a7"/>
<path d="M913.7,990.3 C915.4,987.5 924.2,985.3 927.0,987.0 C929.8,988.7 932.0,997.5 930.3,1000.3 C928.6,1003.1 919.8,1005.4 917.0,1003.7 C914.2,1002.0 912.0,993.1 913.7,990.3Z" fill="#58b0a7"/>
<path d="M1200.3,1267.0 C1202.5,1257.0 1209.8,1249.2 1217.0,1243.7 C1224.2,1238.2 1234.8,1235.9 1243.7,1233.7 C1252.6,1231.5 1261.4,1228.1 1270.3,1230.3 C1279.2,1232.5 1291.4,1239.2 1297.0,1247.0 C1302.6,1254.8 1304.2,1268.1 1303.7,1277.0 C1303.2,1285.9 1300.4,1295.8 1293.7,1300.3 C1287.0,1304.8 1274.3,1303.7 1263.7,1303.7 C1253.1,1303.7 1240.3,1300.3 1230.3,1300.3 C1220.3,1300.3 1208.7,1309.2 1203.7,1303.7 C1198.7,1298.2 1198.1,1277.0 1200.3,1267.0Z" fill="#58b0a7"/>
<circle cx="1277.0" cy="1065.3" r="13" fill="#58b0a7"/>
<path d="M790.0,1507.3 C801.1,1503.4 851.6,1502.8 863.3,1507.3 C875.0,1511.8 863.9,1527.3 860.0,1534.0 C856.1,1540.7 847.2,1545.6 840.0,1547.3 C832.8,1549.0 823.9,1546.8 816.7,1544.0 C809.5,1541.2 801.2,1536.8 796.7,1530.7 C792.2,1524.6 778.9,1511.2 790.0,1507.3Z" fill="#58b0a7"/>
<path d="M788.7,416.7 C790.9,411.1 797.2,408.9 800.3,410.0 C803.3,411.1 806.4,417.8 807.0,423.3 C807.6,428.9 805.7,438.3 803.7,443.3 C801.8,448.3 798.1,453.3 795.3,453.3 C792.5,453.3 788.1,449.4 787.0,443.3 C785.9,437.2 786.5,422.2 788.7,416.7Z" fill="#58b0a7" stroke="#58b0a7" stroke-width="8" stroke-linejoin="round"/>
<path d="M788.7,416.7 C790.9,411.1 797.2,408.9 800.3,410.0 C803.3,411.1 806.4,417.8 807.0,423.3 C807.6,428.9 805.7,438.3 803.7,443.3 C801.8,448.3 798.1,453.3 795.3,453.3 C792.5,453.3 788.1,449.4 787.0,443.3 C785.9,437.2 786.5,422.2 788.7,416.7Z" fill="#58b0a7"/>
<path d="M650.0,333.3 C655.5,324.4 663.3,313.4 670.0,306.7 C676.7,300.0 681.1,296.6 690.0,293.3 C698.9,290.0 712.2,287.2 723.3,286.7 C734.4,286.1 744.4,288.9 756.7,290.0 C769.0,291.1 784.7,297.2 797.0,293.3 C809.3,289.4 820.9,269.5 830.3,266.7 C839.7,263.9 847.5,270.6 853.3,276.7 C859.1,282.8 864.4,295.0 865.0,303.3 C865.6,311.6 861.4,321.7 856.7,326.7 C852.0,331.7 842.5,328.9 837.0,333.3 C831.5,337.7 830.4,347.7 823.7,353.3 C817.0,358.9 804.8,361.1 797.0,366.7 C789.2,372.3 782.3,378.9 776.7,386.7 C771.1,394.5 767.8,406.6 763.3,413.3 C758.8,420.0 758.9,422.2 750.0,426.7 C741.1,431.1 722.8,436.1 710.0,440.0 C697.2,443.9 685.0,447.8 673.3,450.0 C661.6,452.2 648.3,448.9 640.0,453.3 C631.7,457.8 631.6,470.0 623.3,476.7 C615.0,483.4 601.1,488.3 590.0,493.3 C578.9,498.3 564.5,505.6 556.7,506.7 C548.9,507.8 544.4,505.6 543.3,500.0 C542.2,494.4 546.1,482.2 550.0,473.3 C553.9,464.4 560.0,455.6 566.7,446.7 C573.4,437.8 582.8,427.8 590.0,420.0 C597.2,412.2 604.5,406.7 610.0,400.0 C615.5,393.3 618.8,386.7 623.3,380.0 C627.8,373.3 632.2,367.8 636.7,360.0 C641.2,352.2 644.5,342.2 650.0,333.3Z" fill="#1a7e76"/>
<path d="M503.3,246.7 C507.2,242.8 516.6,237.3 523.3,236.7 C530.0,236.1 534.4,241.1 543.3,243.3 C552.2,245.5 570.3,245.0 576.7,250.0 C583.1,255.0 582.3,265.0 581.7,273.3 C581.1,281.6 576.4,293.3 573.3,300.0 C570.2,306.7 569.4,311.6 563.3,313.3 C557.2,315.0 545.6,309.4 536.7,310.0 C527.8,310.6 517.8,315.0 510.0,316.7 C502.2,318.4 495.6,321.7 490.0,320.0 C484.4,318.3 477.8,312.2 476.7,306.7 C475.6,301.1 480.0,291.7 483.3,286.7 C486.6,281.7 493.9,281.1 496.7,276.7 C499.5,272.2 498.9,265.0 500.0,260.0 C501.1,255.0 499.4,250.6 503.3,246.7Z" fill="#1a7e76"/>
<circle cx="595.0" cy="266.7" r="8" fill="#1a7e76"/>
<circle cx="475.0" cy="753.3" r="13" fill="#1a7e76"/>
<circle cx="979.7" cy="452.7" r="5" fill="#1a7e76"/>
<circle cx="853.7" cy="355.0" r="4" fill="#1a7e76"/>
<path d="M1696.7,873.3 C1700.6,870.5 1717.8,870.0 1723.3,873.3 C1728.8,876.6 1731.1,888.8 1730.0,893.3 C1728.9,897.8 1721.7,900.5 1716.7,900.0 C1711.7,899.5 1703.3,894.5 1700.0,890.0 C1696.7,885.5 1692.8,876.1 1696.7,873.3Z" fill="#1a7e76"/>
<path d="M1680.0,733.3 C1680.6,727.8 1690.0,720.5 1696.7,720.0 C1703.4,719.5 1711.1,726.7 1720.0,730.0 C1728.9,733.3 1745.5,734.5 1750.0,740.0 C1754.5,745.5 1748.9,755.5 1746.7,763.3 C1744.5,771.1 1741.7,783.4 1736.7,786.7 C1731.7,790.0 1721.7,786.6 1716.7,783.3 C1711.7,780.0 1710.6,771.7 1706.7,766.7 C1702.8,761.7 1697.8,758.9 1693.3,753.3 C1688.8,747.7 1679.4,738.8 1680.0,733.3Z" fill="#1a7e76"/>
<circle cx="1501.7" cy="868.3" r="10" fill="#1a7e76"/>
<path d="M1616.7,1126.7 C1618.4,1123.4 1627.2,1127.2 1630.0,1130.0 C1632.8,1132.8 1635.0,1140.0 1633.3,1143.3 C1631.6,1146.6 1622.8,1152.8 1620.0,1150.0 C1617.2,1147.2 1615.0,1130.0 1616.7,1126.7Z" fill="#1a7e76"/>
<circle cx="776.7" cy="1492.0" r="6" fill="#1a7e76"/>
<path d="M800.3,1057.0 C804.7,1056.4 814.2,1057.0 820.3,1060.3 C826.4,1063.6 834.8,1070.3 837.0,1077.0 C839.2,1083.7 837.0,1095.3 833.7,1100.3 C830.4,1105.3 822.0,1108.1 817.0,1107.0 C812.0,1105.9 808.2,1098.7 803.7,1093.7 C799.2,1088.7 792.0,1082.0 790.3,1077.0 C788.6,1072.0 792.0,1067.0 793.7,1063.7 C795.4,1060.4 795.9,1057.6 800.3,1057.0Z" fill="#1a7e76"/>
<path d="M770.0,1047.0 C771.7,1044.2 785.0,1044.8 790.0,1045.3 C795.0,1045.8 798.3,1047.2 800.0,1050.3 C801.7,1053.4 803.3,1061.8 800.0,1063.7 C796.7,1065.7 785.0,1064.8 780.0,1062.0 C775.0,1059.2 768.3,1049.8 770.0,1047.0Z" fill="#1a7e76"/>
<path d="M1243.7,1267.0 C1246.5,1260.3 1257.0,1254.2 1263.7,1253.7 C1270.4,1253.2 1279.8,1258.2 1283.7,1263.7 C1287.6,1269.2 1289.2,1280.9 1287.0,1287.0 C1284.8,1293.1 1277.0,1299.2 1270.3,1300.3 C1263.6,1301.4 1251.4,1299.2 1247.0,1293.7 C1242.6,1288.2 1240.9,1273.7 1243.7,1267.0Z" fill="#1a7e76"/>
<circle cx="1277.0" cy="1065.3" r="7" fill="#1a7e76"/>
<circle cx="835.0" cy="1518.0" r="6" fill="#1a7e76"/>
<circle cx="566.7" cy="2145.7" r="6" fill="#1a7e76"/>
<path d="M788.7,416.7 C790.9,411.1 797.2,408.9 800.3,410.0 C803.3,411.1 806.4,417.8 807.0,423.3 C807.6,428.9 805.7,438.3 803.7,443.3 C801.8,448.3 798.1,453.3 795.3,453.3 C792.5,453.3 788.1,449.4 787.0,443.3 C785.9,437.2 786.5,422.2 788.7,416.7Z" fill="#1a7e76"/>
<path d="M683.3,306.7 C690.0,300.9 700.5,293.9 710.0,291.7 C719.5,289.5 731.7,290.8 740.0,293.3 C748.3,295.8 754.5,301.1 760.0,306.7 C765.5,312.3 770.2,320.6 773.3,326.7 C776.3,332.8 778.6,336.1 778.3,343.3 C778.0,350.5 774.5,362.8 771.7,370.0 C768.9,377.2 767.5,380.6 761.7,386.7 C755.9,392.8 746.4,403.4 736.7,406.7 C727.0,410.0 711.6,408.9 703.3,406.7 C695.0,404.5 690.6,401.1 686.7,393.3 C682.8,385.5 682.8,371.1 680.0,360.0 C677.2,348.9 669.5,335.6 670.0,326.7 C670.5,317.8 676.6,312.5 683.3,306.7Z" fill="#005046" stroke="#005046" stroke-width="10" stroke-linejoin="round"/>
<path d="M683.3,306.7 C690.0,300.9 700.5,293.9 710.0,291.7 C719.5,289.5 731.7,290.8 740.0,293.3 C748.3,295.8 754.5,301.1 760.0,306.7 C765.5,312.3 770.2,320.6 773.3,326.7 C776.3,332.8 778.6,336.1 778.3,343.3 C778.0,350.5 774.5,362.8 771.7,370.0 C768.9,377.2 767.5,380.6 761.7,386.7 C755.9,392.8 746.4,403.4 736.7,406.7 C727.0,410.0 711.6,408.9 703.3,406.7 C695.0,404.5 690.6,401.1 686.7,393.3 C682.8,385.5 682.8,371.1 680.0,360.0 C677.2,348.9 669.5,335.6 670.0,326.7 C670.5,317.8 676.6,312.5 683.3,306.7Z" fill="#005046"/>
<path d="M613.3,416.7 C618.6,416.7 621.1,421.7 621.7,426.7 C622.3,431.7 620.3,441.1 616.7,446.7 C613.1,452.2 606.1,458.3 600.0,460.0 C593.9,461.7 583.9,459.5 580.0,456.7 C576.1,453.9 575.0,448.3 576.7,443.3 C578.4,438.3 583.9,431.1 590.0,426.7 C596.1,422.3 608.0,416.7 613.3,416.7Z" fill="#005046"/>
<path d="M533.3,260.0 C536.6,256.1 543.3,253.9 550.0,253.3 C556.7,252.8 568.8,252.8 573.3,256.7 C577.8,260.6 577.8,269.5 576.7,276.7 C575.6,283.9 571.2,295.6 566.7,300.0 C562.2,304.4 555.0,304.4 550.0,303.3 C545.0,302.2 540.0,297.7 536.7,293.3 C533.4,288.9 530.6,282.2 530.0,276.7 C529.4,271.1 530.0,263.9 533.3,260.0Z" fill="#005046" stroke="#005046" stroke-width="8" stroke-linejoin="round"/>
<path d="M533.3,260.0 C536.6,256.1 543.3,253.9 550.0,253.3 C556.7,252.8 568.8,252.8 573.3,256.7 C577.8,260.6 577.8,269.5 576.7,276.7 C575.6,283.9 571.2,295.6 566.7,300.0 C562.2,304.4 555.0,304.4 550.0,303.3 C545.0,302.2 540.0,297.7 536.7,293.3 C533.4,288.9 530.6,282.2 530.0,276.7 C529.4,271.1 530.0,263.9 533.3,260.0Z" fill="#005046"/>
<path d="M1720.0,780.0 C1721.9,778.9 1731.3,780.0 1733.3,781.7 C1735.2,783.4 1733.6,788.9 1731.7,790.0 C1729.8,791.1 1723.7,790.0 1721.7,788.3 C1719.8,786.6 1718.1,781.1 1720.0,780.0Z" fill="#005046"/>
<circle cx="1501.7" cy="868.3" r="6" fill="#005046"/>
<circle cx="776.7" cy="1492.0" r="3" fill="#005046"/>
<circle cx="1270.3" cy="1287.0" r="5" fill="#005046"/>
<path d="M753.0,284.7 C757.9,277.3 785.0,282.7 797.3,281.7 C809.6,280.7 820.0,277.2 827.0,278.7 C834.0,280.2 837.0,283.8 839.0,290.7 C841.0,297.6 842.0,317.4 839.0,320.3 C836.0,323.2 828.0,308.3 821.0,308.3 C814.0,308.3 804.2,315.4 797.3,320.3 C790.4,325.2 784.6,337.1 779.7,338.0 C774.8,338.9 772.2,334.9 767.7,326.0 C763.2,317.1 748.1,292.1 753.0,284.7Z" fill="#005046"/>
<path d="M793.7,423.3 C794.5,419.4 798.9,417.8 800.3,420.0 C801.7,422.2 802.8,432.8 802.0,436.7 C801.2,440.6 796.7,445.5 795.3,443.3 C793.9,441.1 792.9,427.2 793.7,423.3Z" fill="#005046"/>
<path d="M515.0,241.7 C519.2,237.9 532.5,236.5 540.0,237.3 C547.5,238.1 553.3,244.0 560.0,246.7 C566.7,249.4 576.4,248.9 580.0,253.3 C583.6,257.7 582.8,265.5 581.7,273.3 C580.6,281.1 576.9,293.3 573.3,300.0 C569.7,306.7 565.0,311.6 560.0,313.3 C555.0,315.0 549.4,310.6 543.3,310.0 C537.2,309.4 528.8,311.7 523.3,310.0 C517.8,308.3 512.5,305.0 510.0,300.0 C507.5,295.0 507.5,286.7 508.3,280.0 C509.1,273.3 513.9,266.4 515.0,260.0 C516.1,253.6 510.8,245.5 515.0,241.7Z" fill="#005046"/>
<path d="M683.3,306.7 C690.0,300.9 700.5,293.9 710.0,291.7 C719.5,289.5 731.7,290.8 740.0,293.3 C748.3,295.8 754.5,301.1 760.0,306.7 C765.5,312.3 770.2,320.6 773.3,326.7 C776.3,332.8 778.6,336.1 778.3,343.3 C778.0,350.5 774.5,362.8 771.7,370.0 C768.9,377.2 767.5,380.6 761.7,386.7 C755.9,392.8 746.4,403.4 736.7,406.7 C727.0,410.0 711.6,408.9 703.3,406.7 C695.0,404.5 690.6,401.1 686.7,393.3 C682.8,385.5 682.8,371.1 680.0,360.0 C677.2,348.9 669.5,335.6 670.0,326.7 C670.5,317.8 676.6,312.5 683.3,306.7Z" fill="#003c30"/>
<path d="M533.3,260.0 C536.6,256.1 543.3,253.9 550.0,253.3 C556.7,252.8 568.8,252.8 573.3,256.7 C577.8,260.6 577.8,269.5 576.7,276.7 C575.6,283.9 571.2,295.6 566.7,300.0 C562.2,304.4 555.0,304.4 550.0,303.3 C545.0,302.2 540.0,297.7 536.7,293.3 C533.4,288.9 530.6,282.2 530.0,276.7 C529.4,271.1 530.0,263.9 533.3,260.0Z" fill="#003c30"/>
<circle cx="566.7" cy="2065.7" r="3" fill="#003c30"/>
<circle cx="565.0" cy="2082.3" r="3" fill="#003c30"/>
<circle cx="566.7" cy="2145.7" r="4" fill="#003c30"/>
<circle cx="562.3" cy="2172.3" r="4" fill="#003c30"/>
<path d="M563.3,1904.0 C568.8,1901.2 593.3,1899.0 600.0,1900.7 C606.7,1902.4 606.6,1910.1 603.3,1914.0 C600.0,1917.9 586.1,1923.5 580.0,1924.0 C573.9,1924.5 569.5,1920.6 566.7,1917.3 C563.9,1914.0 557.8,1906.8 563.3,1904.0Z" fill="#ffffff" fill-opacity=".6"/>
<path d="M546.7,2000.7 C551.7,1992.4 573.3,1991.8 580.0,1997.3 C586.7,2002.8 588.9,2022.9 586.7,2034.0 C584.5,2045.1 572.8,2061.8 566.7,2064.0 C560.6,2066.2 553.3,2057.8 550.0,2047.3 C546.7,2036.8 541.7,2009.0 546.7,2000.7Z" fill="#ffffff" fill-opacity=".6"/>
<path d="M500.0,2114.0 C510.0,2100.1 548.9,2101.8 560.0,2107.3 C571.1,2112.9 570.0,2133.4 566.7,2147.3 C563.4,2161.2 551.1,2183.5 540.0,2190.7 C528.9,2197.9 506.7,2203.5 500.0,2190.7 C493.3,2177.9 490.0,2127.9 500.0,2114.0Z" fill="#ffffff" fill-opacity=".6"/>
<path d="M513.3,2106.7 C522.8,2095.6 551.1,2095.6 560.0,2100.0 C568.9,2104.4 570.0,2126.6 566.7,2133.3 C563.4,2140.0 543.3,2134.4 540.0,2140.0 C536.7,2145.6 543.4,2158.9 546.7,2166.7 C550.0,2174.5 558.9,2177.8 560.0,2186.7 C561.1,2195.6 548.8,2212.2 553.3,2220.0 C557.8,2227.8 585.6,2227.8 586.7,2233.3 C587.8,2238.9 570.0,2252.2 560.0,2253.3 C550.0,2254.4 534.5,2248.9 526.7,2240.0 C518.9,2231.1 517.2,2212.2 513.3,2200.0 C509.4,2187.8 503.3,2182.2 503.3,2166.7 C503.3,2151.1 503.8,2117.8 513.3,2106.7Z" fill="#ffffff" fill-opacity=".6"/>
<path d="M543.3,2000.0 C548.8,1993.3 567.2,1994.5 573.3,2000.0 C579.4,2005.5 582.2,2023.3 580.0,2033.3 C577.8,2043.3 566.7,2058.9 560.0,2060.0 C553.3,2061.1 542.8,2050.0 540.0,2040.0 C537.2,2030.0 537.8,2006.7 543.3,2000.0Z" fill="#ffffff" fill-opacity=".6"/>
<path d="M444.0,306.7 C446.2,304.5 458.6,305.0 461.7,306.7 C464.8,308.4 463.5,313.4 462.7,316.7 C461.9,320.0 459.1,326.1 456.7,326.7 C454.3,327.2 450.4,323.3 448.3,320.0 C446.2,316.7 441.8,308.9 444.0,306.7Z" fill="#fffffe"/>
<path d="M533.3,2263.3 C538.0,2261.6 581.7,2280.6 600.0,2286.7 C618.3,2292.8 632.2,2303.3 643.3,2300.0 C654.4,2296.7 657.2,2274.5 666.7,2266.7 C676.2,2258.9 691.7,2253.3 700.0,2253.3 C708.3,2253.3 713.9,2254.5 716.7,2266.7 C719.5,2278.9 719.5,2313.9 716.7,2326.7 C713.9,2339.5 712.2,2342.8 700.0,2343.3 C687.8,2343.9 659.4,2335.0 643.3,2330.0 C627.2,2325.0 615.2,2318.9 603.3,2313.3 C591.4,2307.8 583.4,2305.0 571.7,2296.7 C560.0,2288.4 528.6,2265.0 533.3,2263.3Z" fill="#ffffff" fill-opacity=".6"/>
</g></g>
<path d="M1272.0,1535.7 L1277.0,1545.7 L1293.7,1542.3 L1297.0,1547.3 L1290.3,1560.7 L1278.7,1572.3 L1270.3,1584.0 L1252.0,1595.7 L1245.3,1600.7 L1247.0,1585.7 L1253.7,1577.3 L1267.0,1570.7 L1273.7,1554.0Z" fill="#fff"/>
<g clip-path="url(#frame)" fill="none" stroke="#000" stroke-width="4.2" stroke-linejoin="round" stroke-linecap="round">
<path d="M273.3,274.0 L280.0,275.0 L289.3,285.0 L289.3,291.7 L301.7,292.7 L304.3,290.0 L312.7,297.3 L326.7,295.3 L341.7,287.3 L361.7,280.7 L371.7,272.3 L390.0,274.0 L390.0,276.7 L406.0,278.0 L420.0,284.0 L435.0,295.0 L441.7,302.7 L459.3,302.7 L470.0,291.7 L483.3,280.0 L496.0,276.7 L498.3,256.7 L501.7,240.0 L520.0,225.7 L541.7,225.0 L543.3,218.3 L568.3,220.7 L590.0,206.7 L621.7,181.7 L633.3,183.3 L641.7,192.3 L635.0,203.3 L615.0,209.3 L616.7,216.7 L625.0,231.7 L623.3,250.0 L611.7,266.0 L623.3,289.3 L635.0,287.3 L643.3,266.0 L635.0,250.0 L631.7,230.0 L665.0,218.3 L672.7,215.0 L667.3,201.7 L679.3,190.7 L690.0,212.7 L712.7,213.3 L734.0,230.7 L735.0,241.7 L796.7,238.3 L813.7,250.0 L840.3,256.7 L858.0,247.3 L858.0,238.3 L937.0,236.0 L908.7,247.3 L918.7,260.0 L942.0,262.7 L970.3,279.3 L974.3,305.0 L991.0,304.3 L1001.0,312.7 L1027.0,327.7 L1044.3,344.0 L1045.3,360.0 L1056.3,361.0 L1086.3,388.3 L1125.3,394.0 L1127.0,387.7 L1153.7,386.0 L1186.3,396.0 L1222.0,405.7 L1256.3,433.3 L1260.3,444.0 L1266.3,440.7 L1273.7,446.0 L1282.0,468.3 L1295.3,510.0 L1302.0,508.3 L1304.3,520.0 L1315.7,522.9 L1318.6,534.3 L1315.7,544.3 L1305.7,555.7 L1314.3,562.9 L1325.7,574.3 L1335.7,580.7 L1366.4,587.1 L1362.1,612.9 L1367.9,625.7 L1382.9,597.1 L1397.1,598.6 L1414.3,602.9 L1435.7,612.9 L1460.0,620.0 L1470.7,623.3 L1484.0,636.7 L1492.3,656.7 L1481.3,680.0 L1499.0,660.0 L1525.7,653.3 L1547.3,660.0 L1572.3,666.7 L1585.7,670.7 L1617.3,667.3 L1634.0,669.3 L1680.7,695.7 L1719.0,730.0 L1744.0,738.3 L1760.7,738.3 L1775.7,740.7 L1784.7,751.7 L1801.3,811.7 L1797.3,836.7 L1790.7,863.7 L1770.7,887.0 L1747.3,912.0 L1729.0,928.7 L1714.0,953.7 L1697.3,977.0 L1682.3,993.7 L1675.7,982.0 L1669.0,987.0 L1664.0,1010.3 L1664.0,1043.7 L1669.0,1083.7 L1660.7,1140.3 L1644.0,1160.3 L1640.7,1200.3 L1624.0,1227.0 L1609.0,1243.7 L1603.3,1277.0 L1577.3,1290.3 L1569.7,1309.7 L1532.3,1310.3 L1487.3,1320.3 L1460.7,1333.7 L1430.7,1343.7 L1404.0,1360.3 L1383.7,1373.7 L1370.3,1387.0 L1360.3,1403.7 L1363.7,1437.0 L1360.3,1460.3 L1357.0,1470.3 L1350.3,1490.3 L1323.7,1513.7 L1307.0,1544.0 L1293.7,1564.0 L1280.3,1579.0 L1245.3,1602.3 L1237.0,1627.3 L1227.0,1639.0 L1206.3,1654.7 L1193.0,1674.0 L1157.0,1691.7 L1133.0,1685.7 L1116.3,1688.3 L1087.0,1675.7 L1066.0,1676.3 L1047.0,1659.7 L1043.7,1675.7 L1084.3,1703.0 L1079.7,1724.7 L1100.3,1739.0 L1098.7,1754.0 L1068.0,1794.7 L1020.3,1810.7 L1007.0,1812.3 L955.0,1817.3 L921.7,1814.7 L928.3,1834.0 L921.7,1859.0 L927.7,1874.0 L908.3,1884.7 L875.0,1889.7 L845.0,1878.0 L832.3,1885.7 L836.7,1917.3 L858.3,1927.3 L876.0,1917.3 L885.7,1934.7 L857.3,1944.0 L830.0,1964.0 L826.7,1995.0 L819.0,2013.0 L788.3,2013.0 L763.3,2029.7 L754.0,2053.0 L785.0,2077.3 L816.0,2084.0 L806.0,2111.7 L767.7,2129.0 L747.3,2165.7 L716.7,2178.3 L706.7,2190.7 L705.0,2195.0 L715.0,2228.3 L735.0,2245.0 L695.0,2243.3 L649.3,2261.7 L645.0,2291.7 L630.0,2291.7 L596.7,2283.3 L560.0,2260.0 L520.0,2243.3 L510.0,2222.3 L518.3,2204.0 L501.7,2183.3 L498.3,2129.0 L511.7,2098.3 L545.7,2072.7 L496.7,2064.3 L526.7,2036.0 L538.3,1983.3 L573.3,1994.0 L590.7,1928.3 L570.0,1920.0 L559.3,1960.0 L539.3,1955.0 L546.7,1900.0 L559.3,1850.7 L574.3,1829.0 L565.0,1799.0 L562.7,1762.3 L575.0,1760.7 L593.3,1717.3 L618.3,1657.3 L631.7,1612.3 L623.3,1564.0 L634.0,1537.3 L631.7,1514.0 L629.3,1497.0 L647.3,1458.7 L653.3,1403.7 L663.3,1337.0 L674.0,1260.3 L670.7,1203.7 L665.0,1162.0 L632.7,1143.7 L630.0,1130.3 L563.3,1097.0 L510.0,1065.3 L485.0,1045.3 L472.7,1018.7 L477.3,1008.7 L450.0,967.0 L416.7,903.7 L389.3,846.3 L376.7,837.0 L363.3,806.7 L338.3,785.0 L319.0,773.3 L328.3,760.0 L313.3,729.3 L323.3,706.7 L348.3,688.3 L365.0,661.7 L359.0,648.3 L346.7,663.3 L327.3,649.3 L334.0,640.0 L328.3,611.7 L340.0,606.7 L346.0,586.7 L356.7,565.0 L355.0,552.7 L371.7,546.7 L393.3,533.3 L390.0,523.3 L401.7,520.7 L400.0,506.7 L408.3,494.0 L423.3,491.7 L450.0,455.0 L438.3,448.3 L444.0,428.3 L436.7,399.3 L444.0,390.0 L438.3,363.3 L426.0,346.7 L414.0,338.3 L408.3,322.3 L416.7,314.3 L409.0,314.3 L405.0,308.3 L396.7,298.3 L385.0,291.7 L372.7,294.0 L366.7,306.7 L356.7,312.7 L346.7,315.0 L345.0,322.7 L358.3,338.3 L350.0,341.7 L345.0,346.0 L330.0,348.3 L325.0,329.3 L321.7,334.0 L310.7,331.7 L305.0,319.3 L290.0,316.7 L283.3,314.0 L269.0,314.0 L267.3,322.3 L264.0,317.3 L268.3,306.7 L267.3,298.3 L271.7,295.0 L266.0,291.7 L265.0,276.7Z"/>
<path d="M942.0,233.3 L960.3,230.0 L968.7,231.7 L967.0,256.7 L940.3,260.0 L933.0,257.3 L943.0,248.3Z"/>
<path d="M530.0,2260.7 L556.7,2266.7 L600.0,2286.7 L630.0,2296.7 L641.7,2300.0 L656.7,2288.3 L668.3,2263.3 L696.0,2251.7 L720.0,2255.0 L733.3,2271.7 L748.3,2293.3 L790.0,2312.3 L835.0,2320.7 L821.7,2337.3 L790.0,2338.3 L775.0,2330.0 L763.3,2340.0 L736.7,2350.0 L703.3,2346.7 L680.0,2336.7 L643.3,2331.7 L603.3,2313.3 L571.7,2296.7Z"/>
<path d="M957.7,2230.0 L996.0,2211.0 L1022.7,2219.3 L1041.7,2206.0 L1068.3,2220.7 L1058.3,2232.3 L1015.0,2241.7 L1000.0,2230.0 L973.3,2245.0Z"/>
<path d="M1272.0,1535.7 L1277.0,1545.7 L1293.7,1542.3 L1297.0,1547.3 L1290.3,1560.7 L1278.7,1572.3 L1270.3,1584.0 L1252.0,1595.7 L1245.3,1600.7 L1247.0,1585.7 L1253.7,1577.3 L1267.0,1570.7 L1273.7,1554.0Z"/>
<path d="M247.3,170.0 L248.3,182.7 L243.3,185.0 L240.0,199.3 L241.7,208.3 L235.7,216.0 L237.3,226.7 L241.7,230.7 L248.3,245.0 L256.7,255.0 L270.0,267.3 L280.0,275.0 M199.3,228.3 L210.0,225.0 L221.7,228.3 L226.7,235.0 L235.0,237.3 L241.7,230.7 M199.3,256.7 L208.3,263.3 L210.0,271.7 L225.0,278.3 L236.7,285.0 L243.3,291.7 L244.0,298.3 L240.0,304.0 L246.0,310.0 L264.0,317.3 L267.3,322.3 M273.3,274.0 L265.0,276.7 L266.0,291.7 L271.7,295.0 L267.3,298.3 L268.3,306.7 L264.0,317.3 M441.7,302.7 L446.0,323.3 L440.7,333.3 L430.0,332.3 L426.0,346.7 M615.0,209.3 L611.7,213.3 L600.0,230.0 L585.0,247.3 L580.0,270.0 L571.7,286.7 L586.7,288.3 L595.0,306.7 L601.7,320.0 L598.3,340.0 L606.7,345.0 L614.0,355.0 L670.0,353.3 L696.7,381.7 L730.0,381.7 L751.7,378.3 L762.7,384.0 L753.3,408.3 L746.0,433.3 L753.3,456.7 L763.3,471.7 L746.0,488.3 L760.0,496.7 L770.0,513.3 L780.0,545.0 L794.0,555.0 M348.3,688.3 L351.7,700.0 L343.3,707.3 L345.0,717.3 L370.0,721.7 L384.0,736.0 L401.7,723.3 L408.3,698.3 L428.3,671.7 L465.0,660.0 L498.3,628.3 L510.7,606.7 L506.7,582.7 L476.7,564.3 L467.3,568.3 L440.7,565.0 L433.3,552.7 L427.3,551.7 L393.3,533.3 M506.7,582.7 L515.0,580.0 L536.7,595.0 L546.0,610.0 L560.0,619.3 L579.3,651.7 L603.3,656.0 L620.0,647.3 L630.0,651.7 L651.7,649.3 L675.7,665.0 L655.0,697.3 L665.0,699.3 L679.3,716.0 M679.3,716.0 L696.7,615.0 L688.3,595.0 L674.3,583.3 L674.3,558.3 L698.3,553.3 L703.3,558.3 L701.7,546.7 L681.7,545.0 L681.7,523.3 L703.3,521.0 L733.3,521.0 L736.7,515.0 L745.0,523.3 L756.7,510.0 L766.7,521.7 L771.7,541.7 L780.0,545.0 M679.3,716.0 L651.7,715.0 L618.3,726.7 L585.0,743.3 L578.3,776.7 L556.7,800.0 L550.0,813.3 L556.7,818.3 L558.3,836.7 M556.7,818.3 L656.7,836.7 M797.0,555.0 L812.0,548.3 L820.3,556.7 L822.0,543.3 L862.0,530.0 L868.7,516.7 L888.7,509.3 L887.0,503.3 L862.0,500.0 L858.7,460.0 L842.0,443.3 L863.7,452.7 L893.7,453.3 L903.7,463.3 L910.3,453.3 L930.3,446.0 L963.7,435.0 L976.3,416.7 L950.3,389.3 L957.7,380.0 L959.7,364.0 L978.7,358.3 L986.3,353.3 L975.3,341.7 L977.0,331.7 L1001.0,312.7 M976.3,416.7 L988.7,410.7 L996.3,416.0 L994.7,426.7 L1005.3,440.0 L1008.7,453.3 L1000.3,465.0 L996.3,490.0 L1003.7,518.3 L1013.7,528.3 L1028.7,538.3 M1086.3,388.3 L1082.0,416.7 L1062.0,425.0 L1063.7,433.3 L1058.0,449.3 L1072.0,472.3 L1082.0,472.3 L1087.0,490.0 L1104.3,516.7 M1028.7,538.3 L1043.7,536.7 L1048.7,528.3 L1057.0,529.3 L1080.3,518.3 L1104.3,516.7 L1123.7,519.3 L1125.3,511.7 L1120.3,506.7 L1123.0,500.0 L1137.0,500.7 L1154.3,495.0 L1158.7,499.3 L1170.3,503.3 M1186.3,396.0 L1172.0,421.7 L1173.7,443.3 L1186.3,463.3 L1180.3,486.7 L1170.3,503.3 M1170.3,503.3 L1183.7,509.3 L1193.7,503.3 L1205.3,504.0 L1207.0,511.7 L1220.3,510.0 L1230.3,500.0 L1238.7,476.7 L1260.3,444.0 M888.7,509.3 L907.0,515.0 L910.3,526.7 L917.0,553.3 L913.7,576.7 L922.0,598.3 L916.3,603.3 L935.3,621.7 L943.7,624.0 L946.3,603.3 L958.0,594.0 L967.0,597.3 L973.7,605.7 L985.3,601.7 L983.7,590.0 L993.7,571.7 L1029.3,571.7 M1028.7,538.3 L1030.3,571.7 L1032.0,593.3 L1043.7,610.0 L1063.7,626.7 L1083.7,635.0 L1100.3,646.7 L1108.7,648.3 L1110.3,653.3 L1045.3,793.3 L1050.3,803.3 L1055.3,811.7 L1048.7,836.7 M1055.3,811.7 L1067.0,836.7 M1163.7,506.7 L1163.0,521.7 L1173.7,523.3 L1197.0,536.7 L1207.0,541.7 L1213.7,556.7 L1218.7,573.3 L1230.3,593.3 L1240.3,613.3 L1258.7,615.0 M1403.7,706.7 L1388.7,723.3 L1357.0,746.7 L1370.3,756.7 L1368.7,770.0 L1360.3,783.3 L1343.7,795.0 L1337.0,813.3 L1338.7,836.7 M1305.7,555.7 L1298.6,561.4 L1291.4,571.4 L1274.3,580.0 L1268.6,591.4 L1260.0,601.4 L1258.6,611.4 L1250.0,618.6 L1241.4,620.0 L1228.6,627.1 L1242.9,630.0 L1252.9,628.6 L1268.6,620.0 L1285.7,608.6 M1291.4,587.1 L1300.0,584.3 L1335.7,582.1 L1366.4,587.1 L1361.4,612.9 L1357.1,620.0 L1351.4,618.6 L1347.1,624.3 L1340.0,622.9 L1337.1,628.6 L1330.0,626.4 L1325.7,632.9 L1312.9,632.9 L1301.4,642.9 L1292.9,631.4 L1287.1,612.9 L1291.4,587.1 M1337.1,632.9 L1325.7,662.9 L1331.4,660.0 L1341.4,638.6 L1357.1,625.7 L1362.1,612.9 M1300.0,558.6 L1312.9,557.1 L1310.0,564.3 L1300.0,562.9 M1310.0,568.6 L1324.3,569.3 L1322.9,576.4 L1310.0,575.7 M1280.7,582.9 L1291.4,577.9 L1293.6,582.9 L1284.3,588.6 M1262.9,605.7 L1271.4,595.7 L1277.1,597.9 L1271.4,611.4 L1262.9,618.6 M1357.1,587.1 L1358.6,611.4 M1437.3,613.3 L1432.3,646.7 L1420.7,670.0 L1410.7,696.7 L1404.0,706.7 M1575.7,668.3 L1567.3,683.3 L1550.7,691.7 L1537.3,720.0 L1542.3,743.3 L1534.0,763.3 L1535.7,776.7 L1542.3,783.3 L1540.7,801.7 L1530.7,808.3 L1517.3,810.0 L1504.0,813.3 L1484.0,826.7 L1459.0,833.3 L1454.0,836.7 M1592.3,671.7 L1585.7,685.0 L1597.3,723.3 L1604.0,760.0 L1609.0,793.3 L1620.7,800.0 L1617.3,813.3 L1610.7,821.7 L1614.0,836.7 M1719.0,731.7 L1705.7,740.0 L1697.3,756.7 L1690.7,771.7 L1677.3,786.7 L1675.7,800.0 L1674.0,813.3 L1680.7,826.7 L1670.7,836.7 M1677.3,788.3 L1689.0,790.0 L1704.0,780.0 L1722.3,776.7 L1714.0,790.0 L1712.3,801.7 L1724.0,803.3 L1737.3,810.0 L1744.0,793.3 L1750.7,785.0 L1770.7,790.0 L1792.3,788.3 M1612.3,821.7 L1637.3,819.3 L1654.0,823.3 L1664.0,835.0 L1670.7,826.7 L1689.0,833.3 L1704.0,826.7 L1717.3,821.7 L1727.3,823.3 L1722.3,836.7 M1737.3,836.7 L1754.0,830.0 L1770.7,826.7 L1780.7,818.3 L1799.0,821.7 M693.3,929.7 L720.0,978.7 L712.7,990.3 L710.0,1038.7 L698.3,1054.7 L704.0,1066.3 L696.7,1076.3 L710.0,1104.3 L690.0,1138.7 L680.7,1154.7 L665.0,1162.0 M690.0,1138.7 L706.0,1160.3 L710.0,1182.0 L726.7,1196.3 L716.7,1227.0 L733.3,1262.0 L746.7,1307.0 L768.3,1303.0 M796.7,1273.7 L768.3,1303.0 L773.3,1310.3 L761.7,1343.7 L727.3,1358.7 L728.3,1412.0 L721.7,1422.0 L730.7,1435.3 L710.0,1453.7 L690.0,1483.7 L676.7,1513.7 M558.3,837.0 L566.7,850.3 L581.7,867.0 L575.0,878.7 L593.3,880.3 L603.3,883.7 L608.3,898.7 L635.0,898.7 L660.0,878.7 L658.3,928.7 L671.7,930.3 L693.3,929.7 L716.7,932.0 L731.7,927.0 L740.0,918.7 L763.3,907.0 L780.0,893.7 L796.7,888.7 M656.7,837.0 L780.0,892.0 L796.7,878.7 M797.0,888.7 L823.7,887.0 L824.3,943.7 L830.3,950.3 L857.0,973.7 L893.7,982.0 L913.7,993.7 L940.3,1008.7 L960.3,1008.0 L978.7,1015.3 L982.0,1032.0 L987.0,1047.0 L987.0,1058.7 L978.7,1059.7 L985.3,1073.7 L990.3,1095.3 L1048.7,1096.3 L1047.0,1113.7 L1052.0,1128.7 L1068.7,1138.7 L1073.7,1157.0 L1067.0,1183.7 L1057.0,1208.7 L1053.7,1220.3 L1062.0,1237.0 L1063.7,1257.0 L1060.3,1282.0 L1097.0,1287.0 L1107.0,1282.0 L1117.0,1287.7 L1130.3,1290.3 L1134.3,1303.7 L1142.0,1340.3 L1153.7,1342.0 L1166.3,1337.0 L1175.3,1343.7 L1173.0,1363.7 L1167.0,1397.0 M1060.3,1215.3 L1053.7,1207.0 L1023.7,1194.3 L993.7,1194.3 L940.3,1203.7 L923.7,1233.7 L922.0,1250.3 L912.0,1282.0 L904.3,1280.3 L868.7,1279.7 L857.0,1303.7 L837.0,1282.0 L797.0,1273.0 M912.0,1282.0 L968.7,1337.0 L993.7,1343.0 L1037.0,1367.0 L1066.3,1378.7 L1071.0,1392.0 L1039.7,1442.0 L1070.3,1451.0 L1107.0,1455.3 L1133.7,1449.7 L1160.3,1429.7 L1167.0,1397.0 L1172.0,1393.7 L1180.3,1392.0 L1190.3,1397.0 L1197.0,1410.3 L1197.0,1433.7 L1193.7,1440.3 L1163.7,1460.3 L1137.0,1480.3 L1117.0,1497.0 L1100.3,1513.7 M797.0,880.3 L810.3,882.0 L817.0,877.0 L830.3,875.3 L840.3,865.3 L863.7,860.3 L867.0,852.0 L878.7,837.0 M908.7,837.0 L920.3,850.3 L933.7,860.3 L943.7,858.7 L947.0,927.0 L982.0,927.7 L997.0,933.7 L998.7,943.7 L992.0,952.0 L1000.3,972.0 L993.7,987.0 L983.7,1003.7 L973.7,1010.3 M943.7,858.7 L1043.7,857.7 L1048.7,837.0 M1067.0,837.0 L1072.0,855.3 L1090.3,870.3 L1107.0,879.7 L1305.3,890.3 L1312.0,873.7 L1327.0,853.7 L1340.3,837.0 M1305.3,890.3 L1293.7,920.3 L1290.3,947.0 L1295.3,983.7 L1303.7,977.0 L1308.7,973.7 L1303.7,987.0 L1287.0,1030.3 L1273.7,1057.0 L1253.7,1080.3 L1230.3,1095.3 L1227.0,1107.0 L1213.7,1123.7 L1212.0,1135.3 L1217.0,1157.0 L1222.0,1170.3 L1240.3,1177.0 L1263.7,1187.0 L1282.0,1195.3 L1283.7,1213.7 M1073.7,1148.7 L1090.3,1133.7 L1117.0,1127.0 L1130.3,1130.3 L1147.0,1140.3 L1163.7,1137.0 L1173.7,1138.7 L1185.3,1135.3 L1195.3,1127.7 L1195.3,1140.3 L1187.0,1148.7 L1213.7,1152.0 M1303.7,987.0 L1333.7,997.0 L1343.7,982.0 L1352.0,993.7 L1353.7,1002.0 L1377.0,997.0 L1388.7,1000.3 L1403.7,995.3 M1283.7,1195.3 L1293.7,1185.3 L1303.7,1175.3 L1330.3,1170.3 L1343.7,1165.3 L1380.3,1163.7 L1397.0,1153.7 L1402.0,1137.0 L1395.3,1127.0 L1403.7,1110.3 M1370.3,1072.0 L1400.3,1072.0 L1400.3,1090.3 L1370.3,1090.3 L1370.3,1072.0 M1283.7,1213.7 L1260.3,1240.3 L1247.0,1267.0 L1223.7,1290.3 L1203.7,1303.7 L1188.7,1323.7 L1180.3,1340.3 L1175.3,1343.7 M1283.7,1213.7 L1295.3,1208.7 L1335.3,1213.7 L1338.7,1223.7 L1347.0,1227.0 L1350.3,1217.0 L1380.3,1213.7 L1397.0,1215.3 L1403.7,1237.0 M1223.7,1298.7 L1247.0,1296.3 L1263.7,1300.3 L1280.3,1307.0 L1313.7,1308.7 L1323.7,1317.0 L1327.0,1333.7 L1337.0,1357.0 L1338.7,1365.3 L1357.0,1367.0 L1363.7,1377.0 L1367.0,1388.7 M1197.0,1410.3 L1220.3,1415.3 L1247.0,1422.0 L1270.3,1423.7 L1273.7,1415.3 L1290.3,1410.3 L1310.3,1408.7 L1330.3,1405.3 L1360.3,1407.0 M1193.7,1440.3 L1213.7,1442.0 L1240.3,1447.0 L1263.7,1460.3 L1280.3,1477.0 L1297.0,1490.3 L1323.7,1495.3 L1320.3,1513.7 M1417.3,837.0 L1414.0,857.0 L1407.3,863.7 L1417.3,873.7 L1420.7,883.7 L1434.0,898.7 L1445.7,907.0 L1442.3,877.0 L1449.0,853.7 L1457.3,837.0 M1445.7,907.0 L1457.3,908.7 L1464.0,918.7 L1474.0,925.3 L1484.0,918.7 L1504.0,912.0 L1514.0,897.0 L1510.7,880.3 L1520.7,876.3 L1547.3,880.3 L1560.7,872.0 L1577.3,865.3 L1597.3,857.0 L1617.3,837.0 M1597.3,857.0 L1604.0,867.0 L1610.7,880.3 L1624.0,870.3 L1634.0,860.3 L1650.7,850.3 L1670.7,857.0 L1687.3,863.7 L1694.0,875.3 L1704.0,860.3 L1724.0,865.3 L1737.3,873.7 L1757.3,863.7 L1777.3,858.7 L1787.3,860.3 M1694.0,875.3 L1697.3,883.7 L1724.0,893.7 L1744.0,908.7 M1697.3,883.7 L1704.0,900.3 L1702.3,917.0 L1689.0,923.7 L1694.0,937.0 L1707.3,945.3 L1717.3,937.0 M1445.7,907.0 L1429.0,920.3 L1424.0,937.0 L1437.3,947.0 L1432.3,970.3 L1437.3,983.7 L1435.7,1000.3 L1440.7,1023.7 L1445.7,1037.0 L1442.3,1057.0 L1439.0,1063.7 M1404.0,997.0 L1424.0,988.7 L1435.7,987.0 M1439.0,1063.7 L1457.3,1053.7 L1477.3,1037.0 L1495.7,1031.0 L1509.0,1035.3 L1512.3,1047.0 L1530.7,1043.7 L1550.7,1052.0 L1564.0,1060.3 L1577.3,1058.7 L1590.7,1070.3 L1592.3,1077.0 L1617.3,1078.7 L1637.3,1087.0 L1634.0,1100.3 L1624.0,1107.0 L1622.3,1117.0 L1615.7,1122.0 L1612.3,1132.0 L1620.7,1143.7 L1642.3,1158.7 M1620.7,1148.7 L1604.0,1150.3 L1597.3,1163.7 L1600.7,1177.0 L1594.0,1180.3 L1604.0,1190.3 L1597.3,1203.7 L1590.7,1220.3 L1577.3,1223.7 L1574.0,1240.3 L1577.3,1250.3 L1600.7,1255.3 M1574.0,1242.0 L1565.7,1247.0 L1557.3,1268.7 L1534.0,1278.7 L1514.0,1282.0 L1484.0,1292.0 L1500.7,1298.7 L1497.3,1303.7 L1480.7,1310.3 L1479.0,1318.7 M1484.0,1292.0 L1450.7,1300.3 L1447.3,1305.3 L1432.3,1307.0 L1425.7,1297.0 L1420.7,1280.3 L1425.7,1263.7 L1415.7,1258.7 L1404.0,1240.3 M1439.0,1063.7 L1425.7,1047.0 L1414.0,1057.0 L1410.7,1083.7 L1404.0,1087.0 M676.7,1514.0 L680.0,1544.0 L660.0,1577.3 L675.0,1632.3 L683.3,1638.0 L683.3,1668.0 L665.0,1698.0 L665.7,1724.7 L641.0,1745.0 L640.7,1775.7 L650.7,1806.3 L631.7,1817.3 L624.0,1842.3 L616.0,1879.0 L621.0,1917.3 L608.3,1923.3 L616.0,1960.7 L630.7,1973.3 L620.0,1986.3 L635.0,1993.0 L638.3,2004.0 L624.0,2010.7 L627.7,2030.0 L615.0,2071.3 L599.0,2098.0 L602.7,2114.0 L591.7,2134.7 L568.3,2147.3 L570.7,2180.7 L581.7,2190.7 M569.0,2148.3 L570.7,2183.3 L581.7,2194.0 L603.3,2192.7 L604.0,2215.0 L616.7,2234.3 L690.0,2239.3 L735.0,2245.0 M720.0,2255.0 L720.0,2326.0 L775.0,2326.7 M1098.7,1514.0 L1083.7,1527.3 L1072.0,1540.0 L1062.0,1570.7 L1054.7,1599.0 L1056.0,1629.0 L1048.7,1638.0 L1047.0,1659.7 M1072.0,1540.0 L1093.7,1536.7 L1123.7,1560.7 L1135.3,1560.7 L1153.7,1575.7 L1192.0,1599.0 L1202.0,1614.0 L1214.3,1620.7 L1202.0,1632.3 L1198.7,1637.3 L1202.0,1647.3 L1206.3,1654.7 M1338.3,836.7 L1335.0,821.7 L1340.0,800.0 L1365.0,780.0 L1373.3,755.0 L1355.0,748.3 M1355.0,748.3 L1390.0,746.7 L1396.7,766.7 L1393.3,806.7 L1386.7,810.0 L1400.0,826.7 L1410.0,833.3 L1425.0,830.7 L1426.7,840.0 L1417.3,838.3 M1404.0,1087.0 L1398.3,1106.7 L1403.7,1110.3 M878.7,837.0 L884.3,831.0 L907.0,831.0 L908.7,837.0"/>
</g>
<g clip-path="url(#frame)" fill="none" stroke="#000" stroke-width="4.7" stroke-linejoin="round" stroke-linecap="round">
<path d="M679.3,716.0 L696.7,615.0 L688.3,595.0 L674.3,583.3 L674.3,558.3 L698.3,553.3 L703.3,558.3 L701.7,546.7 L681.7,545.0 L681.7,523.3 L703.3,521.0 L733.3,521.0 L736.7,515.0 L745.0,523.3 L756.7,510.0 L766.7,521.7 L771.7,541.7 L780.0,545.0 M679.3,716.0 L651.7,715.0 L618.3,726.7 L585.0,743.3 L578.3,776.7 L556.7,800.0 L550.0,813.3 L556.7,818.3 L558.3,836.7 M556.7,818.3 L656.7,836.7 M797.0,555.0 L812.0,548.3 L820.3,556.7 L822.0,543.3 L862.0,530.0 L868.7,516.7 L888.7,509.3 L887.0,503.3 L862.0,500.0 L858.7,460.0 L842.0,443.3 L863.7,452.7 L893.7,453.3 L903.7,463.3 L910.3,453.3 L930.3,446.0 L963.7,435.0 L976.3,416.7 L950.3,389.3 L957.7,380.0 L959.7,364.0 L978.7,358.3 L986.3,353.3 L975.3,341.7 L977.0,331.7 L1001.0,312.7 M976.3,416.7 L988.7,410.7 L996.3,416.0 L994.7,426.7 L1005.3,440.0 L1008.7,453.3 L1000.3,465.0 L996.3,490.0 L1003.7,518.3 L1013.7,528.3 L1028.7,538.3 M1028.7,538.3 L1043.7,536.7 L1048.7,528.3 L1057.0,529.3 L1080.3,518.3 L1104.3,516.7 L1123.7,519.3 L1125.3,511.7 L1120.3,506.7 L1123.0,500.0 L1137.0,500.7 L1154.3,495.0 L1158.7,499.3 L1170.3,503.3 M1170.3,503.3 L1183.7,509.3 L1193.7,503.3 L1205.3,504.0 L1207.0,511.7 L1220.3,510.0 L1230.3,500.0 L1238.7,476.7 L1260.3,444.0 M888.7,509.3 L907.0,515.0 L910.3,526.7 L917.0,553.3 L913.7,576.7 L922.0,598.3 L916.3,603.3 L935.3,621.7 L943.7,624.0 L946.3,603.3 L958.0,594.0 L967.0,597.3 L973.7,605.7 L985.3,601.7 L983.7,590.0 L993.7,571.7 L1029.3,571.7 M1028.7,538.3 L1030.3,571.7 L1032.0,593.3 L1043.7,610.0 L1063.7,626.7 L1083.7,635.0 L1100.3,646.7 L1108.7,648.3 L1110.3,653.3 L1045.3,793.3 L1050.3,803.3 L1055.3,811.7 L1048.7,836.7 M1055.3,811.7 L1067.0,836.7 M1163.7,506.7 L1163.0,521.7 L1173.7,523.3 L1197.0,536.7 L1207.0,541.7 L1213.7,556.7 L1218.7,573.3 L1230.3,593.3 L1240.3,613.3 L1258.7,615.0 M1403.7,706.7 L1388.7,723.3 L1357.0,746.7 L1370.3,756.7 L1368.7,770.0 L1360.3,783.3 L1343.7,795.0 L1337.0,813.3 L1338.7,836.7 M1305.7,555.7 L1298.6,561.4 L1291.4,571.4 L1274.3,580.0 L1268.6,591.4 L1260.0,601.4 L1258.6,611.4 L1250.0,618.6 L1241.4,620.0 L1228.6,627.1 L1242.9,630.0 L1252.9,628.6 L1268.6,620.0 L1285.7,608.6 M1291.4,587.1 L1300.0,584.3 L1335.7,582.1 L1366.4,587.1 L1361.4,612.9 L1357.1,620.0 L1351.4,618.6 L1347.1,624.3 L1340.0,622.9 L1337.1,628.6 L1330.0,626.4 L1325.7,632.9 L1312.9,632.9 L1301.4,642.9 L1292.9,631.4 L1287.1,612.9 L1291.4,587.1 M1337.1,632.9 L1325.7,662.9 L1331.4,660.0 L1341.4,638.6 L1357.1,625.7 L1362.1,612.9 M1300.0,558.6 L1312.9,557.1 L1310.0,564.3 L1300.0,562.9 M1310.0,568.6 L1324.3,569.3 L1322.9,576.4 L1310.0,575.7 M1280.7,582.9 L1291.4,577.9 L1293.6,582.9 L1284.3,588.6 M1262.9,605.7 L1271.4,595.7 L1277.1,597.9 L1271.4,611.4 L1262.9,618.6 M1357.1,587.1 L1358.6,611.4 M1437.3,613.3 L1432.3,646.7 L1420.7,670.0 L1410.7,696.7 L1404.0,706.7 M1575.7,668.3 L1567.3,683.3 L1550.7,691.7 L1537.3,720.0 L1542.3,743.3 L1534.0,763.3 L1535.7,776.7 L1542.3,783.3 L1540.7,801.7 L1530.7,808.3 L1517.3,810.0 L1504.0,813.3 L1484.0,826.7 L1459.0,833.3 L1454.0,836.7 M1592.3,671.7 L1585.7,685.0 L1597.3,723.3 L1604.0,760.0 L1609.0,793.3 L1620.7,800.0 L1617.3,813.3 L1610.7,821.7 L1614.0,836.7 M1719.0,731.7 L1705.7,740.0 L1697.3,756.7 L1690.7,771.7 L1677.3,786.7 L1675.7,800.0 L1674.0,813.3 L1680.7,826.7 L1670.7,836.7 M1677.3,788.3 L1689.0,790.0 L1704.0,780.0 L1722.3,776.7 L1714.0,790.0 L1712.3,801.7 L1724.0,803.3 L1737.3,810.0 L1744.0,793.3 L1750.7,785.0 L1770.7,790.0 L1792.3,788.3 M1612.3,821.7 L1637.3,819.3 L1654.0,823.3 L1664.0,835.0 L1670.7,826.7 L1689.0,833.3 L1704.0,826.7 L1717.3,821.7 L1727.3,823.3 L1722.3,836.7 M1737.3,836.7 L1754.0,830.0 L1770.7,826.7 L1780.7,818.3 L1799.0,821.7 M558.3,837.0 L566.7,850.3 L581.7,867.0 L575.0,878.7 L593.3,880.3 L603.3,883.7 L608.3,898.7 L635.0,898.7 L660.0,878.7 L658.3,928.7 L671.7,930.3 L693.3,929.7 L716.7,932.0 L731.7,927.0 L740.0,918.7 L763.3,907.0 L780.0,893.7 L796.7,888.7 M656.7,837.0 L780.0,892.0 L796.7,878.7 M797.0,888.7 L823.7,887.0 L824.3,943.7 L830.3,950.3 L857.0,973.7 L893.7,982.0 L913.7,993.7 L940.3,1008.7 L960.3,1008.0 L978.7,1015.3 L982.0,1032.0 L987.0,1047.0 L987.0,1058.7 L978.7,1059.7 L985.3,1073.7 L990.3,1095.3 L1048.7,1096.3 L1047.0,1113.7 L1052.0,1128.7 L1068.7,1138.7 L1073.7,1157.0 L1067.0,1183.7 L1057.0,1208.7 L1053.7,1220.3 L1062.0,1237.0 L1063.7,1257.0 L1060.3,1282.0 L1097.0,1287.0 L1107.0,1282.0 L1117.0,1287.7 L1130.3,1290.3 L1134.3,1303.7 L1142.0,1340.3 L1153.7,1342.0 L1166.3,1337.0 L1175.3,1343.7 L1173.0,1363.7 L1167.0,1397.0 M797.0,880.3 L810.3,882.0 L817.0,877.0 L830.3,875.3 L840.3,865.3 L863.7,860.3 L867.0,852.0 L878.7,837.0 M908.7,837.0 L920.3,850.3 L933.7,860.3 L943.7,858.7 L947.0,927.0 L982.0,927.7 L997.0,933.7 L998.7,943.7 L992.0,952.0 L1000.3,972.0 L993.7,987.0 L983.7,1003.7 L973.7,1010.3 M943.7,858.7 L1043.7,857.7 L1048.7,837.0 M1067.0,837.0 L1072.0,855.3 L1090.3,870.3 L1107.0,879.7 L1305.3,890.3 L1312.0,873.7 L1327.0,853.7 L1340.3,837.0 M1305.3,890.3 L1293.7,920.3 L1290.3,947.0 L1295.3,983.7 L1303.7,977.0 L1308.7,973.7 L1303.7,987.0 L1287.0,1030.3 L1273.7,1057.0 L1253.7,1080.3 L1230.3,1095.3 L1227.0,1107.0 L1213.7,1123.7 L1212.0,1135.3 L1217.0,1157.0 L1222.0,1170.3 L1240.3,1177.0 L1263.7,1187.0 L1282.0,1195.3 L1283.7,1213.7 M1073.7,1148.7 L1090.3,1133.7 L1117.0,1127.0 L1130.3,1130.3 L1147.0,1140.3 L1163.7,1137.0 L1173.7,1138.7 L1185.3,1135.3 L1195.3,1127.7 L1195.3,1140.3 L1187.0,1148.7 L1213.7,1152.0 M1303.7,987.0 L1333.7,997.0 L1343.7,982.0 L1352.0,993.7 L1353.7,1002.0 L1377.0,997.0 L1388.7,1000.3 L1403.7,995.3 M1283.7,1195.3 L1293.7,1185.3 L1303.7,1175.3 L1330.3,1170.3 L1343.7,1165.3 L1380.3,1163.7 L1397.0,1153.7 L1402.0,1137.0 L1395.3,1127.0 L1403.7,1110.3 M1370.3,1072.0 L1400.3,1072.0 L1400.3,1090.3 L1370.3,1090.3 L1370.3,1072.0 M1283.7,1213.7 L1260.3,1240.3 L1247.0,1267.0 L1223.7,1290.3 L1203.7,1303.7 L1188.7,1323.7 L1180.3,1340.3 L1175.3,1343.7 M1283.7,1213.7 L1295.3,1208.7 L1335.3,1213.7 L1338.7,1223.7 L1347.0,1227.0 L1350.3,1217.0 L1380.3,1213.7 L1397.0,1215.3 L1403.7,1237.0 M1223.7,1298.7 L1247.0,1296.3 L1263.7,1300.3 L1280.3,1307.0 L1313.7,1308.7 L1323.7,1317.0 L1327.0,1333.7 L1337.0,1357.0 L1338.7,1365.3 L1357.0,1367.0 L1363.7,1377.0 L1367.0,1388.7 M1197.0,1410.3 L1220.3,1415.3 L1247.0,1422.0 L1270.3,1423.7 L1273.7,1415.3 L1290.3,1410.3 L1310.3,1408.7 L1330.3,1405.3 L1360.3,1407.0 M1193.7,1440.3 L1213.7,1442.0 L1240.3,1447.0 L1263.7,1460.3 L1280.3,1477.0 L1297.0,1490.3 L1323.7,1495.3 L1320.3,1513.7 M1417.3,837.0 L1414.0,857.0 L1407.3,863.7 L1417.3,873.7 L1420.7,883.7 L1434.0,898.7 L1445.7,907.0 L1442.3,877.0 L1449.0,853.7 L1457.3,837.0 M1445.7,907.0 L1457.3,908.7 L1464.0,918.7 L1474.0,925.3 L1484.0,918.7 L1504.0,912.0 L1514.0,897.0 L1510.7,880.3 L1520.7,876.3 L1547.3,880.3 L1560.7,872.0 L1577.3,865.3 L1597.3,857.0 L1617.3,837.0 M1597.3,857.0 L1604.0,867.0 L1610.7,880.3 L1624.0,870.3 L1634.0,860.3 L1650.7,850.3 L1670.7,857.0 L1687.3,863.7 L1694.0,875.3 L1704.0,860.3 L1724.0,865.3 L1737.3,873.7 L1757.3,863.7 L1777.3,858.7 L1787.3,860.3 M1694.0,875.3 L1697.3,883.7 L1724.0,893.7 L1744.0,908.7 M1697.3,883.7 L1704.0,900.3 L1702.3,917.0 L1689.0,923.7 L1694.0,937.0 L1707.3,945.3 L1717.3,937.0 M1445.7,907.0 L1429.0,920.3 L1424.0,937.0 L1437.3,947.0 L1432.3,970.3 L1437.3,983.7 L1435.7,1000.3 L1440.7,1023.7 L1445.7,1037.0 L1442.3,1057.0 L1439.0,1063.7 M1404.0,997.0 L1424.0,988.7 L1435.7,987.0 M1439.0,1063.7 L1457.3,1053.7 L1477.3,1037.0 L1495.7,1031.0 L1509.0,1035.3 L1512.3,1047.0 L1530.7,1043.7 L1550.7,1052.0 L1564.0,1060.3 L1577.3,1058.7 L1590.7,1070.3 L1592.3,1077.0 L1617.3,1078.7 L1637.3,1087.0 L1634.0,1100.3 L1624.0,1107.0 L1622.3,1117.0 L1615.7,1122.0 L1612.3,1132.0 L1620.7,1143.7 L1642.3,1158.7 M1620.7,1148.7 L1604.0,1150.3 L1597.3,1163.7 L1600.7,1177.0 L1594.0,1180.3 L1604.0,1190.3 L1597.3,1203.7 L1590.7,1220.3 L1577.3,1223.7 L1574.0,1240.3 L1577.3,1250.3 L1600.7,1255.3 M1574.0,1242.0 L1565.7,1247.0 L1557.3,1268.7 L1534.0,1278.7 L1514.0,1282.0 L1484.0,1292.0 L1500.7,1298.7 L1497.3,1303.7 L1480.7,1310.3 L1479.0,1318.7 M1484.0,1292.0 L1450.7,1300.3 L1447.3,1305.3 L1432.3,1307.0 L1425.7,1297.0 L1420.7,1280.3 L1425.7,1263.7 L1415.7,1258.7 L1404.0,1240.3 M1439.0,1063.7 L1425.7,1047.0 L1414.0,1057.0 L1410.7,1083.7 L1404.0,1087.0 M1072.0,1540.0 L1093.7,1536.7 L1123.7,1560.7 L1135.3,1560.7 L1153.7,1575.7 L1192.0,1599.0 L1202.0,1614.0 L1214.3,1620.7 L1202.0,1632.3 L1198.7,1637.3 L1202.0,1647.3 L1206.3,1654.7 M1338.3,836.7 L1335.0,821.7 L1340.0,800.0 L1365.0,780.0 L1373.3,755.0 L1355.0,748.3 M1355.0,748.3 L1390.0,746.7 L1396.7,766.7 L1393.3,806.7 L1386.7,810.0 L1400.0,826.7 L1410.0,833.3 L1425.0,830.7 L1426.7,840.0 L1417.3,838.3 M1404.0,1087.0 L1398.3,1106.7 L1403.7,1110.3 M878.7,837.0 L884.3,831.0 L907.0,831.0 L908.7,837.0 M1260.3,444.0 L1266.3,440.7 L1273.7,446.0 L1282.0,468.3 L1295.3,510.0 L1302.0,508.3 L1304.3,520.0 L1315.7,522.9 L1318.6,534.3 L1315.7,544.3 L1305.7,555.7 L1314.3,562.9 L1325.7,574.3 L1335.7,580.7 L1366.4,587.1 L1362.1,612.9 L1367.9,625.7 L1382.9,597.1 L1397.1,598.6 L1414.3,602.9 L1435.7,612.9 L1460.0,620.0 L1470.7,623.3 L1484.0,636.7 L1492.3,656.7 L1481.3,680.0 L1499.0,660.0 L1525.7,653.3 L1547.3,660.0 L1572.3,666.7 L1585.7,670.7 L1617.3,667.3 L1634.0,669.3 L1680.7,695.7 L1719.0,730.0 L1744.0,738.3 L1760.7,738.3 L1775.7,740.7 L1784.7,751.7 L1801.3,811.7 L1797.3,836.7 L1790.7,863.7 L1770.7,887.0 L1747.3,912.0 L1729.0,928.7 L1714.0,953.7 L1697.3,977.0 L1682.3,993.7 L1675.7,982.0 L1669.0,987.0 L1664.0,1010.3 L1664.0,1043.7 L1669.0,1083.7 L1660.7,1140.3 L1644.0,1160.3 L1640.7,1200.3 L1624.0,1227.0 L1609.0,1243.7 L1603.3,1277.0 L1577.3,1290.3 L1569.7,1309.7 L1532.3,1310.3 L1487.3,1320.3 L1460.7,1333.7 L1430.7,1343.7 L1404.0,1360.3 L1383.7,1373.7 L1370.3,1387.0 L1360.3,1403.7 L1363.7,1437.0 L1360.3,1460.3 L1357.0,1470.3 L1350.3,1490.3 L1323.7,1513.7 L1307.0,1544.0 L1293.7,1564.0 L1280.3,1579.0 L1245.3,1602.3 L1237.0,1627.3 L1227.0,1639.0 L1206.3,1654.7"/>
</g>
<rect x="198.5" y="169.3" width="1752.2" height="2191.7" fill="none" stroke="#000" stroke-width="3.3"/>
<g id="title" text-anchor="middle" font-size="59.5">
<text x="1065.5" y="75.4" textLength="1192" lengthAdjust="spacingAndGlyphs">MERGE - Potencial de Evapotranspiração</text>
<text x="1074" y="143.9" textLength="586" lengthAdjust="spacingAndGlyphs">Válido para 02/2008</text>
</g>
<g id="ylab" text-anchor="end" font-size="59.5">
<text x="177.5" y="277.3" textLength="147" lengthAdjust="spacingAndGlyphs">10°N</text>
<text x="177" y="595.5" textLength="63.5" lengthAdjust="spacingAndGlyphs">0°</text>
<text x="177.5" y="914.2" textLength="147" lengthAdjust="spacingAndGlyphs">10°S</text>
<text x="177.5" y="1232.8" textLength="147" lengthAdjust="spacingAndGlyphs">20°S</text>
<text x="177.5" y="1551.3" textLength="147" lengthAdjust="spacingAndGlyphs">30°S</text>
<text x="177.5" y="1869.9" textLength="147" lengthAdjust="spacingAndGlyphs">40°S</text>
<text x="177.5" y="2188.4" textLength="147" lengthAdjust="spacingAndGlyphs">50°S</text>
</g>
<g id="xlab" text-anchor="middle" font-size="59.5">
<text x="358.5" y="2428" textLength="159" lengthAdjust="spacingAndGlyphs">80°W</text>
<text x="677" y="2428" textLength="159" lengthAdjust="spacingAndGlyphs">70°W</text>
<text x="995.6" y="2428" textLength="159" lengthAdjust="spacingAndGlyphs">60°W</text>
<text x="1314.1" y="2428" textLength="159" lengthAdjust="spacingAndGlyphs">50°W</text>
<text x="1632.7" y="2428" textLength="159" lengthAdjust="spacingAndGlyphs">40°W</text>
</g>
<g id="cbar">
<rect x="1992.7" y="2200" width="51.2" height="220" fill="#6e4007"/>
<rect x="1992.7" y="1980" width="51.2" height="220" fill="#a5691b"/>
<rect x="1992.7" y="1760" width="51.2" height="220" fill="#cfa256"/>
<rect x="1992.7" y="1540" width="51.2" height="220" fill="#ead59f"/>
<rect x="1992.7" y="1320" width="51.2" height="220" fill="#f5efdc"/>
<rect x="1992.7" y="1100" width="51.2" height="220" fill="#def0ed"/>
<rect x="1992.7" y="880" width="51.2" height="220" fill="#a3dbd3"/>
<rect x="1992.7" y="660" width="51.2" height="220" fill="#58b0a7"/>
<rect x="1992.7" y="440" width="51.2" height="220" fill="#1a7e76"/>
<rect x="1992.7" y="220" width="51.2" height="220" fill="#005046"/>
<path d="M1992.7,220 L2018.3,110 L2043.9,220 Z" fill="#003c30"/>
<path d="M1992.7,2420 L1992.7,220 L2018.3,110 L2043.9,220 L2043.9,2420 Z" fill="none" stroke="#000" stroke-width="3.3" stroke-linejoin="miter"/>
<path d="M2044,220h15.5 M2044,440h15.5 M2044,660h15.5 M2044,880h15.5 M2044,1100h15.5 M2044,1320h15.5 M2044,1540h15.5 M2044,1760h15.5 M2044,1980h15.5 M2044,2200h15.5 M2044,2420h15.5" stroke="#000" stroke-width="3.3" fill="none"/>
<g font-size="51">
<text x="2074" y="238.5" textLength="94.5" lengthAdjust="spacingAndGlyphs">200</text>
<text x="2074" y="458.5" textLength="94.5" lengthAdjust="spacingAndGlyphs">180</text>
<text x="2074" y="678.5" textLength="94.5" lengthAdjust="spacingAndGlyphs">160</text>
<text x="2074" y="898.5" textLength="94.5" lengthAdjust="spacingAndGlyphs">140</text>
<text x="2074" y="1118.5" textLength="94.5" lengthAdjust="spacingAndGlyphs">120</text>
<text x="2074" y="1338.5" textLength="94.5" lengthAdjust="spacingAndGlyphs">100</text>
<text x="2074" y="1558.5" textLength="63" lengthAdjust="spacingAndGlyphs">80</text>
<text x="2074" y="1778.5" textLength="63" lengthAdjust="spacingAndGlyphs">60</text>
<text x="2074" y="1998.5" textLength="63" lengthAdjust="spacingAndGlyphs">40</text>
<text x="2074" y="2218.5" textLength="63" lengthAdjust="spacingAndGlyphs">20</text>
<text x="2074" y="2438.5" textLength="33" lengthAdjust="spacingAndGlyphs">0</text>
</g>
</g>
<g id="logo" transform="translate(1700,2140) scale(0.142857)">
<path d="M1378,452 C1372,493 1370,617 1340,700 C1310,783 1257,887 1200,950 C1143,1013 1070,1053 1000,1080 C930,1107 853,1115 780,1112 C707,1109 627,1095 560,1060 C493,1025 424,960 380,900 C336,840 312,757 295,700 C278,643 281,583 278,560 C282,580 285,640 300,680 C315,720 333,760 370,800 C407,840 465,892 520,920 C575,948 640,968 700,968 C760,968 827,948 880,920 C933,892 980,850 1020,800 C1060,750 1100,678 1120,620 C1140,562 1137,480 1140,452 L1085,452 L1262,282 L1432,452 Z" fill="#0073b7"/>
<path d="M278,560 C282,533 276,452 300,400 C324,348 370,285 420,250 C470,215 543,198 600,190 C657,182 713,185 760,200 C807,215 850,247 880,280 C910,313 928,360 940,400 C952,440 952,500 955,520 L1005,520 L825,685 L680,520 L735,520 C734,508 738,470 730,450 C722,430 712,413 690,400 C668,387 632,374 600,372 C568,370 533,372 500,385 C467,398 428,421 400,450 C372,479 347,522 330,560 C313,598 305,660 300,680" fill="none" stroke="#0073b7" stroke-width="9" stroke-linejoin="miter"/>
<circle cx="825" cy="817" r="118" fill="#f39200"/>
<text x="352" y="735" font-size="182" font-weight="bold" font-style="italic" textLength="355" lengthAdjust="spacingAndGlyphs" fill="#111">INPE</text>
</g>

</svg></body></html>
